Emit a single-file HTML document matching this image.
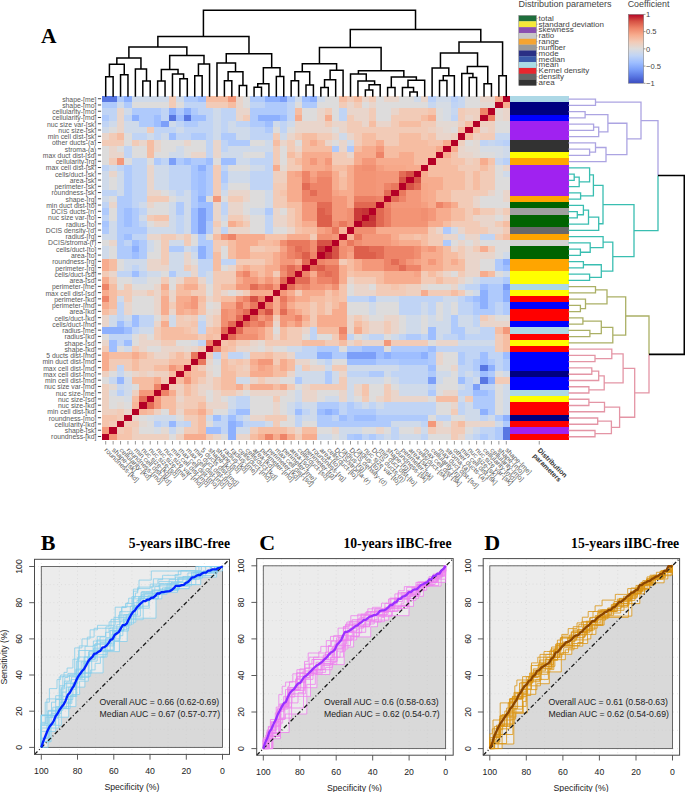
<!DOCTYPE html>
<html><head><meta charset="utf-8"><style>
html,body{margin:0;padding:0;background:#fff;}
svg{display:block;}
</style></head><body>
<svg width="685" height="792" viewBox="0 0 685 792">
<rect width="685" height="792" fill="#fff"/>
<defs><filter id="soft" x="-2%" y="-2%" width="104%" height="104%"><feGaussianBlur stdDeviation="0.45"/></filter></defs>
<g shape-rendering="crispEdges" filter="url(#soft)">
<rect x="102.00" y="95.90" width="15.14" height="6.55" fill="#5977e3"/>
<rect x="116.84" y="95.90" width="7.72" height="6.55" fill="#afcafc"/>
<rect x="124.25" y="95.90" width="7.72" height="6.55" fill="#8db0fe"/>
<rect x="131.67" y="95.90" width="37.39" height="6.55" fill="#cfdaea"/>
<rect x="168.76" y="95.90" width="7.72" height="6.55" fill="#f2cbb7"/>
<rect x="176.18" y="95.90" width="7.72" height="6.55" fill="#cfdaea"/>
<rect x="183.60" y="95.90" width="15.14" height="6.55" fill="#afcafc"/>
<rect x="198.44" y="95.90" width="7.72" height="6.55" fill="#9ebeff"/>
<rect x="205.85" y="95.90" width="22.55" height="6.55" fill="#f6bda2"/>
<rect x="228.11" y="95.90" width="7.72" height="6.55" fill="#f4987a"/>
<rect x="235.53" y="95.90" width="7.72" height="6.55" fill="#e9d5cb"/>
<rect x="242.95" y="95.90" width="7.72" height="6.55" fill="#dddcdc"/>
<rect x="250.36" y="95.90" width="15.14" height="6.55" fill="#afcafc"/>
<rect x="265.20" y="95.90" width="15.14" height="6.55" fill="#8db0fe"/>
<rect x="280.04" y="95.90" width="7.72" height="6.55" fill="#7b9ff9"/>
<rect x="287.45" y="95.90" width="7.72" height="6.55" fill="#afcafc"/>
<rect x="294.87" y="95.90" width="7.72" height="6.55" fill="#cfdaea"/>
<rect x="302.29" y="95.90" width="7.72" height="6.55" fill="#9ebeff"/>
<rect x="309.71" y="95.90" width="7.72" height="6.55" fill="#8db0fe"/>
<rect x="317.13" y="95.90" width="7.72" height="6.55" fill="#cfdaea"/>
<rect x="324.55" y="95.90" width="15.14" height="6.55" fill="#dddcdc"/>
<rect x="339.38" y="95.90" width="7.72" height="6.55" fill="#f6bda2"/>
<rect x="346.80" y="95.90" width="7.72" height="6.55" fill="#f2cbb7"/>
<rect x="354.22" y="95.90" width="7.72" height="6.55" fill="#f6bda2"/>
<rect x="361.64" y="95.90" width="7.72" height="6.55" fill="#e9d5cb"/>
<rect x="369.05" y="95.90" width="7.72" height="6.55" fill="#f2cbb7"/>
<rect x="376.47" y="95.90" width="7.72" height="6.55" fill="#dddcdc"/>
<rect x="383.89" y="95.90" width="15.14" height="6.55" fill="#e9d5cb"/>
<rect x="398.73" y="95.90" width="15.14" height="6.55" fill="#dddcdc"/>
<rect x="413.56" y="95.90" width="7.72" height="6.55" fill="#cfdaea"/>
<rect x="420.98" y="95.90" width="7.72" height="6.55" fill="#e9d5cb"/>
<rect x="428.40" y="95.90" width="7.72" height="6.55" fill="#b9d0f9"/>
<rect x="435.82" y="95.90" width="15.14" height="6.55" fill="#cfdaea"/>
<rect x="450.65" y="95.90" width="7.72" height="6.55" fill="#b9d0f9"/>
<rect x="458.07" y="95.90" width="7.72" height="6.55" fill="#c7d7f0"/>
<rect x="465.49" y="95.90" width="15.14" height="6.55" fill="#dddcdc"/>
<rect x="480.33" y="95.90" width="15.14" height="6.55" fill="#e9d5cb"/>
<rect x="495.16" y="95.90" width="7.72" height="6.55" fill="#f7ac8e"/>
<rect x="502.58" y="95.90" width="7.72" height="6.55" fill="#b40426"/>
<rect x="102.00" y="102.15" width="15.14" height="6.55" fill="#afcafc"/>
<rect x="116.84" y="102.15" width="7.72" height="6.55" fill="#cfdaea"/>
<rect x="124.25" y="102.15" width="7.72" height="6.55" fill="#afcafc"/>
<rect x="131.67" y="102.15" width="37.39" height="6.55" fill="#dddcdc"/>
<rect x="168.76" y="102.15" width="7.72" height="6.55" fill="#f2cbb7"/>
<rect x="176.18" y="102.15" width="7.72" height="6.55" fill="#dddcdc"/>
<rect x="183.60" y="102.15" width="22.55" height="6.55" fill="#c0d4f5"/>
<rect x="205.85" y="102.15" width="22.55" height="6.55" fill="#f2cbb7"/>
<rect x="228.11" y="102.15" width="7.72" height="6.55" fill="#f6bda2"/>
<rect x="235.53" y="102.15" width="7.72" height="6.55" fill="#e9d5cb"/>
<rect x="242.95" y="102.15" width="7.72" height="6.55" fill="#dddcdc"/>
<rect x="250.36" y="102.15" width="15.14" height="6.55" fill="#c0d4f5"/>
<rect x="265.20" y="102.15" width="22.55" height="6.55" fill="#afcafc"/>
<rect x="287.45" y="102.15" width="7.72" height="6.55" fill="#c0d4f5"/>
<rect x="294.87" y="102.15" width="7.72" height="6.55" fill="#dddcdc"/>
<rect x="302.29" y="102.15" width="15.14" height="6.55" fill="#afcafc"/>
<rect x="317.13" y="102.15" width="22.55" height="6.55" fill="#dddcdc"/>
<rect x="339.38" y="102.15" width="7.72" height="6.55" fill="#f2cbb7"/>
<rect x="346.80" y="102.15" width="7.72" height="6.55" fill="#e9d5cb"/>
<rect x="354.22" y="102.15" width="7.72" height="6.55" fill="#f2cbb7"/>
<rect x="361.64" y="102.15" width="7.72" height="6.55" fill="#dddcdc"/>
<rect x="369.05" y="102.15" width="7.72" height="6.55" fill="#e9d5cb"/>
<rect x="376.47" y="102.15" width="52.23" height="6.55" fill="#dddcdc"/>
<rect x="428.40" y="102.15" width="7.72" height="6.55" fill="#c7d7f0"/>
<rect x="435.82" y="102.15" width="15.14" height="6.55" fill="#d6dce4"/>
<rect x="450.65" y="102.15" width="7.72" height="6.55" fill="#c0d4f5"/>
<rect x="458.07" y="102.15" width="7.72" height="6.55" fill="#c7d7f0"/>
<rect x="465.49" y="102.15" width="15.14" height="6.55" fill="#dddcdc"/>
<rect x="480.33" y="102.15" width="15.14" height="6.55" fill="#e3d9d3"/>
<rect x="495.16" y="102.15" width="7.72" height="6.55" fill="#b40426"/>
<rect x="502.58" y="102.15" width="7.72" height="6.55" fill="#f7ac8e"/>
<rect x="102.00" y="108.41" width="15.14" height="6.55" fill="#c0d4f5"/>
<rect x="116.84" y="108.41" width="7.72" height="6.55" fill="#e9d5cb"/>
<rect x="124.25" y="108.41" width="7.72" height="6.55" fill="#cfdaea"/>
<rect x="131.67" y="108.41" width="29.97" height="6.55" fill="#afcafc"/>
<rect x="161.35" y="108.41" width="7.72" height="6.55" fill="#c0d4f5"/>
<rect x="168.76" y="108.41" width="7.72" height="6.55" fill="#8db0fe"/>
<rect x="176.18" y="108.41" width="7.72" height="6.55" fill="#afcafc"/>
<rect x="183.60" y="108.41" width="7.72" height="6.55" fill="#8db0fe"/>
<rect x="191.02" y="108.41" width="7.72" height="6.55" fill="#afcafc"/>
<rect x="198.44" y="108.41" width="15.14" height="6.55" fill="#c0d4f5"/>
<rect x="213.27" y="108.41" width="7.72" height="6.55" fill="#cfdaea"/>
<rect x="220.69" y="108.41" width="15.14" height="6.55" fill="#c0d4f5"/>
<rect x="235.53" y="108.41" width="15.14" height="6.55" fill="#e9d5cb"/>
<rect x="250.36" y="108.41" width="37.39" height="6.55" fill="#afcafc"/>
<rect x="287.45" y="108.41" width="7.72" height="6.55" fill="#c0d4f5"/>
<rect x="294.87" y="108.41" width="7.72" height="6.55" fill="#f6bda2"/>
<rect x="302.29" y="108.41" width="15.14" height="6.55" fill="#dddcdc"/>
<rect x="317.13" y="108.41" width="7.72" height="6.55" fill="#e9d5cb"/>
<rect x="324.55" y="108.41" width="7.72" height="6.55" fill="#f2cbb7"/>
<rect x="331.96" y="108.41" width="7.72" height="6.55" fill="#dddcdc"/>
<rect x="339.38" y="108.41" width="7.72" height="6.55" fill="#c0d4f5"/>
<rect x="346.80" y="108.41" width="22.55" height="6.55" fill="#e9d5cb"/>
<rect x="369.05" y="108.41" width="7.72" height="6.55" fill="#f2cbb7"/>
<rect x="376.47" y="108.41" width="15.14" height="6.55" fill="#dddcdc"/>
<rect x="391.31" y="108.41" width="7.72" height="6.55" fill="#e9d5cb"/>
<rect x="398.73" y="108.41" width="29.97" height="6.55" fill="#f2cbb7"/>
<rect x="428.40" y="108.41" width="7.72" height="6.55" fill="#f5c4ac"/>
<rect x="435.82" y="108.41" width="7.72" height="6.55" fill="#dddcdc"/>
<rect x="443.24" y="108.41" width="7.72" height="6.55" fill="#d6dce4"/>
<rect x="450.65" y="108.41" width="7.72" height="6.55" fill="#c7d7f0"/>
<rect x="458.07" y="108.41" width="7.72" height="6.55" fill="#f2cbb7"/>
<rect x="465.49" y="108.41" width="15.14" height="6.55" fill="#eed0c0"/>
<rect x="480.33" y="108.41" width="7.72" height="6.55" fill="#ee8468"/>
<rect x="487.75" y="108.41" width="7.72" height="6.55" fill="#b40426"/>
<rect x="495.16" y="108.41" width="7.72" height="6.55" fill="#e3d9d3"/>
<rect x="502.58" y="108.41" width="7.72" height="6.55" fill="#e9d5cb"/>
<rect x="102.00" y="114.66" width="7.72" height="6.55" fill="#afcafc"/>
<rect x="109.42" y="114.66" width="7.72" height="6.55" fill="#c0d4f5"/>
<rect x="116.84" y="114.66" width="7.72" height="6.55" fill="#e9d5cb"/>
<rect x="124.25" y="114.66" width="7.72" height="6.55" fill="#c0d4f5"/>
<rect x="131.67" y="114.66" width="7.72" height="6.55" fill="#8db0fe"/>
<rect x="139.09" y="114.66" width="15.14" height="6.55" fill="#afcafc"/>
<rect x="153.93" y="114.66" width="7.72" height="6.55" fill="#9ebeff"/>
<rect x="161.35" y="114.66" width="7.72" height="6.55" fill="#c0d4f5"/>
<rect x="168.76" y="114.66" width="7.72" height="6.55" fill="#5977e3"/>
<rect x="176.18" y="114.66" width="7.72" height="6.55" fill="#9ebeff"/>
<rect x="183.60" y="114.66" width="7.72" height="6.55" fill="#5977e3"/>
<rect x="191.02" y="114.66" width="15.14" height="6.55" fill="#9ebeff"/>
<rect x="205.85" y="114.66" width="7.72" height="6.55" fill="#c0d4f5"/>
<rect x="213.27" y="114.66" width="7.72" height="6.55" fill="#cfdaea"/>
<rect x="220.69" y="114.66" width="15.14" height="6.55" fill="#c0d4f5"/>
<rect x="235.53" y="114.66" width="7.72" height="6.55" fill="#e9d5cb"/>
<rect x="242.95" y="114.66" width="7.72" height="6.55" fill="#f2cbb7"/>
<rect x="250.36" y="114.66" width="7.72" height="6.55" fill="#afcafc"/>
<rect x="257.78" y="114.66" width="22.55" height="6.55" fill="#8db0fe"/>
<rect x="280.04" y="114.66" width="7.72" height="6.55" fill="#9ebeff"/>
<rect x="287.45" y="114.66" width="7.72" height="6.55" fill="#c0d4f5"/>
<rect x="294.87" y="114.66" width="7.72" height="6.55" fill="#f7ac8e"/>
<rect x="302.29" y="114.66" width="15.14" height="6.55" fill="#dddcdc"/>
<rect x="317.13" y="114.66" width="7.72" height="6.55" fill="#e9d5cb"/>
<rect x="324.55" y="114.66" width="7.72" height="6.55" fill="#f7ac8e"/>
<rect x="331.96" y="114.66" width="7.72" height="6.55" fill="#dddcdc"/>
<rect x="339.38" y="114.66" width="7.72" height="6.55" fill="#c0d4f5"/>
<rect x="346.80" y="114.66" width="7.72" height="6.55" fill="#f2cbb7"/>
<rect x="354.22" y="114.66" width="15.14" height="6.55" fill="#e9d5cb"/>
<rect x="369.05" y="114.66" width="7.72" height="6.55" fill="#f2cbb7"/>
<rect x="376.47" y="114.66" width="15.14" height="6.55" fill="#dddcdc"/>
<rect x="391.31" y="114.66" width="29.97" height="6.55" fill="#f2cbb7"/>
<rect x="420.98" y="114.66" width="7.72" height="6.55" fill="#f6bda2"/>
<rect x="428.40" y="114.66" width="7.72" height="6.55" fill="#f7ac8e"/>
<rect x="435.82" y="114.66" width="7.72" height="6.55" fill="#dddcdc"/>
<rect x="443.24" y="114.66" width="7.72" height="6.55" fill="#d6dce4"/>
<rect x="450.65" y="114.66" width="7.72" height="6.55" fill="#c0d4f5"/>
<rect x="458.07" y="114.66" width="7.72" height="6.55" fill="#f2cbb7"/>
<rect x="465.49" y="114.66" width="7.72" height="6.55" fill="#e9d5cb"/>
<rect x="472.91" y="114.66" width="7.72" height="6.55" fill="#eed0c0"/>
<rect x="480.33" y="114.66" width="7.72" height="6.55" fill="#b40426"/>
<rect x="487.75" y="114.66" width="7.72" height="6.55" fill="#ee8468"/>
<rect x="495.16" y="114.66" width="7.72" height="6.55" fill="#e3d9d3"/>
<rect x="502.58" y="114.66" width="7.72" height="6.55" fill="#e9d5cb"/>
<rect x="102.00" y="120.92" width="7.72" height="6.55" fill="#c0d4f5"/>
<rect x="109.42" y="120.92" width="7.72" height="6.55" fill="#cfdaea"/>
<rect x="116.84" y="120.92" width="7.72" height="6.55" fill="#e9d5cb"/>
<rect x="124.25" y="120.92" width="15.14" height="6.55" fill="#cfdaea"/>
<rect x="139.09" y="120.92" width="15.14" height="6.55" fill="#afcafc"/>
<rect x="153.93" y="120.92" width="7.72" height="6.55" fill="#9ebeff"/>
<rect x="161.35" y="120.92" width="7.72" height="6.55" fill="#7b9ff9"/>
<rect x="168.76" y="120.92" width="7.72" height="6.55" fill="#cfdaea"/>
<rect x="176.18" y="120.92" width="7.72" height="6.55" fill="#c0d4f5"/>
<rect x="183.60" y="120.92" width="15.14" height="6.55" fill="#afcafc"/>
<rect x="198.44" y="120.92" width="15.14" height="6.55" fill="#c0d4f5"/>
<rect x="213.27" y="120.92" width="7.72" height="6.55" fill="#cfdaea"/>
<rect x="220.69" y="120.92" width="7.72" height="6.55" fill="#c0d4f5"/>
<rect x="228.11" y="120.92" width="7.72" height="6.55" fill="#cfdaea"/>
<rect x="235.53" y="120.92" width="15.14" height="6.55" fill="#c0d4f5"/>
<rect x="250.36" y="120.92" width="15.14" height="6.55" fill="#afcafc"/>
<rect x="265.20" y="120.92" width="7.72" height="6.55" fill="#9ebeff"/>
<rect x="272.62" y="120.92" width="7.72" height="6.55" fill="#cfdaea"/>
<rect x="280.04" y="120.92" width="7.72" height="6.55" fill="#c0d4f5"/>
<rect x="287.45" y="120.92" width="7.72" height="6.55" fill="#cfdaea"/>
<rect x="294.87" y="120.92" width="29.97" height="6.55" fill="#e9d5cb"/>
<rect x="324.55" y="120.92" width="7.72" height="6.55" fill="#f2cbb7"/>
<rect x="331.96" y="120.92" width="15.14" height="6.55" fill="#e9d5cb"/>
<rect x="346.80" y="120.92" width="15.14" height="6.55" fill="#f2cbb7"/>
<rect x="361.64" y="120.92" width="7.72" height="6.55" fill="#e9d5cb"/>
<rect x="369.05" y="120.92" width="7.72" height="6.55" fill="#f6bda2"/>
<rect x="376.47" y="120.92" width="15.14" height="6.55" fill="#e9d5cb"/>
<rect x="391.31" y="120.92" width="7.72" height="6.55" fill="#f2cbb7"/>
<rect x="398.73" y="120.92" width="22.55" height="6.55" fill="#f6bda2"/>
<rect x="420.98" y="120.92" width="15.14" height="6.55" fill="#f2cbb7"/>
<rect x="435.82" y="120.92" width="22.55" height="6.55" fill="#e3d9d3"/>
<rect x="458.07" y="120.92" width="7.72" height="6.55" fill="#eed0c0"/>
<rect x="465.49" y="120.92" width="7.72" height="6.55" fill="#f6bda2"/>
<rect x="472.91" y="120.92" width="7.72" height="6.55" fill="#b40426"/>
<rect x="480.33" y="120.92" width="15.14" height="6.55" fill="#eed0c0"/>
<rect x="495.16" y="120.92" width="15.14" height="6.55" fill="#dddcdc"/>
<rect x="102.00" y="127.17" width="7.72" height="6.55" fill="#cfdaea"/>
<rect x="109.42" y="127.17" width="7.72" height="6.55" fill="#dddcdc"/>
<rect x="116.84" y="127.17" width="7.72" height="6.55" fill="#e9d5cb"/>
<rect x="124.25" y="127.17" width="22.55" height="6.55" fill="#cfdaea"/>
<rect x="146.51" y="127.17" width="7.72" height="6.55" fill="#f2cbb7"/>
<rect x="153.93" y="127.17" width="22.55" height="6.55" fill="#c0d4f5"/>
<rect x="176.18" y="127.17" width="7.72" height="6.55" fill="#cfdaea"/>
<rect x="183.60" y="127.17" width="29.97" height="6.55" fill="#c0d4f5"/>
<rect x="213.27" y="127.17" width="7.72" height="6.55" fill="#cfdaea"/>
<rect x="220.69" y="127.17" width="7.72" height="6.55" fill="#c0d4f5"/>
<rect x="228.11" y="127.17" width="22.55" height="6.55" fill="#cfdaea"/>
<rect x="250.36" y="127.17" width="15.14" height="6.55" fill="#c0d4f5"/>
<rect x="265.20" y="127.17" width="7.72" height="6.55" fill="#afcafc"/>
<rect x="272.62" y="127.17" width="7.72" height="6.55" fill="#dddcdc"/>
<rect x="280.04" y="127.17" width="7.72" height="6.55" fill="#c0d4f5"/>
<rect x="287.45" y="127.17" width="7.72" height="6.55" fill="#dddcdc"/>
<rect x="294.87" y="127.17" width="37.39" height="6.55" fill="#e9d5cb"/>
<rect x="331.96" y="127.17" width="7.72" height="6.55" fill="#dddcdc"/>
<rect x="339.38" y="127.17" width="7.72" height="6.55" fill="#e9d5cb"/>
<rect x="346.80" y="127.17" width="81.90" height="6.55" fill="#f2cbb7"/>
<rect x="428.40" y="127.17" width="7.72" height="6.55" fill="#eed0c0"/>
<rect x="435.82" y="127.17" width="7.72" height="6.55" fill="#e9d5cb"/>
<rect x="443.24" y="127.17" width="7.72" height="6.55" fill="#e3d9d3"/>
<rect x="450.65" y="127.17" width="7.72" height="6.55" fill="#dddcdc"/>
<rect x="458.07" y="127.17" width="7.72" height="6.55" fill="#f6bda2"/>
<rect x="465.49" y="127.17" width="7.72" height="6.55" fill="#b40426"/>
<rect x="472.91" y="127.17" width="7.72" height="6.55" fill="#f6bda2"/>
<rect x="480.33" y="127.17" width="7.72" height="6.55" fill="#e9d5cb"/>
<rect x="487.75" y="127.17" width="7.72" height="6.55" fill="#eed0c0"/>
<rect x="495.16" y="127.17" width="15.14" height="6.55" fill="#dddcdc"/>
<rect x="102.00" y="133.43" width="7.72" height="6.55" fill="#e9d5cb"/>
<rect x="109.42" y="133.43" width="7.72" height="6.55" fill="#f2cbb7"/>
<rect x="116.84" y="133.43" width="7.72" height="6.55" fill="#f6bda2"/>
<rect x="124.25" y="133.43" width="7.72" height="6.55" fill="#dddcdc"/>
<rect x="131.67" y="133.43" width="15.14" height="6.55" fill="#c0d4f5"/>
<rect x="146.51" y="133.43" width="7.72" height="6.55" fill="#cfdaea"/>
<rect x="153.93" y="133.43" width="7.72" height="6.55" fill="#c0d4f5"/>
<rect x="161.35" y="133.43" width="7.72" height="6.55" fill="#cfdaea"/>
<rect x="168.76" y="133.43" width="7.72" height="6.55" fill="#9ebeff"/>
<rect x="176.18" y="133.43" width="15.14" height="6.55" fill="#c0d4f5"/>
<rect x="191.02" y="133.43" width="15.14" height="6.55" fill="#afcafc"/>
<rect x="205.85" y="133.43" width="7.72" height="6.55" fill="#c0d4f5"/>
<rect x="213.27" y="133.43" width="7.72" height="6.55" fill="#cfdaea"/>
<rect x="220.69" y="133.43" width="15.14" height="6.55" fill="#afcafc"/>
<rect x="235.53" y="133.43" width="15.14" height="6.55" fill="#cfdaea"/>
<rect x="250.36" y="133.43" width="22.55" height="6.55" fill="#c0d4f5"/>
<rect x="272.62" y="133.43" width="7.72" height="6.55" fill="#f2cbb7"/>
<rect x="280.04" y="133.43" width="7.72" height="6.55" fill="#cfdaea"/>
<rect x="287.45" y="133.43" width="7.72" height="6.55" fill="#e9d5cb"/>
<rect x="294.87" y="133.43" width="7.72" height="6.55" fill="#f2cbb7"/>
<rect x="302.29" y="133.43" width="15.14" height="6.55" fill="#f6bda2"/>
<rect x="317.13" y="133.43" width="15.14" height="6.55" fill="#f2cbb7"/>
<rect x="331.96" y="133.43" width="7.72" height="6.55" fill="#e9d5cb"/>
<rect x="339.38" y="133.43" width="7.72" height="6.55" fill="#cfdaea"/>
<rect x="346.80" y="133.43" width="7.72" height="6.55" fill="#e9d5cb"/>
<rect x="354.22" y="133.43" width="7.72" height="6.55" fill="#f2cbb7"/>
<rect x="361.64" y="133.43" width="15.14" height="6.55" fill="#f6bda2"/>
<rect x="376.47" y="133.43" width="22.55" height="6.55" fill="#f2cbb7"/>
<rect x="398.73" y="133.43" width="22.55" height="6.55" fill="#f6bda2"/>
<rect x="420.98" y="133.43" width="7.72" height="6.55" fill="#f2cbb7"/>
<rect x="428.40" y="133.43" width="7.72" height="6.55" fill="#f5c4ac"/>
<rect x="435.82" y="133.43" width="15.14" height="6.55" fill="#e9d5cb"/>
<rect x="450.65" y="133.43" width="7.72" height="6.55" fill="#eed0c0"/>
<rect x="458.07" y="133.43" width="7.72" height="6.55" fill="#b40426"/>
<rect x="465.49" y="133.43" width="7.72" height="6.55" fill="#f6bda2"/>
<rect x="472.91" y="133.43" width="7.72" height="6.55" fill="#eed0c0"/>
<rect x="480.33" y="133.43" width="15.14" height="6.55" fill="#f2cbb7"/>
<rect x="495.16" y="133.43" width="15.14" height="6.55" fill="#c7d7f0"/>
<rect x="102.00" y="139.68" width="22.55" height="6.55" fill="#f2cbb7"/>
<rect x="124.25" y="139.68" width="7.72" height="6.55" fill="#dddcdc"/>
<rect x="131.67" y="139.68" width="7.72" height="6.55" fill="#f2cbb7"/>
<rect x="139.09" y="139.68" width="7.72" height="6.55" fill="#e9d5cb"/>
<rect x="146.51" y="139.68" width="7.72" height="6.55" fill="#f6bda2"/>
<rect x="153.93" y="139.68" width="7.72" height="6.55" fill="#e9d5cb"/>
<rect x="161.35" y="139.68" width="22.55" height="6.55" fill="#dddcdc"/>
<rect x="183.60" y="139.68" width="7.72" height="6.55" fill="#e9d5cb"/>
<rect x="191.02" y="139.68" width="15.14" height="6.55" fill="#dddcdc"/>
<rect x="205.85" y="139.68" width="7.72" height="6.55" fill="#c0d4f5"/>
<rect x="213.27" y="139.68" width="7.72" height="6.55" fill="#e9d5cb"/>
<rect x="220.69" y="139.68" width="7.72" height="6.55" fill="#c0d4f5"/>
<rect x="228.11" y="139.68" width="22.55" height="6.55" fill="#afcafc"/>
<rect x="250.36" y="139.68" width="15.14" height="6.55" fill="#dddcdc"/>
<rect x="265.20" y="139.68" width="7.72" height="6.55" fill="#cfdaea"/>
<rect x="272.62" y="139.68" width="7.72" height="6.55" fill="#f6bda2"/>
<rect x="280.04" y="139.68" width="7.72" height="6.55" fill="#e9d5cb"/>
<rect x="287.45" y="139.68" width="7.72" height="6.55" fill="#f2cbb7"/>
<rect x="294.87" y="139.68" width="7.72" height="6.55" fill="#dddcdc"/>
<rect x="302.29" y="139.68" width="7.72" height="6.55" fill="#f6bda2"/>
<rect x="309.71" y="139.68" width="7.72" height="6.55" fill="#f7ac8e"/>
<rect x="317.13" y="139.68" width="7.72" height="6.55" fill="#f6bda2"/>
<rect x="324.55" y="139.68" width="7.72" height="6.55" fill="#e9d5cb"/>
<rect x="331.96" y="139.68" width="7.72" height="6.55" fill="#dddcdc"/>
<rect x="339.38" y="139.68" width="7.72" height="6.55" fill="#e9d5cb"/>
<rect x="346.80" y="139.68" width="7.72" height="6.55" fill="#cfdaea"/>
<rect x="354.22" y="139.68" width="7.72" height="6.55" fill="#f2cbb7"/>
<rect x="361.64" y="139.68" width="15.14" height="6.55" fill="#f6bda2"/>
<rect x="376.47" y="139.68" width="7.72" height="6.55" fill="#f7ac8e"/>
<rect x="383.89" y="139.68" width="15.14" height="6.55" fill="#f2cbb7"/>
<rect x="398.73" y="139.68" width="29.97" height="6.55" fill="#f6bda2"/>
<rect x="428.40" y="139.68" width="15.14" height="6.55" fill="#f5c4ac"/>
<rect x="443.24" y="139.68" width="7.72" height="6.55" fill="#f7ac8e"/>
<rect x="450.65" y="139.68" width="7.72" height="6.55" fill="#b40426"/>
<rect x="458.07" y="139.68" width="7.72" height="6.55" fill="#eed0c0"/>
<rect x="465.49" y="139.68" width="7.72" height="6.55" fill="#dddcdc"/>
<rect x="472.91" y="139.68" width="7.72" height="6.55" fill="#e3d9d3"/>
<rect x="480.33" y="139.68" width="7.72" height="6.55" fill="#c0d4f5"/>
<rect x="487.75" y="139.68" width="7.72" height="6.55" fill="#c7d7f0"/>
<rect x="495.16" y="139.68" width="7.72" height="6.55" fill="#c0d4f5"/>
<rect x="502.58" y="139.68" width="7.72" height="6.55" fill="#b9d0f9"/>
<rect x="102.00" y="145.94" width="7.72" height="6.55" fill="#dddcdc"/>
<rect x="109.42" y="145.94" width="7.72" height="6.55" fill="#e9d5cb"/>
<rect x="116.84" y="145.94" width="7.72" height="6.55" fill="#dddcdc"/>
<rect x="124.25" y="145.94" width="7.72" height="6.55" fill="#c0d4f5"/>
<rect x="131.67" y="145.94" width="15.14" height="6.55" fill="#dddcdc"/>
<rect x="146.51" y="145.94" width="7.72" height="6.55" fill="#f6bda2"/>
<rect x="153.93" y="145.94" width="7.72" height="6.55" fill="#e9d5cb"/>
<rect x="161.35" y="145.94" width="15.14" height="6.55" fill="#dddcdc"/>
<rect x="176.18" y="145.94" width="7.72" height="6.55" fill="#cfdaea"/>
<rect x="183.60" y="145.94" width="22.55" height="6.55" fill="#dddcdc"/>
<rect x="205.85" y="145.94" width="7.72" height="6.55" fill="#c0d4f5"/>
<rect x="213.27" y="145.94" width="7.72" height="6.55" fill="#e9d5cb"/>
<rect x="220.69" y="145.94" width="7.72" height="6.55" fill="#c0d4f5"/>
<rect x="228.11" y="145.94" width="44.81" height="6.55" fill="#cfdaea"/>
<rect x="272.62" y="145.94" width="7.72" height="6.55" fill="#f2cbb7"/>
<rect x="280.04" y="145.94" width="7.72" height="6.55" fill="#dddcdc"/>
<rect x="287.45" y="145.94" width="7.72" height="6.55" fill="#f2cbb7"/>
<rect x="294.87" y="145.94" width="7.72" height="6.55" fill="#e9d5cb"/>
<rect x="302.29" y="145.94" width="29.97" height="6.55" fill="#f6bda2"/>
<rect x="331.96" y="145.94" width="7.72" height="6.55" fill="#afcafc"/>
<rect x="339.38" y="145.94" width="7.72" height="6.55" fill="#e9d5cb"/>
<rect x="346.80" y="145.94" width="7.72" height="6.55" fill="#afcafc"/>
<rect x="354.22" y="145.94" width="7.72" height="6.55" fill="#f6bda2"/>
<rect x="361.64" y="145.94" width="15.14" height="6.55" fill="#f7ac8e"/>
<rect x="376.47" y="145.94" width="7.72" height="6.55" fill="#f4987a"/>
<rect x="383.89" y="145.94" width="52.23" height="6.55" fill="#f6bda2"/>
<rect x="435.82" y="145.94" width="7.72" height="6.55" fill="#f7ac8e"/>
<rect x="443.24" y="145.94" width="7.72" height="6.55" fill="#b40426"/>
<rect x="450.65" y="145.94" width="7.72" height="6.55" fill="#f7ac8e"/>
<rect x="458.07" y="145.94" width="7.72" height="6.55" fill="#e9d5cb"/>
<rect x="465.49" y="145.94" width="15.14" height="6.55" fill="#e3d9d3"/>
<rect x="480.33" y="145.94" width="22.55" height="6.55" fill="#d6dce4"/>
<rect x="502.58" y="145.94" width="7.72" height="6.55" fill="#cfdaea"/>
<rect x="102.00" y="152.19" width="7.72" height="6.55" fill="#dddcdc"/>
<rect x="109.42" y="152.19" width="15.14" height="6.55" fill="#e9d5cb"/>
<rect x="124.25" y="152.19" width="7.72" height="6.55" fill="#c0d4f5"/>
<rect x="131.67" y="152.19" width="15.14" height="6.55" fill="#dddcdc"/>
<rect x="146.51" y="152.19" width="7.72" height="6.55" fill="#f6bda2"/>
<rect x="153.93" y="152.19" width="15.14" height="6.55" fill="#dddcdc"/>
<rect x="168.76" y="152.19" width="15.14" height="6.55" fill="#cfdaea"/>
<rect x="183.60" y="152.19" width="7.72" height="6.55" fill="#dddcdc"/>
<rect x="191.02" y="152.19" width="15.14" height="6.55" fill="#e9d5cb"/>
<rect x="205.85" y="152.19" width="7.72" height="6.55" fill="#c0d4f5"/>
<rect x="213.27" y="152.19" width="7.72" height="6.55" fill="#e9d5cb"/>
<rect x="220.69" y="152.19" width="22.55" height="6.55" fill="#cfdaea"/>
<rect x="242.95" y="152.19" width="22.55" height="6.55" fill="#dddcdc"/>
<rect x="265.20" y="152.19" width="7.72" height="6.55" fill="#c0d4f5"/>
<rect x="272.62" y="152.19" width="7.72" height="6.55" fill="#f2cbb7"/>
<rect x="280.04" y="152.19" width="7.72" height="6.55" fill="#dddcdc"/>
<rect x="287.45" y="152.19" width="7.72" height="6.55" fill="#f6bda2"/>
<rect x="294.87" y="152.19" width="7.72" height="6.55" fill="#f2cbb7"/>
<rect x="302.29" y="152.19" width="29.97" height="6.55" fill="#f7ac8e"/>
<rect x="331.96" y="152.19" width="15.14" height="6.55" fill="#f2cbb7"/>
<rect x="346.80" y="152.19" width="7.72" height="6.55" fill="#e9d5cb"/>
<rect x="354.22" y="152.19" width="22.55" height="6.55" fill="#f7ac8e"/>
<rect x="376.47" y="152.19" width="7.72" height="6.55" fill="#ee8468"/>
<rect x="383.89" y="152.19" width="15.14" height="6.55" fill="#f6bda2"/>
<rect x="398.73" y="152.19" width="15.14" height="6.55" fill="#f7ac8e"/>
<rect x="413.56" y="152.19" width="22.55" height="6.55" fill="#f6bda2"/>
<rect x="435.82" y="152.19" width="7.72" height="6.55" fill="#b40426"/>
<rect x="443.24" y="152.19" width="7.72" height="6.55" fill="#f7ac8e"/>
<rect x="450.65" y="152.19" width="7.72" height="6.55" fill="#f5c4ac"/>
<rect x="458.07" y="152.19" width="15.14" height="6.55" fill="#e9d5cb"/>
<rect x="472.91" y="152.19" width="7.72" height="6.55" fill="#e3d9d3"/>
<rect x="480.33" y="152.19" width="15.14" height="6.55" fill="#dddcdc"/>
<rect x="495.16" y="152.19" width="7.72" height="6.55" fill="#d6dce4"/>
<rect x="502.58" y="152.19" width="7.72" height="6.55" fill="#cfdaea"/>
<rect x="102.00" y="158.45" width="7.72" height="6.55" fill="#dddcdc"/>
<rect x="109.42" y="158.45" width="7.72" height="6.55" fill="#f2cbb7"/>
<rect x="116.84" y="158.45" width="7.72" height="6.55" fill="#f4987a"/>
<rect x="124.25" y="158.45" width="7.72" height="6.55" fill="#dddcdc"/>
<rect x="131.67" y="158.45" width="15.14" height="6.55" fill="#c0d4f5"/>
<rect x="146.51" y="158.45" width="7.72" height="6.55" fill="#dddcdc"/>
<rect x="153.93" y="158.45" width="7.72" height="6.55" fill="#afcafc"/>
<rect x="161.35" y="158.45" width="7.72" height="6.55" fill="#c0d4f5"/>
<rect x="168.76" y="158.45" width="7.72" height="6.55" fill="#7b9ff9"/>
<rect x="176.18" y="158.45" width="7.72" height="6.55" fill="#afcafc"/>
<rect x="183.60" y="158.45" width="7.72" height="6.55" fill="#9ebeff"/>
<rect x="191.02" y="158.45" width="15.14" height="6.55" fill="#afcafc"/>
<rect x="205.85" y="158.45" width="7.72" height="6.55" fill="#9ebeff"/>
<rect x="213.27" y="158.45" width="7.72" height="6.55" fill="#dddcdc"/>
<rect x="220.69" y="158.45" width="15.14" height="6.55" fill="#9ebeff"/>
<rect x="235.53" y="158.45" width="15.14" height="6.55" fill="#cfdaea"/>
<rect x="250.36" y="158.45" width="22.55" height="6.55" fill="#c0d4f5"/>
<rect x="272.62" y="158.45" width="7.72" height="6.55" fill="#f2cbb7"/>
<rect x="280.04" y="158.45" width="7.72" height="6.55" fill="#dddcdc"/>
<rect x="287.45" y="158.45" width="7.72" height="6.55" fill="#f2cbb7"/>
<rect x="294.87" y="158.45" width="7.72" height="6.55" fill="#f6bda2"/>
<rect x="302.29" y="158.45" width="7.72" height="6.55" fill="#f7ac8e"/>
<rect x="309.71" y="158.45" width="7.72" height="6.55" fill="#f4987a"/>
<rect x="317.13" y="158.45" width="7.72" height="6.55" fill="#f7ac8e"/>
<rect x="324.55" y="158.45" width="7.72" height="6.55" fill="#f4987a"/>
<rect x="331.96" y="158.45" width="22.55" height="6.55" fill="#f2cbb7"/>
<rect x="354.22" y="158.45" width="7.72" height="6.55" fill="#f7ac8e"/>
<rect x="361.64" y="158.45" width="15.14" height="6.55" fill="#f4987a"/>
<rect x="376.47" y="158.45" width="37.39" height="6.55" fill="#f7ac8e"/>
<rect x="413.56" y="158.45" width="15.14" height="6.55" fill="#f6bda2"/>
<rect x="428.40" y="158.45" width="7.72" height="6.55" fill="#b40426"/>
<rect x="435.82" y="158.45" width="15.14" height="6.55" fill="#f6bda2"/>
<rect x="450.65" y="158.45" width="15.14" height="6.55" fill="#f5c4ac"/>
<rect x="465.49" y="158.45" width="7.72" height="6.55" fill="#eed0c0"/>
<rect x="472.91" y="158.45" width="7.72" height="6.55" fill="#f2cbb7"/>
<rect x="480.33" y="158.45" width="7.72" height="6.55" fill="#f7ac8e"/>
<rect x="487.75" y="158.45" width="7.72" height="6.55" fill="#f5c4ac"/>
<rect x="495.16" y="158.45" width="7.72" height="6.55" fill="#c7d7f0"/>
<rect x="502.58" y="158.45" width="7.72" height="6.55" fill="#b9d0f9"/>
<rect x="102.00" y="164.70" width="7.72" height="6.55" fill="#c0d4f5"/>
<rect x="109.42" y="164.70" width="7.72" height="6.55" fill="#cfdaea"/>
<rect x="116.84" y="164.70" width="7.72" height="6.55" fill="#c0d4f5"/>
<rect x="124.25" y="164.70" width="7.72" height="6.55" fill="#afcafc"/>
<rect x="131.67" y="164.70" width="15.14" height="6.55" fill="#c0d4f5"/>
<rect x="146.51" y="164.70" width="7.72" height="6.55" fill="#e9d5cb"/>
<rect x="153.93" y="164.70" width="15.14" height="6.55" fill="#cfdaea"/>
<rect x="168.76" y="164.70" width="22.55" height="6.55" fill="#c0d4f5"/>
<rect x="191.02" y="164.70" width="7.72" height="6.55" fill="#a7c5fe"/>
<rect x="198.44" y="164.70" width="7.72" height="6.55" fill="#8db0fe"/>
<rect x="205.85" y="164.70" width="7.72" height="6.55" fill="#afcafc"/>
<rect x="213.27" y="164.70" width="7.72" height="6.55" fill="#f2cbb7"/>
<rect x="220.69" y="164.70" width="7.72" height="6.55" fill="#c0d4f5"/>
<rect x="228.11" y="164.70" width="22.55" height="6.55" fill="#dddcdc"/>
<rect x="250.36" y="164.70" width="15.14" height="6.55" fill="#cfdaea"/>
<rect x="265.20" y="164.70" width="7.72" height="6.55" fill="#c0d4f5"/>
<rect x="272.62" y="164.70" width="7.72" height="6.55" fill="#f7ac8e"/>
<rect x="280.04" y="164.70" width="7.72" height="6.55" fill="#e3d9d3"/>
<rect x="287.45" y="164.70" width="15.14" height="6.55" fill="#f2cbb7"/>
<rect x="302.29" y="164.70" width="22.55" height="6.55" fill="#f7ac8e"/>
<rect x="324.55" y="164.70" width="7.72" height="6.55" fill="#f6a385"/>
<rect x="331.96" y="164.70" width="15.14" height="6.55" fill="#f6bda2"/>
<rect x="346.80" y="164.70" width="7.72" height="6.55" fill="#f7ac8e"/>
<rect x="354.22" y="164.70" width="7.72" height="6.55" fill="#f39475"/>
<rect x="361.64" y="164.70" width="15.14" height="6.55" fill="#f18f71"/>
<rect x="376.47" y="164.70" width="7.72" height="6.55" fill="#f59f80"/>
<rect x="383.89" y="164.70" width="22.55" height="6.55" fill="#f7a889"/>
<rect x="406.15" y="164.70" width="15.14" height="6.55" fill="#f7ac8e"/>
<rect x="420.98" y="164.70" width="7.72" height="6.55" fill="#b40426"/>
<rect x="428.40" y="164.70" width="29.97" height="6.55" fill="#f6bda2"/>
<rect x="458.07" y="164.70" width="22.55" height="6.55" fill="#f2cbb7"/>
<rect x="480.33" y="164.70" width="7.72" height="6.55" fill="#f6bda2"/>
<rect x="487.75" y="164.70" width="7.72" height="6.55" fill="#f2cbb7"/>
<rect x="495.16" y="164.70" width="7.72" height="6.55" fill="#dddcdc"/>
<rect x="502.58" y="164.70" width="7.72" height="6.55" fill="#e9d5cb"/>
<rect x="102.00" y="170.95" width="7.72" height="6.55" fill="#cfdaea"/>
<rect x="109.42" y="170.95" width="7.72" height="6.55" fill="#e9d5cb"/>
<rect x="116.84" y="170.95" width="7.72" height="6.55" fill="#cfdaea"/>
<rect x="124.25" y="170.95" width="7.72" height="6.55" fill="#afcafc"/>
<rect x="131.67" y="170.95" width="15.14" height="6.55" fill="#c0d4f5"/>
<rect x="146.51" y="170.95" width="7.72" height="6.55" fill="#e9d5cb"/>
<rect x="153.93" y="170.95" width="15.14" height="6.55" fill="#cfdaea"/>
<rect x="168.76" y="170.95" width="22.55" height="6.55" fill="#c0d4f5"/>
<rect x="191.02" y="170.95" width="7.72" height="6.55" fill="#a7c5fe"/>
<rect x="198.44" y="170.95" width="7.72" height="6.55" fill="#9ebeff"/>
<rect x="205.85" y="170.95" width="7.72" height="6.55" fill="#afcafc"/>
<rect x="213.27" y="170.95" width="7.72" height="6.55" fill="#f2cbb7"/>
<rect x="220.69" y="170.95" width="7.72" height="6.55" fill="#afcafc"/>
<rect x="228.11" y="170.95" width="22.55" height="6.55" fill="#cfdaea"/>
<rect x="250.36" y="170.95" width="22.55" height="6.55" fill="#c0d4f5"/>
<rect x="272.62" y="170.95" width="15.14" height="6.55" fill="#eed0c0"/>
<rect x="287.45" y="170.95" width="7.72" height="6.55" fill="#f7ac8e"/>
<rect x="294.87" y="170.95" width="7.72" height="6.55" fill="#f6a385"/>
<rect x="302.29" y="170.95" width="7.72" height="6.55" fill="#ee8468"/>
<rect x="309.71" y="170.95" width="7.72" height="6.55" fill="#f6a385"/>
<rect x="317.13" y="170.95" width="15.14" height="6.55" fill="#f18f71"/>
<rect x="331.96" y="170.95" width="7.72" height="6.55" fill="#f7ac8e"/>
<rect x="339.38" y="170.95" width="7.72" height="6.55" fill="#f5c4ac"/>
<rect x="346.80" y="170.95" width="7.72" height="6.55" fill="#f7ac8e"/>
<rect x="354.22" y="170.95" width="22.55" height="6.55" fill="#f39475"/>
<rect x="376.47" y="170.95" width="22.55" height="6.55" fill="#f4987a"/>
<rect x="398.73" y="170.95" width="7.72" height="6.55" fill="#e36c55"/>
<rect x="406.15" y="170.95" width="7.72" height="6.55" fill="#d65244"/>
<rect x="413.56" y="170.95" width="7.72" height="6.55" fill="#b40426"/>
<rect x="420.98" y="170.95" width="7.72" height="6.55" fill="#f7ac8e"/>
<rect x="428.40" y="170.95" width="37.39" height="6.55" fill="#f6bda2"/>
<rect x="465.49" y="170.95" width="7.72" height="6.55" fill="#f2cbb7"/>
<rect x="472.91" y="170.95" width="7.72" height="6.55" fill="#f6bda2"/>
<rect x="480.33" y="170.95" width="15.14" height="6.55" fill="#f2cbb7"/>
<rect x="495.16" y="170.95" width="7.72" height="6.55" fill="#dddcdc"/>
<rect x="502.58" y="170.95" width="7.72" height="6.55" fill="#cfdaea"/>
<rect x="102.00" y="177.21" width="7.72" height="6.55" fill="#cfdaea"/>
<rect x="109.42" y="177.21" width="7.72" height="6.55" fill="#dddcdc"/>
<rect x="116.84" y="177.21" width="7.72" height="6.55" fill="#cfdaea"/>
<rect x="124.25" y="177.21" width="7.72" height="6.55" fill="#afcafc"/>
<rect x="131.67" y="177.21" width="15.14" height="6.55" fill="#c0d4f5"/>
<rect x="146.51" y="177.21" width="7.72" height="6.55" fill="#e9d5cb"/>
<rect x="153.93" y="177.21" width="15.14" height="6.55" fill="#cfdaea"/>
<rect x="168.76" y="177.21" width="22.55" height="6.55" fill="#c0d4f5"/>
<rect x="191.02" y="177.21" width="7.72" height="6.55" fill="#a7c5fe"/>
<rect x="198.44" y="177.21" width="7.72" height="6.55" fill="#9ebeff"/>
<rect x="205.85" y="177.21" width="7.72" height="6.55" fill="#afcafc"/>
<rect x="213.27" y="177.21" width="7.72" height="6.55" fill="#f2cbb7"/>
<rect x="220.69" y="177.21" width="7.72" height="6.55" fill="#afcafc"/>
<rect x="228.11" y="177.21" width="22.55" height="6.55" fill="#cfdaea"/>
<rect x="250.36" y="177.21" width="22.55" height="6.55" fill="#c0d4f5"/>
<rect x="272.62" y="177.21" width="15.14" height="6.55" fill="#eed0c0"/>
<rect x="287.45" y="177.21" width="15.14" height="6.55" fill="#f7ac8e"/>
<rect x="302.29" y="177.21" width="7.72" height="6.55" fill="#ee8468"/>
<rect x="309.71" y="177.21" width="7.72" height="6.55" fill="#f4987a"/>
<rect x="317.13" y="177.21" width="15.14" height="6.55" fill="#ee8468"/>
<rect x="331.96" y="177.21" width="7.72" height="6.55" fill="#f7ac8e"/>
<rect x="339.38" y="177.21" width="7.72" height="6.55" fill="#f6bda2"/>
<rect x="346.80" y="177.21" width="7.72" height="6.55" fill="#f7ac8e"/>
<rect x="354.22" y="177.21" width="22.55" height="6.55" fill="#f39475"/>
<rect x="376.47" y="177.21" width="22.55" height="6.55" fill="#f4987a"/>
<rect x="398.73" y="177.21" width="7.72" height="6.55" fill="#d65244"/>
<rect x="406.15" y="177.21" width="7.72" height="6.55" fill="#b40426"/>
<rect x="413.56" y="177.21" width="7.72" height="6.55" fill="#d65244"/>
<rect x="420.98" y="177.21" width="22.55" height="6.55" fill="#f7ac8e"/>
<rect x="443.24" y="177.21" width="22.55" height="6.55" fill="#f6bda2"/>
<rect x="465.49" y="177.21" width="7.72" height="6.55" fill="#f2cbb7"/>
<rect x="472.91" y="177.21" width="7.72" height="6.55" fill="#f6bda2"/>
<rect x="480.33" y="177.21" width="15.14" height="6.55" fill="#f2cbb7"/>
<rect x="495.16" y="177.21" width="15.14" height="6.55" fill="#dddcdc"/>
<rect x="102.00" y="183.46" width="7.72" height="6.55" fill="#cfdaea"/>
<rect x="109.42" y="183.46" width="7.72" height="6.55" fill="#dddcdc"/>
<rect x="116.84" y="183.46" width="7.72" height="6.55" fill="#cfdaea"/>
<rect x="124.25" y="183.46" width="7.72" height="6.55" fill="#afcafc"/>
<rect x="131.67" y="183.46" width="15.14" height="6.55" fill="#c0d4f5"/>
<rect x="146.51" y="183.46" width="7.72" height="6.55" fill="#e9d5cb"/>
<rect x="153.93" y="183.46" width="15.14" height="6.55" fill="#cfdaea"/>
<rect x="168.76" y="183.46" width="22.55" height="6.55" fill="#c0d4f5"/>
<rect x="191.02" y="183.46" width="7.72" height="6.55" fill="#a7c5fe"/>
<rect x="198.44" y="183.46" width="7.72" height="6.55" fill="#9ebeff"/>
<rect x="205.85" y="183.46" width="7.72" height="6.55" fill="#afcafc"/>
<rect x="213.27" y="183.46" width="7.72" height="6.55" fill="#f2cbb7"/>
<rect x="220.69" y="183.46" width="7.72" height="6.55" fill="#c0d4f5"/>
<rect x="228.11" y="183.46" width="22.55" height="6.55" fill="#dddcdc"/>
<rect x="250.36" y="183.46" width="22.55" height="6.55" fill="#c0d4f5"/>
<rect x="272.62" y="183.46" width="15.14" height="6.55" fill="#f2cbb7"/>
<rect x="287.45" y="183.46" width="15.14" height="6.55" fill="#f7ac8e"/>
<rect x="302.29" y="183.46" width="7.72" height="6.55" fill="#e36c55"/>
<rect x="309.71" y="183.46" width="22.55" height="6.55" fill="#ee8468"/>
<rect x="331.96" y="183.46" width="7.72" height="6.55" fill="#f7ac8e"/>
<rect x="339.38" y="183.46" width="7.72" height="6.55" fill="#f6bda2"/>
<rect x="346.80" y="183.46" width="7.72" height="6.55" fill="#f7ac8e"/>
<rect x="354.22" y="183.46" width="22.55" height="6.55" fill="#f39475"/>
<rect x="376.47" y="183.46" width="7.72" height="6.55" fill="#f4987a"/>
<rect x="383.89" y="183.46" width="7.72" height="6.55" fill="#ee8468"/>
<rect x="391.31" y="183.46" width="7.72" height="6.55" fill="#e9785d"/>
<rect x="398.73" y="183.46" width="7.72" height="6.55" fill="#b40426"/>
<rect x="406.15" y="183.46" width="7.72" height="6.55" fill="#d65244"/>
<rect x="413.56" y="183.46" width="7.72" height="6.55" fill="#e36c55"/>
<rect x="420.98" y="183.46" width="7.72" height="6.55" fill="#f7a889"/>
<rect x="428.40" y="183.46" width="15.14" height="6.55" fill="#f7ac8e"/>
<rect x="443.24" y="183.46" width="22.55" height="6.55" fill="#f6bda2"/>
<rect x="465.49" y="183.46" width="7.72" height="6.55" fill="#f2cbb7"/>
<rect x="472.91" y="183.46" width="7.72" height="6.55" fill="#f6bda2"/>
<rect x="480.33" y="183.46" width="15.14" height="6.55" fill="#f2cbb7"/>
<rect x="495.16" y="183.46" width="15.14" height="6.55" fill="#dddcdc"/>
<rect x="102.00" y="189.72" width="15.14" height="6.55" fill="#c0d4f5"/>
<rect x="116.84" y="189.72" width="7.72" height="6.55" fill="#cfdaea"/>
<rect x="124.25" y="189.72" width="7.72" height="6.55" fill="#afcafc"/>
<rect x="131.67" y="189.72" width="15.14" height="6.55" fill="#c0d4f5"/>
<rect x="146.51" y="189.72" width="15.14" height="6.55" fill="#e9d5cb"/>
<rect x="161.35" y="189.72" width="7.72" height="6.55" fill="#dddcdc"/>
<rect x="168.76" y="189.72" width="7.72" height="6.55" fill="#cfdaea"/>
<rect x="176.18" y="189.72" width="7.72" height="6.55" fill="#c0d4f5"/>
<rect x="183.60" y="189.72" width="7.72" height="6.55" fill="#cfdaea"/>
<rect x="191.02" y="189.72" width="7.72" height="6.55" fill="#afcafc"/>
<rect x="198.44" y="189.72" width="7.72" height="6.55" fill="#9ebeff"/>
<rect x="205.85" y="189.72" width="7.72" height="6.55" fill="#afcafc"/>
<rect x="213.27" y="189.72" width="7.72" height="6.55" fill="#f2cbb7"/>
<rect x="220.69" y="189.72" width="7.72" height="6.55" fill="#cfdaea"/>
<rect x="228.11" y="189.72" width="22.55" height="6.55" fill="#e9d5cb"/>
<rect x="250.36" y="189.72" width="15.14" height="6.55" fill="#dddcdc"/>
<rect x="265.20" y="189.72" width="7.72" height="6.55" fill="#cfdaea"/>
<rect x="272.62" y="189.72" width="7.72" height="6.55" fill="#f2cbb7"/>
<rect x="280.04" y="189.72" width="7.72" height="6.55" fill="#f5c4ac"/>
<rect x="287.45" y="189.72" width="15.14" height="6.55" fill="#f7ac8e"/>
<rect x="302.29" y="189.72" width="7.72" height="6.55" fill="#ee8468"/>
<rect x="309.71" y="189.72" width="7.72" height="6.55" fill="#e36c55"/>
<rect x="317.13" y="189.72" width="15.14" height="6.55" fill="#ee8468"/>
<rect x="331.96" y="189.72" width="7.72" height="6.55" fill="#f6a385"/>
<rect x="339.38" y="189.72" width="15.14" height="6.55" fill="#f7ac8e"/>
<rect x="354.22" y="189.72" width="22.55" height="6.55" fill="#f39475"/>
<rect x="376.47" y="189.72" width="7.72" height="6.55" fill="#f4987a"/>
<rect x="383.89" y="189.72" width="7.72" height="6.55" fill="#e36c55"/>
<rect x="391.31" y="189.72" width="7.72" height="6.55" fill="#b40426"/>
<rect x="398.73" y="189.72" width="7.72" height="6.55" fill="#e9785d"/>
<rect x="406.15" y="189.72" width="15.14" height="6.55" fill="#f4987a"/>
<rect x="420.98" y="189.72" width="7.72" height="6.55" fill="#f7a889"/>
<rect x="428.40" y="189.72" width="7.72" height="6.55" fill="#f7ac8e"/>
<rect x="435.82" y="189.72" width="15.14" height="6.55" fill="#f6bda2"/>
<rect x="450.65" y="189.72" width="37.39" height="6.55" fill="#f2cbb7"/>
<rect x="487.75" y="189.72" width="7.72" height="6.55" fill="#e9d5cb"/>
<rect x="495.16" y="189.72" width="7.72" height="6.55" fill="#dddcdc"/>
<rect x="502.58" y="189.72" width="7.72" height="6.55" fill="#e9d5cb"/>
<rect x="102.00" y="195.97" width="7.72" height="6.55" fill="#cfdaea"/>
<rect x="109.42" y="195.97" width="7.72" height="6.55" fill="#dddcdc"/>
<rect x="116.84" y="195.97" width="15.14" height="6.55" fill="#afcafc"/>
<rect x="131.67" y="195.97" width="15.14" height="6.55" fill="#c0d4f5"/>
<rect x="146.51" y="195.97" width="22.55" height="6.55" fill="#f2cbb7"/>
<rect x="168.76" y="195.97" width="7.72" height="6.55" fill="#dddcdc"/>
<rect x="176.18" y="195.97" width="15.14" height="6.55" fill="#cfdaea"/>
<rect x="191.02" y="195.97" width="7.72" height="6.55" fill="#afcafc"/>
<rect x="198.44" y="195.97" width="7.72" height="6.55" fill="#8db0fe"/>
<rect x="205.85" y="195.97" width="7.72" height="6.55" fill="#dddcdc"/>
<rect x="213.27" y="195.97" width="7.72" height="6.55" fill="#f4987a"/>
<rect x="220.69" y="195.97" width="7.72" height="6.55" fill="#dddcdc"/>
<rect x="228.11" y="195.97" width="15.14" height="6.55" fill="#f2cbb7"/>
<rect x="242.95" y="195.97" width="7.72" height="6.55" fill="#e9d5cb"/>
<rect x="250.36" y="195.97" width="15.14" height="6.55" fill="#dddcdc"/>
<rect x="265.20" y="195.97" width="7.72" height="6.55" fill="#cfdaea"/>
<rect x="272.62" y="195.97" width="15.14" height="6.55" fill="#f2cbb7"/>
<rect x="287.45" y="195.97" width="15.14" height="6.55" fill="#f7ac8e"/>
<rect x="302.29" y="195.97" width="29.97" height="6.55" fill="#ee8468"/>
<rect x="331.96" y="195.97" width="15.14" height="6.55" fill="#f4987a"/>
<rect x="346.80" y="195.97" width="7.72" height="6.55" fill="#f7ac8e"/>
<rect x="354.22" y="195.97" width="22.55" height="6.55" fill="#eb7d62"/>
<rect x="376.47" y="195.97" width="7.72" height="6.55" fill="#ee8468"/>
<rect x="383.89" y="195.97" width="7.72" height="6.55" fill="#b40426"/>
<rect x="391.31" y="195.97" width="7.72" height="6.55" fill="#e36c55"/>
<rect x="398.73" y="195.97" width="7.72" height="6.55" fill="#ee8468"/>
<rect x="406.15" y="195.97" width="15.14" height="6.55" fill="#f4987a"/>
<rect x="420.98" y="195.97" width="7.72" height="6.55" fill="#f7a889"/>
<rect x="428.40" y="195.97" width="7.72" height="6.55" fill="#f7ac8e"/>
<rect x="435.82" y="195.97" width="15.14" height="6.55" fill="#f6bda2"/>
<rect x="450.65" y="195.97" width="22.55" height="6.55" fill="#f2cbb7"/>
<rect x="472.91" y="195.97" width="7.72" height="6.55" fill="#e9d5cb"/>
<rect x="480.33" y="195.97" width="22.55" height="6.55" fill="#dddcdc"/>
<rect x="502.58" y="195.97" width="7.72" height="6.55" fill="#e9d5cb"/>
<rect x="102.00" y="202.23" width="7.72" height="6.55" fill="#c0d4f5"/>
<rect x="109.42" y="202.23" width="7.72" height="6.55" fill="#e9d5cb"/>
<rect x="116.84" y="202.23" width="15.14" height="6.55" fill="#afcafc"/>
<rect x="131.67" y="202.23" width="7.72" height="6.55" fill="#c0d4f5"/>
<rect x="139.09" y="202.23" width="7.72" height="6.55" fill="#cfdaea"/>
<rect x="146.51" y="202.23" width="7.72" height="6.55" fill="#e9d5cb"/>
<rect x="153.93" y="202.23" width="15.14" height="6.55" fill="#dddcdc"/>
<rect x="168.76" y="202.23" width="7.72" height="6.55" fill="#cfdaea"/>
<rect x="176.18" y="202.23" width="7.72" height="6.55" fill="#afcafc"/>
<rect x="183.60" y="202.23" width="7.72" height="6.55" fill="#cfdaea"/>
<rect x="191.02" y="202.23" width="7.72" height="6.55" fill="#afcafc"/>
<rect x="198.44" y="202.23" width="15.14" height="6.55" fill="#9ebeff"/>
<rect x="213.27" y="202.23" width="7.72" height="6.55" fill="#e9d5cb"/>
<rect x="220.69" y="202.23" width="7.72" height="6.55" fill="#c0d4f5"/>
<rect x="228.11" y="202.23" width="15.14" height="6.55" fill="#e9d5cb"/>
<rect x="242.95" y="202.23" width="22.55" height="6.55" fill="#dddcdc"/>
<rect x="265.20" y="202.23" width="7.72" height="6.55" fill="#cfdaea"/>
<rect x="272.62" y="202.23" width="15.14" height="6.55" fill="#f2cbb7"/>
<rect x="287.45" y="202.23" width="15.14" height="6.55" fill="#f6bda2"/>
<rect x="302.29" y="202.23" width="15.14" height="6.55" fill="#f4987a"/>
<rect x="317.13" y="202.23" width="15.14" height="6.55" fill="#e36c55"/>
<rect x="331.96" y="202.23" width="15.14" height="6.55" fill="#f4987a"/>
<rect x="346.80" y="202.23" width="7.72" height="6.55" fill="#f7ac8e"/>
<rect x="354.22" y="202.23" width="22.55" height="6.55" fill="#e16751"/>
<rect x="376.47" y="202.23" width="7.72" height="6.55" fill="#b40426"/>
<rect x="383.89" y="202.23" width="7.72" height="6.55" fill="#ee8468"/>
<rect x="391.31" y="202.23" width="29.97" height="6.55" fill="#f4987a"/>
<rect x="420.98" y="202.23" width="7.72" height="6.55" fill="#f59f80"/>
<rect x="428.40" y="202.23" width="7.72" height="6.55" fill="#f7ac8e"/>
<rect x="435.82" y="202.23" width="7.72" height="6.55" fill="#ee8468"/>
<rect x="443.24" y="202.23" width="7.72" height="6.55" fill="#f4987a"/>
<rect x="450.65" y="202.23" width="7.72" height="6.55" fill="#f7ac8e"/>
<rect x="458.07" y="202.23" width="15.14" height="6.55" fill="#f2cbb7"/>
<rect x="472.91" y="202.23" width="7.72" height="6.55" fill="#e9d5cb"/>
<rect x="480.33" y="202.23" width="29.97" height="6.55" fill="#dddcdc"/>
<rect x="102.00" y="208.48" width="7.72" height="6.55" fill="#afcafc"/>
<rect x="109.42" y="208.48" width="7.72" height="6.55" fill="#dddcdc"/>
<rect x="116.84" y="208.48" width="7.72" height="6.55" fill="#afcafc"/>
<rect x="124.25" y="208.48" width="7.72" height="6.55" fill="#9ebeff"/>
<rect x="131.67" y="208.48" width="7.72" height="6.55" fill="#afcafc"/>
<rect x="139.09" y="208.48" width="7.72" height="6.55" fill="#c0d4f5"/>
<rect x="146.51" y="208.48" width="22.55" height="6.55" fill="#dddcdc"/>
<rect x="168.76" y="208.48" width="7.72" height="6.55" fill="#cfdaea"/>
<rect x="176.18" y="208.48" width="7.72" height="6.55" fill="#afcafc"/>
<rect x="183.60" y="208.48" width="7.72" height="6.55" fill="#cfdaea"/>
<rect x="191.02" y="208.48" width="7.72" height="6.55" fill="#9ebeff"/>
<rect x="198.44" y="208.48" width="7.72" height="6.55" fill="#7b9ff9"/>
<rect x="205.85" y="208.48" width="7.72" height="6.55" fill="#9ebeff"/>
<rect x="213.27" y="208.48" width="7.72" height="6.55" fill="#e9d5cb"/>
<rect x="220.69" y="208.48" width="7.72" height="6.55" fill="#c0d4f5"/>
<rect x="228.11" y="208.48" width="15.14" height="6.55" fill="#e9d5cb"/>
<rect x="242.95" y="208.48" width="7.72" height="6.55" fill="#dddcdc"/>
<rect x="250.36" y="208.48" width="15.14" height="6.55" fill="#cfdaea"/>
<rect x="265.20" y="208.48" width="7.72" height="6.55" fill="#afcafc"/>
<rect x="272.62" y="208.48" width="7.72" height="6.55" fill="#e9d5cb"/>
<rect x="280.04" y="208.48" width="7.72" height="6.55" fill="#dddcdc"/>
<rect x="287.45" y="208.48" width="7.72" height="6.55" fill="#f2cbb7"/>
<rect x="294.87" y="208.48" width="7.72" height="6.55" fill="#f6bda2"/>
<rect x="302.29" y="208.48" width="15.14" height="6.55" fill="#f4987a"/>
<rect x="317.13" y="208.48" width="7.72" height="6.55" fill="#dd5f4b"/>
<rect x="324.55" y="208.48" width="7.72" height="6.55" fill="#e36c55"/>
<rect x="331.96" y="208.48" width="15.14" height="6.55" fill="#f4987a"/>
<rect x="346.80" y="208.48" width="7.72" height="6.55" fill="#f18f71"/>
<rect x="354.22" y="208.48" width="7.72" height="6.55" fill="#ca3b37"/>
<rect x="361.64" y="208.48" width="7.72" height="6.55" fill="#c53334"/>
<rect x="369.05" y="208.48" width="7.72" height="6.55" fill="#b40426"/>
<rect x="376.47" y="208.48" width="7.72" height="6.55" fill="#e16751"/>
<rect x="383.89" y="208.48" width="7.72" height="6.55" fill="#eb7d62"/>
<rect x="391.31" y="208.48" width="29.97" height="6.55" fill="#f39475"/>
<rect x="420.98" y="208.48" width="7.72" height="6.55" fill="#f18f71"/>
<rect x="428.40" y="208.48" width="7.72" height="6.55" fill="#f4987a"/>
<rect x="435.82" y="208.48" width="15.14" height="6.55" fill="#f7ac8e"/>
<rect x="450.65" y="208.48" width="15.14" height="6.55" fill="#f6bda2"/>
<rect x="465.49" y="208.48" width="7.72" height="6.55" fill="#f2cbb7"/>
<rect x="472.91" y="208.48" width="7.72" height="6.55" fill="#f6bda2"/>
<rect x="480.33" y="208.48" width="15.14" height="6.55" fill="#f2cbb7"/>
<rect x="495.16" y="208.48" width="7.72" height="6.55" fill="#e9d5cb"/>
<rect x="502.58" y="208.48" width="7.72" height="6.55" fill="#f2cbb7"/>
<rect x="102.00" y="214.74" width="7.72" height="6.55" fill="#c0d4f5"/>
<rect x="109.42" y="214.74" width="7.72" height="6.55" fill="#dddcdc"/>
<rect x="116.84" y="214.74" width="7.72" height="6.55" fill="#afcafc"/>
<rect x="124.25" y="214.74" width="7.72" height="6.55" fill="#9ebeff"/>
<rect x="131.67" y="214.74" width="7.72" height="6.55" fill="#afcafc"/>
<rect x="139.09" y="214.74" width="7.72" height="6.55" fill="#cfdaea"/>
<rect x="146.51" y="214.74" width="7.72" height="6.55" fill="#f2cbb7"/>
<rect x="153.93" y="214.74" width="15.14" height="6.55" fill="#f5c4ac"/>
<rect x="168.76" y="214.74" width="7.72" height="6.55" fill="#cfdaea"/>
<rect x="176.18" y="214.74" width="7.72" height="6.55" fill="#c0d4f5"/>
<rect x="183.60" y="214.74" width="7.72" height="6.55" fill="#cfdaea"/>
<rect x="191.02" y="214.74" width="7.72" height="6.55" fill="#9ebeff"/>
<rect x="198.44" y="214.74" width="7.72" height="6.55" fill="#7b9ff9"/>
<rect x="205.85" y="214.74" width="7.72" height="6.55" fill="#9ebeff"/>
<rect x="213.27" y="214.74" width="7.72" height="6.55" fill="#e9d5cb"/>
<rect x="220.69" y="214.74" width="7.72" height="6.55" fill="#cfdaea"/>
<rect x="228.11" y="214.74" width="15.14" height="6.55" fill="#f2cbb7"/>
<rect x="242.95" y="214.74" width="7.72" height="6.55" fill="#e9d5cb"/>
<rect x="250.36" y="214.74" width="15.14" height="6.55" fill="#dddcdc"/>
<rect x="265.20" y="214.74" width="7.72" height="6.55" fill="#c0d4f5"/>
<rect x="272.62" y="214.74" width="15.14" height="6.55" fill="#e9d5cb"/>
<rect x="287.45" y="214.74" width="7.72" height="6.55" fill="#f2cbb7"/>
<rect x="294.87" y="214.74" width="7.72" height="6.55" fill="#f6bda2"/>
<rect x="302.29" y="214.74" width="15.14" height="6.55" fill="#f4987a"/>
<rect x="317.13" y="214.74" width="15.14" height="6.55" fill="#dd5f4b"/>
<rect x="331.96" y="214.74" width="15.14" height="6.55" fill="#f4987a"/>
<rect x="346.80" y="214.74" width="7.72" height="6.55" fill="#f18f71"/>
<rect x="354.22" y="214.74" width="7.72" height="6.55" fill="#ca3b37"/>
<rect x="361.64" y="214.74" width="7.72" height="6.55" fill="#b40426"/>
<rect x="369.05" y="214.74" width="7.72" height="6.55" fill="#c53334"/>
<rect x="376.47" y="214.74" width="7.72" height="6.55" fill="#e16751"/>
<rect x="383.89" y="214.74" width="7.72" height="6.55" fill="#eb7d62"/>
<rect x="391.31" y="214.74" width="29.97" height="6.55" fill="#f39475"/>
<rect x="420.98" y="214.74" width="7.72" height="6.55" fill="#f18f71"/>
<rect x="428.40" y="214.74" width="7.72" height="6.55" fill="#f4987a"/>
<rect x="435.82" y="214.74" width="15.14" height="6.55" fill="#f7ac8e"/>
<rect x="450.65" y="214.74" width="15.14" height="6.55" fill="#f6bda2"/>
<rect x="465.49" y="214.74" width="7.72" height="6.55" fill="#f2cbb7"/>
<rect x="472.91" y="214.74" width="22.55" height="6.55" fill="#e9d5cb"/>
<rect x="495.16" y="214.74" width="7.72" height="6.55" fill="#dddcdc"/>
<rect x="502.58" y="214.74" width="7.72" height="6.55" fill="#e9d5cb"/>
<rect x="102.00" y="220.99" width="7.72" height="6.55" fill="#a7c5fe"/>
<rect x="109.42" y="220.99" width="7.72" height="6.55" fill="#cfdaea"/>
<rect x="116.84" y="220.99" width="7.72" height="6.55" fill="#afcafc"/>
<rect x="124.25" y="220.99" width="7.72" height="6.55" fill="#9ebeff"/>
<rect x="131.67" y="220.99" width="7.72" height="6.55" fill="#afcafc"/>
<rect x="139.09" y="220.99" width="7.72" height="6.55" fill="#c0d4f5"/>
<rect x="146.51" y="220.99" width="7.72" height="6.55" fill="#dddcdc"/>
<rect x="153.93" y="220.99" width="15.14" height="6.55" fill="#e9d5cb"/>
<rect x="168.76" y="220.99" width="7.72" height="6.55" fill="#cfdaea"/>
<rect x="176.18" y="220.99" width="7.72" height="6.55" fill="#c0d4f5"/>
<rect x="183.60" y="220.99" width="7.72" height="6.55" fill="#cfdaea"/>
<rect x="191.02" y="220.99" width="7.72" height="6.55" fill="#9ebeff"/>
<rect x="198.44" y="220.99" width="7.72" height="6.55" fill="#7b9ff9"/>
<rect x="205.85" y="220.99" width="7.72" height="6.55" fill="#afcafc"/>
<rect x="213.27" y="220.99" width="7.72" height="6.55" fill="#f2cbb7"/>
<rect x="220.69" y="220.99" width="7.72" height="6.55" fill="#dddcdc"/>
<rect x="228.11" y="220.99" width="7.72" height="6.55" fill="#f7ac8e"/>
<rect x="235.53" y="220.99" width="7.72" height="6.55" fill="#f6bda2"/>
<rect x="242.95" y="220.99" width="7.72" height="6.55" fill="#f2cbb7"/>
<rect x="250.36" y="220.99" width="15.14" height="6.55" fill="#dddcdc"/>
<rect x="265.20" y="220.99" width="7.72" height="6.55" fill="#c0d4f5"/>
<rect x="272.62" y="220.99" width="15.14" height="6.55" fill="#e9d5cb"/>
<rect x="287.45" y="220.99" width="7.72" height="6.55" fill="#f2cbb7"/>
<rect x="294.87" y="220.99" width="7.72" height="6.55" fill="#f6bda2"/>
<rect x="302.29" y="220.99" width="15.14" height="6.55" fill="#f7ac8e"/>
<rect x="317.13" y="220.99" width="15.14" height="6.55" fill="#dd5f4b"/>
<rect x="331.96" y="220.99" width="7.72" height="6.55" fill="#f18f71"/>
<rect x="339.38" y="220.99" width="7.72" height="6.55" fill="#e9785d"/>
<rect x="346.80" y="220.99" width="7.72" height="6.55" fill="#f18f71"/>
<rect x="354.22" y="220.99" width="7.72" height="6.55" fill="#b40426"/>
<rect x="361.64" y="220.99" width="15.14" height="6.55" fill="#ca3b37"/>
<rect x="376.47" y="220.99" width="7.72" height="6.55" fill="#e16751"/>
<rect x="383.89" y="220.99" width="7.72" height="6.55" fill="#eb7d62"/>
<rect x="391.31" y="220.99" width="37.39" height="6.55" fill="#f39475"/>
<rect x="428.40" y="220.99" width="15.14" height="6.55" fill="#f7ac8e"/>
<rect x="443.24" y="220.99" width="7.72" height="6.55" fill="#f6bda2"/>
<rect x="450.65" y="220.99" width="29.97" height="6.55" fill="#f2cbb7"/>
<rect x="480.33" y="220.99" width="15.14" height="6.55" fill="#e9d5cb"/>
<rect x="495.16" y="220.99" width="7.72" height="6.55" fill="#f2cbb7"/>
<rect x="502.58" y="220.99" width="7.72" height="6.55" fill="#f6bda2"/>
<rect x="102.00" y="227.25" width="7.72" height="6.55" fill="#afcafc"/>
<rect x="109.42" y="227.25" width="7.72" height="6.55" fill="#cfdaea"/>
<rect x="116.84" y="227.25" width="29.97" height="6.55" fill="#afcafc"/>
<rect x="146.51" y="227.25" width="29.97" height="6.55" fill="#cfdaea"/>
<rect x="176.18" y="227.25" width="7.72" height="6.55" fill="#c0d4f5"/>
<rect x="183.60" y="227.25" width="7.72" height="6.55" fill="#cfdaea"/>
<rect x="191.02" y="227.25" width="7.72" height="6.55" fill="#9ebeff"/>
<rect x="198.44" y="227.25" width="7.72" height="6.55" fill="#7b9ff9"/>
<rect x="205.85" y="227.25" width="7.72" height="6.55" fill="#afcafc"/>
<rect x="213.27" y="227.25" width="7.72" height="6.55" fill="#e9d5cb"/>
<rect x="220.69" y="227.25" width="7.72" height="6.55" fill="#c0d4f5"/>
<rect x="228.11" y="227.25" width="22.55" height="6.55" fill="#e9d5cb"/>
<rect x="250.36" y="227.25" width="15.14" height="6.55" fill="#dddcdc"/>
<rect x="265.20" y="227.25" width="7.72" height="6.55" fill="#c0d4f5"/>
<rect x="272.62" y="227.25" width="15.14" height="6.55" fill="#dddcdc"/>
<rect x="287.45" y="227.25" width="7.72" height="6.55" fill="#e9d5cb"/>
<rect x="294.87" y="227.25" width="7.72" height="6.55" fill="#f5c4ac"/>
<rect x="302.29" y="227.25" width="15.14" height="6.55" fill="#f6bda2"/>
<rect x="317.13" y="227.25" width="7.72" height="6.55" fill="#f6a385"/>
<rect x="324.55" y="227.25" width="7.72" height="6.55" fill="#f4987a"/>
<rect x="331.96" y="227.25" width="7.72" height="6.55" fill="#e9785d"/>
<rect x="339.38" y="227.25" width="7.72" height="6.55" fill="#f7b599"/>
<rect x="346.80" y="227.25" width="7.72" height="6.55" fill="#b40426"/>
<rect x="354.22" y="227.25" width="22.55" height="6.55" fill="#f18f71"/>
<rect x="376.47" y="227.25" width="52.23" height="6.55" fill="#f7ac8e"/>
<rect x="428.40" y="227.25" width="7.72" height="6.55" fill="#f2cbb7"/>
<rect x="435.82" y="227.25" width="7.72" height="6.55" fill="#e9d5cb"/>
<rect x="443.24" y="227.25" width="7.72" height="6.55" fill="#afcafc"/>
<rect x="450.65" y="227.25" width="7.72" height="6.55" fill="#cfdaea"/>
<rect x="458.07" y="227.25" width="7.72" height="6.55" fill="#e9d5cb"/>
<rect x="465.49" y="227.25" width="22.55" height="6.55" fill="#f2cbb7"/>
<rect x="487.75" y="227.25" width="15.14" height="6.55" fill="#e9d5cb"/>
<rect x="502.58" y="227.25" width="7.72" height="6.55" fill="#f2cbb7"/>
<rect x="102.00" y="233.50" width="15.14" height="6.55" fill="#cfdaea"/>
<rect x="116.84" y="233.50" width="7.72" height="6.55" fill="#afcafc"/>
<rect x="124.25" y="233.50" width="7.72" height="6.55" fill="#9ebeff"/>
<rect x="131.67" y="233.50" width="15.14" height="6.55" fill="#c0d4f5"/>
<rect x="146.51" y="233.50" width="15.14" height="6.55" fill="#e9d5cb"/>
<rect x="161.35" y="233.50" width="15.14" height="6.55" fill="#f2cbb7"/>
<rect x="176.18" y="233.50" width="7.72" height="6.55" fill="#e9d5cb"/>
<rect x="183.60" y="233.50" width="7.72" height="6.55" fill="#f2cbb7"/>
<rect x="191.02" y="233.50" width="7.72" height="6.55" fill="#dddcdc"/>
<rect x="198.44" y="233.50" width="7.72" height="6.55" fill="#afcafc"/>
<rect x="205.85" y="233.50" width="7.72" height="6.55" fill="#dddcdc"/>
<rect x="213.27" y="233.50" width="7.72" height="6.55" fill="#f6bda2"/>
<rect x="220.69" y="233.50" width="7.72" height="6.55" fill="#f4987a"/>
<rect x="228.11" y="233.50" width="7.72" height="6.55" fill="#ee8468"/>
<rect x="235.53" y="233.50" width="29.97" height="6.55" fill="#f7ac8e"/>
<rect x="265.20" y="233.50" width="22.55" height="6.55" fill="#f5c4ac"/>
<rect x="287.45" y="233.50" width="22.55" height="6.55" fill="#f7ac8e"/>
<rect x="309.71" y="233.50" width="7.72" height="6.55" fill="#f2cbb7"/>
<rect x="317.13" y="233.50" width="15.14" height="6.55" fill="#f18f71"/>
<rect x="331.96" y="233.50" width="7.72" height="6.55" fill="#f4987a"/>
<rect x="339.38" y="233.50" width="7.72" height="6.55" fill="#b40426"/>
<rect x="346.80" y="233.50" width="7.72" height="6.55" fill="#f7b599"/>
<rect x="354.22" y="233.50" width="7.72" height="6.55" fill="#e9785d"/>
<rect x="361.64" y="233.50" width="29.97" height="6.55" fill="#f4987a"/>
<rect x="391.31" y="233.50" width="7.72" height="6.55" fill="#f7ac8e"/>
<rect x="398.73" y="233.50" width="15.14" height="6.55" fill="#f6bda2"/>
<rect x="413.56" y="233.50" width="7.72" height="6.55" fill="#f5c4ac"/>
<rect x="420.98" y="233.50" width="7.72" height="6.55" fill="#f6bda2"/>
<rect x="428.40" y="233.50" width="15.14" height="6.55" fill="#f2cbb7"/>
<rect x="443.24" y="233.50" width="15.14" height="6.55" fill="#e9d5cb"/>
<rect x="458.07" y="233.50" width="7.72" height="6.55" fill="#cfdaea"/>
<rect x="465.49" y="233.50" width="15.14" height="6.55" fill="#e9d5cb"/>
<rect x="480.33" y="233.50" width="15.14" height="6.55" fill="#c0d4f5"/>
<rect x="495.16" y="233.50" width="7.72" height="6.55" fill="#f2cbb7"/>
<rect x="502.58" y="233.50" width="7.72" height="6.55" fill="#f6bda2"/>
<rect x="102.00" y="239.75" width="7.72" height="6.55" fill="#dddcdc"/>
<rect x="109.42" y="239.75" width="7.72" height="6.55" fill="#e9d5cb"/>
<rect x="116.84" y="239.75" width="7.72" height="6.55" fill="#afcafc"/>
<rect x="124.25" y="239.75" width="7.72" height="6.55" fill="#c0d4f5"/>
<rect x="131.67" y="239.75" width="7.72" height="6.55" fill="#9ebeff"/>
<rect x="139.09" y="239.75" width="7.72" height="6.55" fill="#afcafc"/>
<rect x="146.51" y="239.75" width="7.72" height="6.55" fill="#cfdaea"/>
<rect x="153.93" y="239.75" width="7.72" height="6.55" fill="#dddcdc"/>
<rect x="161.35" y="239.75" width="7.72" height="6.55" fill="#f2cbb7"/>
<rect x="168.76" y="239.75" width="15.14" height="6.55" fill="#cfdaea"/>
<rect x="183.60" y="239.75" width="7.72" height="6.55" fill="#f2cbb7"/>
<rect x="191.02" y="239.75" width="7.72" height="6.55" fill="#dddcdc"/>
<rect x="198.44" y="239.75" width="15.14" height="6.55" fill="#afcafc"/>
<rect x="213.27" y="239.75" width="15.14" height="6.55" fill="#f2cbb7"/>
<rect x="228.11" y="239.75" width="7.72" height="6.55" fill="#f6bda2"/>
<rect x="235.53" y="239.75" width="22.55" height="6.55" fill="#f7ac8e"/>
<rect x="257.78" y="239.75" width="15.14" height="6.55" fill="#f6bda2"/>
<rect x="272.62" y="239.75" width="7.72" height="6.55" fill="#f7b599"/>
<rect x="280.04" y="239.75" width="7.72" height="6.55" fill="#f18f71"/>
<rect x="287.45" y="239.75" width="22.55" height="6.55" fill="#e9785d"/>
<rect x="309.71" y="239.75" width="7.72" height="6.55" fill="#f18f71"/>
<rect x="317.13" y="239.75" width="15.14" height="6.55" fill="#d65244"/>
<rect x="331.96" y="239.75" width="7.72" height="6.55" fill="#b40426"/>
<rect x="339.38" y="239.75" width="7.72" height="6.55" fill="#f4987a"/>
<rect x="346.80" y="239.75" width="7.72" height="6.55" fill="#e9785d"/>
<rect x="354.22" y="239.75" width="7.72" height="6.55" fill="#f18f71"/>
<rect x="361.64" y="239.75" width="29.97" height="6.55" fill="#f4987a"/>
<rect x="391.31" y="239.75" width="7.72" height="6.55" fill="#f6a385"/>
<rect x="398.73" y="239.75" width="22.55" height="6.55" fill="#f7ac8e"/>
<rect x="420.98" y="239.75" width="7.72" height="6.55" fill="#f6bda2"/>
<rect x="428.40" y="239.75" width="15.14" height="6.55" fill="#f2cbb7"/>
<rect x="443.24" y="239.75" width="7.72" height="6.55" fill="#afcafc"/>
<rect x="450.65" y="239.75" width="7.72" height="6.55" fill="#dddcdc"/>
<rect x="458.07" y="239.75" width="7.72" height="6.55" fill="#e9d5cb"/>
<rect x="465.49" y="239.75" width="7.72" height="6.55" fill="#dddcdc"/>
<rect x="472.91" y="239.75" width="7.72" height="6.55" fill="#e9d5cb"/>
<rect x="480.33" y="239.75" width="29.97" height="6.55" fill="#dddcdc"/>
<rect x="102.00" y="246.01" width="7.72" height="6.55" fill="#cfdaea"/>
<rect x="109.42" y="246.01" width="7.72" height="6.55" fill="#dddcdc"/>
<rect x="116.84" y="246.01" width="15.14" height="6.55" fill="#afcafc"/>
<rect x="131.67" y="246.01" width="7.72" height="6.55" fill="#8db0fe"/>
<rect x="139.09" y="246.01" width="7.72" height="6.55" fill="#afcafc"/>
<rect x="146.51" y="246.01" width="7.72" height="6.55" fill="#cfdaea"/>
<rect x="153.93" y="246.01" width="7.72" height="6.55" fill="#dddcdc"/>
<rect x="161.35" y="246.01" width="7.72" height="6.55" fill="#f2cbb7"/>
<rect x="168.76" y="246.01" width="15.14" height="6.55" fill="#afcafc"/>
<rect x="183.60" y="246.01" width="7.72" height="6.55" fill="#cfdaea"/>
<rect x="191.02" y="246.01" width="7.72" height="6.55" fill="#c0d4f5"/>
<rect x="198.44" y="246.01" width="7.72" height="6.55" fill="#8db0fe"/>
<rect x="205.85" y="246.01" width="7.72" height="6.55" fill="#afcafc"/>
<rect x="213.27" y="246.01" width="7.72" height="6.55" fill="#f2cbb7"/>
<rect x="220.69" y="246.01" width="7.72" height="6.55" fill="#dddcdc"/>
<rect x="228.11" y="246.01" width="7.72" height="6.55" fill="#f6bda2"/>
<rect x="235.53" y="246.01" width="15.14" height="6.55" fill="#f7ac8e"/>
<rect x="250.36" y="246.01" width="15.14" height="6.55" fill="#f2cbb7"/>
<rect x="265.20" y="246.01" width="15.14" height="6.55" fill="#f5c4ac"/>
<rect x="280.04" y="246.01" width="7.72" height="6.55" fill="#f6a385"/>
<rect x="287.45" y="246.01" width="7.72" height="6.55" fill="#ee8468"/>
<rect x="294.87" y="246.01" width="7.72" height="6.55" fill="#e36c55"/>
<rect x="302.29" y="246.01" width="7.72" height="6.55" fill="#e9785d"/>
<rect x="309.71" y="246.01" width="7.72" height="6.55" fill="#f18f71"/>
<rect x="317.13" y="246.01" width="7.72" height="6.55" fill="#c53334"/>
<rect x="324.55" y="246.01" width="7.72" height="6.55" fill="#b40426"/>
<rect x="331.96" y="246.01" width="7.72" height="6.55" fill="#d65244"/>
<rect x="339.38" y="246.01" width="7.72" height="6.55" fill="#f18f71"/>
<rect x="346.80" y="246.01" width="7.72" height="6.55" fill="#f4987a"/>
<rect x="354.22" y="246.01" width="15.14" height="6.55" fill="#dd5f4b"/>
<rect x="369.05" y="246.01" width="15.14" height="6.55" fill="#e36c55"/>
<rect x="383.89" y="246.01" width="29.97" height="6.55" fill="#ee8468"/>
<rect x="413.56" y="246.01" width="7.72" height="6.55" fill="#f18f71"/>
<rect x="420.98" y="246.01" width="7.72" height="6.55" fill="#f6a385"/>
<rect x="428.40" y="246.01" width="7.72" height="6.55" fill="#f4987a"/>
<rect x="435.82" y="246.01" width="7.72" height="6.55" fill="#f7ac8e"/>
<rect x="443.24" y="246.01" width="7.72" height="6.55" fill="#f6bda2"/>
<rect x="450.65" y="246.01" width="7.72" height="6.55" fill="#e9d5cb"/>
<rect x="458.07" y="246.01" width="7.72" height="6.55" fill="#f2cbb7"/>
<rect x="465.49" y="246.01" width="7.72" height="6.55" fill="#e9d5cb"/>
<rect x="472.91" y="246.01" width="7.72" height="6.55" fill="#f2cbb7"/>
<rect x="480.33" y="246.01" width="7.72" height="6.55" fill="#f7ac8e"/>
<rect x="487.75" y="246.01" width="7.72" height="6.55" fill="#f2cbb7"/>
<rect x="495.16" y="246.01" width="15.14" height="6.55" fill="#dddcdc"/>
<rect x="102.00" y="252.26" width="7.72" height="6.55" fill="#cfdaea"/>
<rect x="109.42" y="252.26" width="7.72" height="6.55" fill="#dddcdc"/>
<rect x="116.84" y="252.26" width="15.14" height="6.55" fill="#afcafc"/>
<rect x="131.67" y="252.26" width="7.72" height="6.55" fill="#9ebeff"/>
<rect x="139.09" y="252.26" width="7.72" height="6.55" fill="#afcafc"/>
<rect x="146.51" y="252.26" width="15.14" height="6.55" fill="#dddcdc"/>
<rect x="161.35" y="252.26" width="7.72" height="6.55" fill="#f2cbb7"/>
<rect x="168.76" y="252.26" width="15.14" height="6.55" fill="#cfdaea"/>
<rect x="183.60" y="252.26" width="7.72" height="6.55" fill="#e9d5cb"/>
<rect x="191.02" y="252.26" width="7.72" height="6.55" fill="#cfdaea"/>
<rect x="198.44" y="252.26" width="7.72" height="6.55" fill="#8db0fe"/>
<rect x="205.85" y="252.26" width="7.72" height="6.55" fill="#afcafc"/>
<rect x="213.27" y="252.26" width="7.72" height="6.55" fill="#f6bda2"/>
<rect x="220.69" y="252.26" width="7.72" height="6.55" fill="#dddcdc"/>
<rect x="228.11" y="252.26" width="7.72" height="6.55" fill="#f6bda2"/>
<rect x="235.53" y="252.26" width="15.14" height="6.55" fill="#f7ac8e"/>
<rect x="250.36" y="252.26" width="22.55" height="6.55" fill="#f6bda2"/>
<rect x="272.62" y="252.26" width="7.72" height="6.55" fill="#f7ac8e"/>
<rect x="280.04" y="252.26" width="7.72" height="6.55" fill="#f4987a"/>
<rect x="287.45" y="252.26" width="7.72" height="6.55" fill="#ee8468"/>
<rect x="294.87" y="252.26" width="7.72" height="6.55" fill="#e9785d"/>
<rect x="302.29" y="252.26" width="7.72" height="6.55" fill="#dd5f4b"/>
<rect x="309.71" y="252.26" width="7.72" height="6.55" fill="#ee8468"/>
<rect x="317.13" y="252.26" width="7.72" height="6.55" fill="#b40426"/>
<rect x="324.55" y="252.26" width="7.72" height="6.55" fill="#c53334"/>
<rect x="331.96" y="252.26" width="7.72" height="6.55" fill="#d65244"/>
<rect x="339.38" y="252.26" width="7.72" height="6.55" fill="#f18f71"/>
<rect x="346.80" y="252.26" width="7.72" height="6.55" fill="#f6a385"/>
<rect x="354.22" y="252.26" width="22.55" height="6.55" fill="#dd5f4b"/>
<rect x="376.47" y="252.26" width="7.72" height="6.55" fill="#e36c55"/>
<rect x="383.89" y="252.26" width="29.97" height="6.55" fill="#ee8468"/>
<rect x="413.56" y="252.26" width="7.72" height="6.55" fill="#f18f71"/>
<rect x="420.98" y="252.26" width="22.55" height="6.55" fill="#f7ac8e"/>
<rect x="443.24" y="252.26" width="15.14" height="6.55" fill="#f6bda2"/>
<rect x="458.07" y="252.26" width="7.72" height="6.55" fill="#f2cbb7"/>
<rect x="465.49" y="252.26" width="29.97" height="6.55" fill="#e9d5cb"/>
<rect x="495.16" y="252.26" width="7.72" height="6.55" fill="#dddcdc"/>
<rect x="502.58" y="252.26" width="7.72" height="6.55" fill="#cfdaea"/>
<rect x="102.00" y="258.52" width="7.72" height="6.55" fill="#f7ac8e"/>
<rect x="109.42" y="258.52" width="7.72" height="6.55" fill="#f6bda2"/>
<rect x="116.84" y="258.52" width="7.72" height="6.55" fill="#dddcdc"/>
<rect x="124.25" y="258.52" width="22.55" height="6.55" fill="#cfdaea"/>
<rect x="146.51" y="258.52" width="15.14" height="6.55" fill="#e9d5cb"/>
<rect x="161.35" y="258.52" width="7.72" height="6.55" fill="#f2cbb7"/>
<rect x="168.76" y="258.52" width="15.14" height="6.55" fill="#cfdaea"/>
<rect x="183.60" y="258.52" width="7.72" height="6.55" fill="#e9d5cb"/>
<rect x="191.02" y="258.52" width="7.72" height="6.55" fill="#dddcdc"/>
<rect x="198.44" y="258.52" width="15.14" height="6.55" fill="#c0d4f5"/>
<rect x="213.27" y="258.52" width="7.72" height="6.55" fill="#f6bda2"/>
<rect x="220.69" y="258.52" width="15.14" height="6.55" fill="#c0d4f5"/>
<rect x="235.53" y="258.52" width="29.97" height="6.55" fill="#f2cbb7"/>
<rect x="265.20" y="258.52" width="7.72" height="6.55" fill="#f6bda2"/>
<rect x="272.62" y="258.52" width="7.72" height="6.55" fill="#f7ac8e"/>
<rect x="280.04" y="258.52" width="15.14" height="6.55" fill="#f4987a"/>
<rect x="294.87" y="258.52" width="7.72" height="6.55" fill="#f7ac8e"/>
<rect x="302.29" y="258.52" width="7.72" height="6.55" fill="#e36c55"/>
<rect x="309.71" y="258.52" width="7.72" height="6.55" fill="#b40426"/>
<rect x="317.13" y="258.52" width="7.72" height="6.55" fill="#ee8468"/>
<rect x="324.55" y="258.52" width="15.14" height="6.55" fill="#f18f71"/>
<rect x="339.38" y="258.52" width="7.72" height="6.55" fill="#f2cbb7"/>
<rect x="346.80" y="258.52" width="7.72" height="6.55" fill="#f6bda2"/>
<rect x="354.22" y="258.52" width="7.72" height="6.55" fill="#f7ac8e"/>
<rect x="361.64" y="258.52" width="22.55" height="6.55" fill="#f4987a"/>
<rect x="383.89" y="258.52" width="7.72" height="6.55" fill="#ee8468"/>
<rect x="391.31" y="258.52" width="7.72" height="6.55" fill="#e36c55"/>
<rect x="398.73" y="258.52" width="7.72" height="6.55" fill="#ee8468"/>
<rect x="406.15" y="258.52" width="7.72" height="6.55" fill="#f4987a"/>
<rect x="413.56" y="258.52" width="7.72" height="6.55" fill="#f6a385"/>
<rect x="420.98" y="258.52" width="7.72" height="6.55" fill="#f7ac8e"/>
<rect x="428.40" y="258.52" width="7.72" height="6.55" fill="#f4987a"/>
<rect x="435.82" y="258.52" width="7.72" height="6.55" fill="#f7ac8e"/>
<rect x="443.24" y="258.52" width="7.72" height="6.55" fill="#f6bda2"/>
<rect x="450.65" y="258.52" width="7.72" height="6.55" fill="#f7ac8e"/>
<rect x="458.07" y="258.52" width="7.72" height="6.55" fill="#f6bda2"/>
<rect x="465.49" y="258.52" width="15.14" height="6.55" fill="#e9d5cb"/>
<rect x="480.33" y="258.52" width="15.14" height="6.55" fill="#dddcdc"/>
<rect x="495.16" y="258.52" width="7.72" height="6.55" fill="#afcafc"/>
<rect x="502.58" y="258.52" width="7.72" height="6.55" fill="#8db0fe"/>
<rect x="102.00" y="264.77" width="7.72" height="6.55" fill="#f7ac8e"/>
<rect x="109.42" y="264.77" width="7.72" height="6.55" fill="#f6bda2"/>
<rect x="116.84" y="264.77" width="7.72" height="6.55" fill="#dddcdc"/>
<rect x="124.25" y="264.77" width="7.72" height="6.55" fill="#cfdaea"/>
<rect x="131.67" y="264.77" width="7.72" height="6.55" fill="#c0d4f5"/>
<rect x="139.09" y="264.77" width="7.72" height="6.55" fill="#cfdaea"/>
<rect x="146.51" y="264.77" width="22.55" height="6.55" fill="#e9d5cb"/>
<rect x="168.76" y="264.77" width="15.14" height="6.55" fill="#cfdaea"/>
<rect x="183.60" y="264.77" width="7.72" height="6.55" fill="#f2cbb7"/>
<rect x="191.02" y="264.77" width="7.72" height="6.55" fill="#e9d5cb"/>
<rect x="198.44" y="264.77" width="15.14" height="6.55" fill="#c0d4f5"/>
<rect x="213.27" y="264.77" width="7.72" height="6.55" fill="#f6bda2"/>
<rect x="220.69" y="264.77" width="7.72" height="6.55" fill="#dddcdc"/>
<rect x="228.11" y="264.77" width="7.72" height="6.55" fill="#e9d5cb"/>
<rect x="235.53" y="264.77" width="7.72" height="6.55" fill="#f6bda2"/>
<rect x="242.95" y="264.77" width="7.72" height="6.55" fill="#f7ac8e"/>
<rect x="250.36" y="264.77" width="15.14" height="6.55" fill="#f6bda2"/>
<rect x="265.20" y="264.77" width="15.14" height="6.55" fill="#f7ac8e"/>
<rect x="280.04" y="264.77" width="7.72" height="6.55" fill="#ee8468"/>
<rect x="287.45" y="264.77" width="7.72" height="6.55" fill="#e36c55"/>
<rect x="294.87" y="264.77" width="7.72" height="6.55" fill="#ee8468"/>
<rect x="302.29" y="264.77" width="7.72" height="6.55" fill="#b40426"/>
<rect x="309.71" y="264.77" width="7.72" height="6.55" fill="#e36c55"/>
<rect x="317.13" y="264.77" width="7.72" height="6.55" fill="#dd5f4b"/>
<rect x="324.55" y="264.77" width="15.14" height="6.55" fill="#e9785d"/>
<rect x="339.38" y="264.77" width="7.72" height="6.55" fill="#f7ac8e"/>
<rect x="346.80" y="264.77" width="7.72" height="6.55" fill="#f6bda2"/>
<rect x="354.22" y="264.77" width="7.72" height="6.55" fill="#f7ac8e"/>
<rect x="361.64" y="264.77" width="22.55" height="6.55" fill="#f4987a"/>
<rect x="383.89" y="264.77" width="15.14" height="6.55" fill="#ee8468"/>
<rect x="398.73" y="264.77" width="7.72" height="6.55" fill="#e36c55"/>
<rect x="406.15" y="264.77" width="15.14" height="6.55" fill="#ee8468"/>
<rect x="420.98" y="264.77" width="22.55" height="6.55" fill="#f7ac8e"/>
<rect x="443.24" y="264.77" width="22.55" height="6.55" fill="#f6bda2"/>
<rect x="465.49" y="264.77" width="15.14" height="6.55" fill="#e9d5cb"/>
<rect x="480.33" y="264.77" width="15.14" height="6.55" fill="#dddcdc"/>
<rect x="495.16" y="264.77" width="7.72" height="6.55" fill="#afcafc"/>
<rect x="502.58" y="264.77" width="7.72" height="6.55" fill="#9ebeff"/>
<rect x="102.00" y="271.03" width="7.72" height="6.55" fill="#f2cbb7"/>
<rect x="109.42" y="271.03" width="7.72" height="6.55" fill="#e9d5cb"/>
<rect x="116.84" y="271.03" width="15.14" height="6.55" fill="#c0d4f5"/>
<rect x="131.67" y="271.03" width="7.72" height="6.55" fill="#9ebeff"/>
<rect x="139.09" y="271.03" width="7.72" height="6.55" fill="#c0d4f5"/>
<rect x="146.51" y="271.03" width="15.14" height="6.55" fill="#cfdaea"/>
<rect x="161.35" y="271.03" width="7.72" height="6.55" fill="#dddcdc"/>
<rect x="168.76" y="271.03" width="7.72" height="6.55" fill="#afcafc"/>
<rect x="176.18" y="271.03" width="15.14" height="6.55" fill="#cfdaea"/>
<rect x="191.02" y="271.03" width="7.72" height="6.55" fill="#e9d5cb"/>
<rect x="198.44" y="271.03" width="7.72" height="6.55" fill="#c0d4f5"/>
<rect x="205.85" y="271.03" width="7.72" height="6.55" fill="#cfdaea"/>
<rect x="213.27" y="271.03" width="22.55" height="6.55" fill="#f2cbb7"/>
<rect x="235.53" y="271.03" width="7.72" height="6.55" fill="#f4987a"/>
<rect x="242.95" y="271.03" width="7.72" height="6.55" fill="#ee8468"/>
<rect x="250.36" y="271.03" width="7.72" height="6.55" fill="#f7ac8e"/>
<rect x="257.78" y="271.03" width="7.72" height="6.55" fill="#f6bda2"/>
<rect x="265.20" y="271.03" width="7.72" height="6.55" fill="#f7ac8e"/>
<rect x="272.62" y="271.03" width="7.72" height="6.55" fill="#f2cbb7"/>
<rect x="280.04" y="271.03" width="7.72" height="6.55" fill="#f18f71"/>
<rect x="287.45" y="271.03" width="7.72" height="6.55" fill="#e36c55"/>
<rect x="294.87" y="271.03" width="7.72" height="6.55" fill="#b40426"/>
<rect x="302.29" y="271.03" width="7.72" height="6.55" fill="#ee8468"/>
<rect x="309.71" y="271.03" width="7.72" height="6.55" fill="#f7ac8e"/>
<rect x="317.13" y="271.03" width="7.72" height="6.55" fill="#e9785d"/>
<rect x="324.55" y="271.03" width="7.72" height="6.55" fill="#e36c55"/>
<rect x="331.96" y="271.03" width="7.72" height="6.55" fill="#e9785d"/>
<rect x="339.38" y="271.03" width="7.72" height="6.55" fill="#f7ac8e"/>
<rect x="346.80" y="271.03" width="7.72" height="6.55" fill="#f5c4ac"/>
<rect x="354.22" y="271.03" width="29.97" height="6.55" fill="#f6bda2"/>
<rect x="383.89" y="271.03" width="29.97" height="6.55" fill="#f7ac8e"/>
<rect x="413.56" y="271.03" width="7.72" height="6.55" fill="#f6a385"/>
<rect x="420.98" y="271.03" width="7.72" height="6.55" fill="#f2cbb7"/>
<rect x="428.40" y="271.03" width="7.72" height="6.55" fill="#f6bda2"/>
<rect x="435.82" y="271.03" width="7.72" height="6.55" fill="#f2cbb7"/>
<rect x="443.24" y="271.03" width="7.72" height="6.55" fill="#e9d5cb"/>
<rect x="450.65" y="271.03" width="7.72" height="6.55" fill="#dddcdc"/>
<rect x="458.07" y="271.03" width="7.72" height="6.55" fill="#f2cbb7"/>
<rect x="465.49" y="271.03" width="15.14" height="6.55" fill="#e9d5cb"/>
<rect x="480.33" y="271.03" width="7.72" height="6.55" fill="#f7ac8e"/>
<rect x="487.75" y="271.03" width="7.72" height="6.55" fill="#f6bda2"/>
<rect x="495.16" y="271.03" width="7.72" height="6.55" fill="#dddcdc"/>
<rect x="502.58" y="271.03" width="7.72" height="6.55" fill="#cfdaea"/>
<rect x="102.00" y="277.28" width="7.72" height="6.55" fill="#f7ac8e"/>
<rect x="109.42" y="277.28" width="7.72" height="6.55" fill="#f2cbb7"/>
<rect x="116.84" y="277.28" width="15.14" height="6.55" fill="#dddcdc"/>
<rect x="131.67" y="277.28" width="15.14" height="6.55" fill="#cfdaea"/>
<rect x="146.51" y="277.28" width="15.14" height="6.55" fill="#dddcdc"/>
<rect x="161.35" y="277.28" width="7.72" height="6.55" fill="#f2cbb7"/>
<rect x="168.76" y="277.28" width="7.72" height="6.55" fill="#dddcdc"/>
<rect x="176.18" y="277.28" width="7.72" height="6.55" fill="#e9d5cb"/>
<rect x="183.60" y="277.28" width="15.14" height="6.55" fill="#f6bda2"/>
<rect x="198.44" y="277.28" width="7.72" height="6.55" fill="#e9d5cb"/>
<rect x="205.85" y="277.28" width="7.72" height="6.55" fill="#cfdaea"/>
<rect x="213.27" y="277.28" width="22.55" height="6.55" fill="#f2cbb7"/>
<rect x="235.53" y="277.28" width="7.72" height="6.55" fill="#f7ac8e"/>
<rect x="242.95" y="277.28" width="15.14" height="6.55" fill="#f4987a"/>
<rect x="257.78" y="277.28" width="7.72" height="6.55" fill="#f7ac8e"/>
<rect x="265.20" y="277.28" width="7.72" height="6.55" fill="#f4987a"/>
<rect x="272.62" y="277.28" width="7.72" height="6.55" fill="#f7ac8e"/>
<rect x="280.04" y="277.28" width="7.72" height="6.55" fill="#e36c55"/>
<rect x="287.45" y="277.28" width="7.72" height="6.55" fill="#b40426"/>
<rect x="294.87" y="277.28" width="15.14" height="6.55" fill="#e36c55"/>
<rect x="309.71" y="277.28" width="7.72" height="6.55" fill="#f4987a"/>
<rect x="317.13" y="277.28" width="15.14" height="6.55" fill="#ee8468"/>
<rect x="331.96" y="277.28" width="7.72" height="6.55" fill="#e9785d"/>
<rect x="339.38" y="277.28" width="7.72" height="6.55" fill="#f7ac8e"/>
<rect x="346.80" y="277.28" width="7.72" height="6.55" fill="#e9d5cb"/>
<rect x="354.22" y="277.28" width="22.55" height="6.55" fill="#f2cbb7"/>
<rect x="376.47" y="277.28" width="7.72" height="6.55" fill="#f6bda2"/>
<rect x="383.89" y="277.28" width="37.39" height="6.55" fill="#f7ac8e"/>
<rect x="420.98" y="277.28" width="15.14" height="6.55" fill="#f2cbb7"/>
<rect x="435.82" y="277.28" width="7.72" height="6.55" fill="#f6bda2"/>
<rect x="443.24" y="277.28" width="15.14" height="6.55" fill="#f2cbb7"/>
<rect x="458.07" y="277.28" width="7.72" height="6.55" fill="#e9d5cb"/>
<rect x="465.49" y="277.28" width="7.72" height="6.55" fill="#dddcdc"/>
<rect x="472.91" y="277.28" width="7.72" height="6.55" fill="#cfdaea"/>
<rect x="480.33" y="277.28" width="22.55" height="6.55" fill="#c0d4f5"/>
<rect x="502.58" y="277.28" width="7.72" height="6.55" fill="#afcafc"/>
<rect x="102.00" y="283.54" width="7.72" height="6.55" fill="#ee8468"/>
<rect x="109.42" y="283.54" width="7.72" height="6.55" fill="#f6bda2"/>
<rect x="116.84" y="283.54" width="7.72" height="6.55" fill="#dddcdc"/>
<rect x="124.25" y="283.54" width="7.72" height="6.55" fill="#f2cbb7"/>
<rect x="131.67" y="283.54" width="22.55" height="6.55" fill="#dddcdc"/>
<rect x="153.93" y="283.54" width="7.72" height="6.55" fill="#e9d5cb"/>
<rect x="161.35" y="283.54" width="7.72" height="6.55" fill="#f7ac8e"/>
<rect x="168.76" y="283.54" width="7.72" height="6.55" fill="#dddcdc"/>
<rect x="176.18" y="283.54" width="7.72" height="6.55" fill="#f6bda2"/>
<rect x="183.60" y="283.54" width="15.14" height="6.55" fill="#f7ac8e"/>
<rect x="198.44" y="283.54" width="7.72" height="6.55" fill="#f2cbb7"/>
<rect x="205.85" y="283.54" width="7.72" height="6.55" fill="#dddcdc"/>
<rect x="213.27" y="283.54" width="7.72" height="6.55" fill="#f2cbb7"/>
<rect x="220.69" y="283.54" width="15.14" height="6.55" fill="#f6bda2"/>
<rect x="235.53" y="283.54" width="15.14" height="6.55" fill="#f4987a"/>
<rect x="250.36" y="283.54" width="7.72" height="6.55" fill="#e36c55"/>
<rect x="257.78" y="283.54" width="7.72" height="6.55" fill="#ee8468"/>
<rect x="265.20" y="283.54" width="7.72" height="6.55" fill="#e9785d"/>
<rect x="272.62" y="283.54" width="7.72" height="6.55" fill="#f4987a"/>
<rect x="280.04" y="283.54" width="7.72" height="6.55" fill="#b40426"/>
<rect x="287.45" y="283.54" width="7.72" height="6.55" fill="#e36c55"/>
<rect x="294.87" y="283.54" width="7.72" height="6.55" fill="#f18f71"/>
<rect x="302.29" y="283.54" width="7.72" height="6.55" fill="#ee8468"/>
<rect x="309.71" y="283.54" width="15.14" height="6.55" fill="#f4987a"/>
<rect x="324.55" y="283.54" width="7.72" height="6.55" fill="#f6a385"/>
<rect x="331.96" y="283.54" width="7.72" height="6.55" fill="#f18f71"/>
<rect x="339.38" y="283.54" width="7.72" height="6.55" fill="#f5c4ac"/>
<rect x="346.80" y="283.54" width="7.72" height="6.55" fill="#dddcdc"/>
<rect x="354.22" y="283.54" width="15.14" height="6.55" fill="#e9d5cb"/>
<rect x="369.05" y="283.54" width="7.72" height="6.55" fill="#dddcdc"/>
<rect x="376.47" y="283.54" width="15.14" height="6.55" fill="#f2cbb7"/>
<rect x="391.31" y="283.54" width="7.72" height="6.55" fill="#f5c4ac"/>
<rect x="398.73" y="283.54" width="7.72" height="6.55" fill="#f2cbb7"/>
<rect x="406.15" y="283.54" width="15.14" height="6.55" fill="#eed0c0"/>
<rect x="420.98" y="283.54" width="7.72" height="6.55" fill="#e3d9d3"/>
<rect x="428.40" y="283.54" width="22.55" height="6.55" fill="#dddcdc"/>
<rect x="450.65" y="283.54" width="7.72" height="6.55" fill="#e9d5cb"/>
<rect x="458.07" y="283.54" width="7.72" height="6.55" fill="#cfdaea"/>
<rect x="465.49" y="283.54" width="15.14" height="6.55" fill="#c0d4f5"/>
<rect x="480.33" y="283.54" width="7.72" height="6.55" fill="#9ebeff"/>
<rect x="487.75" y="283.54" width="15.14" height="6.55" fill="#afcafc"/>
<rect x="502.58" y="283.54" width="7.72" height="6.55" fill="#7b9ff9"/>
<rect x="102.00" y="289.79" width="7.72" height="6.55" fill="#f7ac8e"/>
<rect x="109.42" y="289.79" width="7.72" height="6.55" fill="#f6bda2"/>
<rect x="116.84" y="289.79" width="15.14" height="6.55" fill="#f2cbb7"/>
<rect x="131.67" y="289.79" width="15.14" height="6.55" fill="#e9d5cb"/>
<rect x="146.51" y="289.79" width="7.72" height="6.55" fill="#f2cbb7"/>
<rect x="153.93" y="289.79" width="7.72" height="6.55" fill="#e9d5cb"/>
<rect x="161.35" y="289.79" width="7.72" height="6.55" fill="#f6bda2"/>
<rect x="168.76" y="289.79" width="7.72" height="6.55" fill="#e9d5cb"/>
<rect x="176.18" y="289.79" width="15.14" height="6.55" fill="#f6bda2"/>
<rect x="191.02" y="289.79" width="15.14" height="6.55" fill="#f2cbb7"/>
<rect x="205.85" y="289.79" width="7.72" height="6.55" fill="#dddcdc"/>
<rect x="213.27" y="289.79" width="7.72" height="6.55" fill="#f2cbb7"/>
<rect x="220.69" y="289.79" width="7.72" height="6.55" fill="#e9d5cb"/>
<rect x="228.11" y="289.79" width="7.72" height="6.55" fill="#dddcdc"/>
<rect x="235.53" y="289.79" width="7.72" height="6.55" fill="#e9d5cb"/>
<rect x="242.95" y="289.79" width="7.72" height="6.55" fill="#f2cbb7"/>
<rect x="250.36" y="289.79" width="22.55" height="6.55" fill="#f7ac8e"/>
<rect x="272.62" y="289.79" width="7.72" height="6.55" fill="#b40426"/>
<rect x="280.04" y="289.79" width="7.72" height="6.55" fill="#f4987a"/>
<rect x="287.45" y="289.79" width="7.72" height="6.55" fill="#f7ac8e"/>
<rect x="294.87" y="289.79" width="7.72" height="6.55" fill="#f2cbb7"/>
<rect x="302.29" y="289.79" width="22.55" height="6.55" fill="#f7ac8e"/>
<rect x="324.55" y="289.79" width="7.72" height="6.55" fill="#f5c4ac"/>
<rect x="331.96" y="289.79" width="7.72" height="6.55" fill="#f7b599"/>
<rect x="339.38" y="289.79" width="7.72" height="6.55" fill="#f5c4ac"/>
<rect x="346.80" y="289.79" width="7.72" height="6.55" fill="#dddcdc"/>
<rect x="354.22" y="289.79" width="22.55" height="6.55" fill="#e9d5cb"/>
<rect x="376.47" y="289.79" width="29.97" height="6.55" fill="#f2cbb7"/>
<rect x="406.15" y="289.79" width="15.14" height="6.55" fill="#eed0c0"/>
<rect x="420.98" y="289.79" width="7.72" height="6.55" fill="#f7ac8e"/>
<rect x="428.40" y="289.79" width="22.55" height="6.55" fill="#f2cbb7"/>
<rect x="450.65" y="289.79" width="7.72" height="6.55" fill="#f6bda2"/>
<rect x="458.07" y="289.79" width="7.72" height="6.55" fill="#f2cbb7"/>
<rect x="465.49" y="289.79" width="7.72" height="6.55" fill="#dddcdc"/>
<rect x="472.91" y="289.79" width="7.72" height="6.55" fill="#cfdaea"/>
<rect x="480.33" y="289.79" width="7.72" height="6.55" fill="#8db0fe"/>
<rect x="487.75" y="289.79" width="15.14" height="6.55" fill="#afcafc"/>
<rect x="502.58" y="289.79" width="7.72" height="6.55" fill="#8db0fe"/>
<rect x="102.00" y="296.05" width="7.72" height="6.55" fill="#ee8468"/>
<rect x="109.42" y="296.05" width="7.72" height="6.55" fill="#f6bda2"/>
<rect x="116.84" y="296.05" width="7.72" height="6.55" fill="#cfdaea"/>
<rect x="124.25" y="296.05" width="7.72" height="6.55" fill="#f2cbb7"/>
<rect x="131.67" y="296.05" width="22.55" height="6.55" fill="#dddcdc"/>
<rect x="153.93" y="296.05" width="7.72" height="6.55" fill="#e9d5cb"/>
<rect x="161.35" y="296.05" width="7.72" height="6.55" fill="#f7ac8e"/>
<rect x="168.76" y="296.05" width="7.72" height="6.55" fill="#e9d5cb"/>
<rect x="176.18" y="296.05" width="15.14" height="6.55" fill="#f7ac8e"/>
<rect x="191.02" y="296.05" width="7.72" height="6.55" fill="#f4987a"/>
<rect x="198.44" y="296.05" width="7.72" height="6.55" fill="#f6bda2"/>
<rect x="205.85" y="296.05" width="7.72" height="6.55" fill="#e9d5cb"/>
<rect x="213.27" y="296.05" width="7.72" height="6.55" fill="#f2cbb7"/>
<rect x="220.69" y="296.05" width="15.14" height="6.55" fill="#f6bda2"/>
<rect x="235.53" y="296.05" width="7.72" height="6.55" fill="#f4987a"/>
<rect x="242.95" y="296.05" width="7.72" height="6.55" fill="#ee8468"/>
<rect x="250.36" y="296.05" width="7.72" height="6.55" fill="#d65244"/>
<rect x="257.78" y="296.05" width="7.72" height="6.55" fill="#ee8468"/>
<rect x="265.20" y="296.05" width="7.72" height="6.55" fill="#b40426"/>
<rect x="272.62" y="296.05" width="7.72" height="6.55" fill="#f7ac8e"/>
<rect x="280.04" y="296.05" width="7.72" height="6.55" fill="#e9785d"/>
<rect x="287.45" y="296.05" width="7.72" height="6.55" fill="#f4987a"/>
<rect x="294.87" y="296.05" width="15.14" height="6.55" fill="#f7ac8e"/>
<rect x="309.71" y="296.05" width="15.14" height="6.55" fill="#f6bda2"/>
<rect x="324.55" y="296.05" width="7.72" height="6.55" fill="#f5c4ac"/>
<rect x="331.96" y="296.05" width="7.72" height="6.55" fill="#f6bda2"/>
<rect x="339.38" y="296.05" width="7.72" height="6.55" fill="#f5c4ac"/>
<rect x="346.80" y="296.05" width="22.55" height="6.55" fill="#c0d4f5"/>
<rect x="369.05" y="296.05" width="7.72" height="6.55" fill="#afcafc"/>
<rect x="376.47" y="296.05" width="22.55" height="6.55" fill="#cfdaea"/>
<rect x="398.73" y="296.05" width="44.81" height="6.55" fill="#c0d4f5"/>
<rect x="443.24" y="296.05" width="15.14" height="6.55" fill="#cfdaea"/>
<rect x="458.07" y="296.05" width="7.72" height="6.55" fill="#c0d4f5"/>
<rect x="465.49" y="296.05" width="7.72" height="6.55" fill="#afcafc"/>
<rect x="472.91" y="296.05" width="7.72" height="6.55" fill="#9ebeff"/>
<rect x="480.33" y="296.05" width="7.72" height="6.55" fill="#8db0fe"/>
<rect x="487.75" y="296.05" width="15.14" height="6.55" fill="#afcafc"/>
<rect x="502.58" y="296.05" width="7.72" height="6.55" fill="#8db0fe"/>
<rect x="102.00" y="302.30" width="7.72" height="6.55" fill="#f7ac8e"/>
<rect x="109.42" y="302.30" width="7.72" height="6.55" fill="#f6bda2"/>
<rect x="116.84" y="302.30" width="7.72" height="6.55" fill="#c0d4f5"/>
<rect x="124.25" y="302.30" width="7.72" height="6.55" fill="#e9d5cb"/>
<rect x="131.67" y="302.30" width="22.55" height="6.55" fill="#dddcdc"/>
<rect x="153.93" y="302.30" width="7.72" height="6.55" fill="#e9d5cb"/>
<rect x="161.35" y="302.30" width="7.72" height="6.55" fill="#f7ac8e"/>
<rect x="168.76" y="302.30" width="7.72" height="6.55" fill="#f2cbb7"/>
<rect x="176.18" y="302.30" width="7.72" height="6.55" fill="#f7ac8e"/>
<rect x="183.60" y="302.30" width="7.72" height="6.55" fill="#f6a385"/>
<rect x="191.02" y="302.30" width="7.72" height="6.55" fill="#f4987a"/>
<rect x="198.44" y="302.30" width="7.72" height="6.55" fill="#f5c4ac"/>
<rect x="205.85" y="302.30" width="7.72" height="6.55" fill="#dddcdc"/>
<rect x="213.27" y="302.30" width="7.72" height="6.55" fill="#e3d9d3"/>
<rect x="220.69" y="302.30" width="15.14" height="6.55" fill="#f6a385"/>
<rect x="235.53" y="302.30" width="7.72" height="6.55" fill="#e9785d"/>
<rect x="242.95" y="302.30" width="7.72" height="6.55" fill="#f4987a"/>
<rect x="250.36" y="302.30" width="7.72" height="6.55" fill="#e9785d"/>
<rect x="257.78" y="302.30" width="7.72" height="6.55" fill="#b40426"/>
<rect x="265.20" y="302.30" width="7.72" height="6.55" fill="#ee8468"/>
<rect x="272.62" y="302.30" width="7.72" height="6.55" fill="#f7ac8e"/>
<rect x="280.04" y="302.30" width="7.72" height="6.55" fill="#ee8468"/>
<rect x="287.45" y="302.30" width="7.72" height="6.55" fill="#f7ac8e"/>
<rect x="294.87" y="302.30" width="15.14" height="6.55" fill="#f6bda2"/>
<rect x="309.71" y="302.30" width="7.72" height="6.55" fill="#f2cbb7"/>
<rect x="317.13" y="302.30" width="7.72" height="6.55" fill="#f6bda2"/>
<rect x="324.55" y="302.30" width="7.72" height="6.55" fill="#f2cbb7"/>
<rect x="331.96" y="302.30" width="7.72" height="6.55" fill="#f6bda2"/>
<rect x="339.38" y="302.30" width="7.72" height="6.55" fill="#f7ac8e"/>
<rect x="346.80" y="302.30" width="22.55" height="6.55" fill="#dddcdc"/>
<rect x="369.05" y="302.30" width="7.72" height="6.55" fill="#cfdaea"/>
<rect x="376.47" y="302.30" width="22.55" height="6.55" fill="#dddcdc"/>
<rect x="398.73" y="302.30" width="22.55" height="6.55" fill="#c0d4f5"/>
<rect x="420.98" y="302.30" width="7.72" height="6.55" fill="#cfdaea"/>
<rect x="428.40" y="302.30" width="7.72" height="6.55" fill="#c0d4f5"/>
<rect x="435.82" y="302.30" width="7.72" height="6.55" fill="#dddcdc"/>
<rect x="443.24" y="302.30" width="7.72" height="6.55" fill="#cfdaea"/>
<rect x="450.65" y="302.30" width="7.72" height="6.55" fill="#dddcdc"/>
<rect x="458.07" y="302.30" width="15.14" height="6.55" fill="#c0d4f5"/>
<rect x="472.91" y="302.30" width="7.72" height="6.55" fill="#afcafc"/>
<rect x="480.33" y="302.30" width="7.72" height="6.55" fill="#8db0fe"/>
<rect x="487.75" y="302.30" width="7.72" height="6.55" fill="#afcafc"/>
<rect x="495.16" y="302.30" width="7.72" height="6.55" fill="#c0d4f5"/>
<rect x="502.58" y="302.30" width="7.72" height="6.55" fill="#afcafc"/>
<rect x="102.00" y="308.55" width="7.72" height="6.55" fill="#f6bda2"/>
<rect x="109.42" y="308.55" width="7.72" height="6.55" fill="#f2cbb7"/>
<rect x="116.84" y="308.55" width="7.72" height="6.55" fill="#c0d4f5"/>
<rect x="124.25" y="308.55" width="7.72" height="6.55" fill="#e9d5cb"/>
<rect x="131.67" y="308.55" width="22.55" height="6.55" fill="#dddcdc"/>
<rect x="153.93" y="308.55" width="7.72" height="6.55" fill="#e9d5cb"/>
<rect x="161.35" y="308.55" width="7.72" height="6.55" fill="#f7ac8e"/>
<rect x="168.76" y="308.55" width="7.72" height="6.55" fill="#e9d5cb"/>
<rect x="176.18" y="308.55" width="7.72" height="6.55" fill="#f7ac8e"/>
<rect x="183.60" y="308.55" width="7.72" height="6.55" fill="#f7b599"/>
<rect x="191.02" y="308.55" width="7.72" height="6.55" fill="#f7ac8e"/>
<rect x="198.44" y="308.55" width="7.72" height="6.55" fill="#f5c4ac"/>
<rect x="205.85" y="308.55" width="7.72" height="6.55" fill="#e3d9d3"/>
<rect x="213.27" y="308.55" width="7.72" height="6.55" fill="#e9d5cb"/>
<rect x="220.69" y="308.55" width="7.72" height="6.55" fill="#f18f71"/>
<rect x="228.11" y="308.55" width="7.72" height="6.55" fill="#f4987a"/>
<rect x="235.53" y="308.55" width="7.72" height="6.55" fill="#ee8468"/>
<rect x="242.95" y="308.55" width="7.72" height="6.55" fill="#e36c55"/>
<rect x="250.36" y="308.55" width="7.72" height="6.55" fill="#b40426"/>
<rect x="257.78" y="308.55" width="7.72" height="6.55" fill="#e9785d"/>
<rect x="265.20" y="308.55" width="7.72" height="6.55" fill="#d65244"/>
<rect x="272.62" y="308.55" width="7.72" height="6.55" fill="#f7ac8e"/>
<rect x="280.04" y="308.55" width="7.72" height="6.55" fill="#e36c55"/>
<rect x="287.45" y="308.55" width="7.72" height="6.55" fill="#f4987a"/>
<rect x="294.87" y="308.55" width="7.72" height="6.55" fill="#f7ac8e"/>
<rect x="302.29" y="308.55" width="7.72" height="6.55" fill="#f6bda2"/>
<rect x="309.71" y="308.55" width="7.72" height="6.55" fill="#f2cbb7"/>
<rect x="317.13" y="308.55" width="7.72" height="6.55" fill="#f6bda2"/>
<rect x="324.55" y="308.55" width="7.72" height="6.55" fill="#f2cbb7"/>
<rect x="331.96" y="308.55" width="15.14" height="6.55" fill="#f7ac8e"/>
<rect x="346.80" y="308.55" width="22.55" height="6.55" fill="#dddcdc"/>
<rect x="369.05" y="308.55" width="7.72" height="6.55" fill="#cfdaea"/>
<rect x="376.47" y="308.55" width="22.55" height="6.55" fill="#dddcdc"/>
<rect x="398.73" y="308.55" width="22.55" height="6.55" fill="#c0d4f5"/>
<rect x="420.98" y="308.55" width="7.72" height="6.55" fill="#cfdaea"/>
<rect x="428.40" y="308.55" width="7.72" height="6.55" fill="#c0d4f5"/>
<rect x="435.82" y="308.55" width="7.72" height="6.55" fill="#dddcdc"/>
<rect x="443.24" y="308.55" width="7.72" height="6.55" fill="#cfdaea"/>
<rect x="450.65" y="308.55" width="7.72" height="6.55" fill="#dddcdc"/>
<rect x="458.07" y="308.55" width="15.14" height="6.55" fill="#c0d4f5"/>
<rect x="472.91" y="308.55" width="22.55" height="6.55" fill="#afcafc"/>
<rect x="495.16" y="308.55" width="7.72" height="6.55" fill="#c0d4f5"/>
<rect x="502.58" y="308.55" width="7.72" height="6.55" fill="#afcafc"/>
<rect x="102.00" y="314.81" width="7.72" height="6.55" fill="#e9d5cb"/>
<rect x="109.42" y="314.81" width="7.72" height="6.55" fill="#cfdaea"/>
<rect x="116.84" y="314.81" width="7.72" height="6.55" fill="#c0d4f5"/>
<rect x="124.25" y="314.81" width="7.72" height="6.55" fill="#cfdaea"/>
<rect x="131.67" y="314.81" width="7.72" height="6.55" fill="#9ebeff"/>
<rect x="139.09" y="314.81" width="15.14" height="6.55" fill="#c0d4f5"/>
<rect x="153.93" y="314.81" width="7.72" height="6.55" fill="#dddcdc"/>
<rect x="161.35" y="314.81" width="7.72" height="6.55" fill="#f2cbb7"/>
<rect x="168.76" y="314.81" width="7.72" height="6.55" fill="#cfdaea"/>
<rect x="176.18" y="314.81" width="7.72" height="6.55" fill="#f2cbb7"/>
<rect x="183.60" y="314.81" width="7.72" height="6.55" fill="#eed0c0"/>
<rect x="191.02" y="314.81" width="7.72" height="6.55" fill="#f2cbb7"/>
<rect x="198.44" y="314.81" width="7.72" height="6.55" fill="#cfdaea"/>
<rect x="205.85" y="314.81" width="7.72" height="6.55" fill="#e9d5cb"/>
<rect x="213.27" y="314.81" width="7.72" height="6.55" fill="#f2cbb7"/>
<rect x="220.69" y="314.81" width="7.72" height="6.55" fill="#f18f71"/>
<rect x="228.11" y="314.81" width="7.72" height="6.55" fill="#f4987a"/>
<rect x="235.53" y="314.81" width="7.72" height="6.55" fill="#e36c55"/>
<rect x="242.95" y="314.81" width="7.72" height="6.55" fill="#b40426"/>
<rect x="250.36" y="314.81" width="7.72" height="6.55" fill="#e36c55"/>
<rect x="257.78" y="314.81" width="7.72" height="6.55" fill="#f4987a"/>
<rect x="265.20" y="314.81" width="7.72" height="6.55" fill="#ee8468"/>
<rect x="272.62" y="314.81" width="7.72" height="6.55" fill="#f2cbb7"/>
<rect x="280.04" y="314.81" width="15.14" height="6.55" fill="#f4987a"/>
<rect x="294.87" y="314.81" width="7.72" height="6.55" fill="#ee8468"/>
<rect x="302.29" y="314.81" width="7.72" height="6.55" fill="#f7ac8e"/>
<rect x="309.71" y="314.81" width="7.72" height="6.55" fill="#f2cbb7"/>
<rect x="317.13" y="314.81" width="29.97" height="6.55" fill="#f7ac8e"/>
<rect x="346.80" y="314.81" width="7.72" height="6.55" fill="#e9d5cb"/>
<rect x="354.22" y="314.81" width="7.72" height="6.55" fill="#f2cbb7"/>
<rect x="361.64" y="314.81" width="7.72" height="6.55" fill="#e9d5cb"/>
<rect x="369.05" y="314.81" width="15.14" height="6.55" fill="#dddcdc"/>
<rect x="383.89" y="314.81" width="15.14" height="6.55" fill="#e9d5cb"/>
<rect x="398.73" y="314.81" width="7.72" height="6.55" fill="#dddcdc"/>
<rect x="406.15" y="314.81" width="15.14" height="6.55" fill="#cfdaea"/>
<rect x="420.98" y="314.81" width="7.72" height="6.55" fill="#dddcdc"/>
<rect x="428.40" y="314.81" width="7.72" height="6.55" fill="#cfdaea"/>
<rect x="435.82" y="314.81" width="7.72" height="6.55" fill="#dddcdc"/>
<rect x="443.24" y="314.81" width="7.72" height="6.55" fill="#cfdaea"/>
<rect x="450.65" y="314.81" width="7.72" height="6.55" fill="#afcafc"/>
<rect x="458.07" y="314.81" width="15.14" height="6.55" fill="#cfdaea"/>
<rect x="472.91" y="314.81" width="7.72" height="6.55" fill="#c0d4f5"/>
<rect x="480.33" y="314.81" width="7.72" height="6.55" fill="#f2cbb7"/>
<rect x="487.75" y="314.81" width="7.72" height="6.55" fill="#e9d5cb"/>
<rect x="495.16" y="314.81" width="15.14" height="6.55" fill="#dddcdc"/>
<rect x="102.00" y="321.06" width="7.72" height="6.55" fill="#e9d5cb"/>
<rect x="109.42" y="321.06" width="7.72" height="6.55" fill="#cfdaea"/>
<rect x="116.84" y="321.06" width="7.72" height="6.55" fill="#9ebeff"/>
<rect x="124.25" y="321.06" width="7.72" height="6.55" fill="#c0d4f5"/>
<rect x="131.67" y="321.06" width="7.72" height="6.55" fill="#9ebeff"/>
<rect x="139.09" y="321.06" width="15.14" height="6.55" fill="#c0d4f5"/>
<rect x="153.93" y="321.06" width="7.72" height="6.55" fill="#e9d5cb"/>
<rect x="161.35" y="321.06" width="7.72" height="6.55" fill="#f7ac8e"/>
<rect x="168.76" y="321.06" width="7.72" height="6.55" fill="#cfdaea"/>
<rect x="176.18" y="321.06" width="15.14" height="6.55" fill="#f2cbb7"/>
<rect x="191.02" y="321.06" width="7.72" height="6.55" fill="#f5c4ac"/>
<rect x="198.44" y="321.06" width="7.72" height="6.55" fill="#c0d4f5"/>
<rect x="205.85" y="321.06" width="7.72" height="6.55" fill="#e9d5cb"/>
<rect x="213.27" y="321.06" width="7.72" height="6.55" fill="#f2cbb7"/>
<rect x="220.69" y="321.06" width="7.72" height="6.55" fill="#f18f71"/>
<rect x="228.11" y="321.06" width="7.72" height="6.55" fill="#e36c55"/>
<rect x="235.53" y="321.06" width="7.72" height="6.55" fill="#b40426"/>
<rect x="242.95" y="321.06" width="7.72" height="6.55" fill="#e36c55"/>
<rect x="250.36" y="321.06" width="7.72" height="6.55" fill="#ee8468"/>
<rect x="257.78" y="321.06" width="7.72" height="6.55" fill="#e9785d"/>
<rect x="265.20" y="321.06" width="7.72" height="6.55" fill="#f4987a"/>
<rect x="272.62" y="321.06" width="7.72" height="6.55" fill="#e9d5cb"/>
<rect x="280.04" y="321.06" width="7.72" height="6.55" fill="#f4987a"/>
<rect x="287.45" y="321.06" width="7.72" height="6.55" fill="#f7ac8e"/>
<rect x="294.87" y="321.06" width="7.72" height="6.55" fill="#f4987a"/>
<rect x="302.29" y="321.06" width="7.72" height="6.55" fill="#f6bda2"/>
<rect x="309.71" y="321.06" width="7.72" height="6.55" fill="#f2cbb7"/>
<rect x="317.13" y="321.06" width="29.97" height="6.55" fill="#f7ac8e"/>
<rect x="346.80" y="321.06" width="7.72" height="6.55" fill="#e9d5cb"/>
<rect x="354.22" y="321.06" width="7.72" height="6.55" fill="#f6bda2"/>
<rect x="361.64" y="321.06" width="7.72" height="6.55" fill="#f2cbb7"/>
<rect x="369.05" y="321.06" width="15.14" height="6.55" fill="#e9d5cb"/>
<rect x="383.89" y="321.06" width="7.72" height="6.55" fill="#f2cbb7"/>
<rect x="391.31" y="321.06" width="7.72" height="6.55" fill="#e9d5cb"/>
<rect x="398.73" y="321.06" width="7.72" height="6.55" fill="#dddcdc"/>
<rect x="406.15" y="321.06" width="15.14" height="6.55" fill="#cfdaea"/>
<rect x="420.98" y="321.06" width="7.72" height="6.55" fill="#dddcdc"/>
<rect x="428.40" y="321.06" width="22.55" height="6.55" fill="#cfdaea"/>
<rect x="450.65" y="321.06" width="7.72" height="6.55" fill="#afcafc"/>
<rect x="458.07" y="321.06" width="15.14" height="6.55" fill="#cfdaea"/>
<rect x="472.91" y="321.06" width="7.72" height="6.55" fill="#c0d4f5"/>
<rect x="480.33" y="321.06" width="29.97" height="6.55" fill="#e9d5cb"/>
<rect x="102.00" y="327.32" width="22.55" height="6.55" fill="#8db0fe"/>
<rect x="124.25" y="327.32" width="7.72" height="6.55" fill="#9ebeff"/>
<rect x="131.67" y="327.32" width="7.72" height="6.55" fill="#c0d4f5"/>
<rect x="139.09" y="327.32" width="15.14" height="6.55" fill="#cfdaea"/>
<rect x="153.93" y="327.32" width="7.72" height="6.55" fill="#f2cbb7"/>
<rect x="161.35" y="327.32" width="22.55" height="6.55" fill="#f6bda2"/>
<rect x="183.60" y="327.32" width="7.72" height="6.55" fill="#f5c4ac"/>
<rect x="191.02" y="327.32" width="7.72" height="6.55" fill="#f2cbb7"/>
<rect x="198.44" y="327.32" width="7.72" height="6.55" fill="#c0d4f5"/>
<rect x="205.85" y="327.32" width="7.72" height="6.55" fill="#f5c4ac"/>
<rect x="213.27" y="327.32" width="7.72" height="6.55" fill="#f6bda2"/>
<rect x="220.69" y="327.32" width="7.72" height="6.55" fill="#e36c55"/>
<rect x="228.11" y="327.32" width="7.72" height="6.55" fill="#b40426"/>
<rect x="235.53" y="327.32" width="7.72" height="6.55" fill="#e36c55"/>
<rect x="242.95" y="327.32" width="15.14" height="6.55" fill="#f4987a"/>
<rect x="257.78" y="327.32" width="7.72" height="6.55" fill="#f6a385"/>
<rect x="265.20" y="327.32" width="7.72" height="6.55" fill="#f6bda2"/>
<rect x="272.62" y="327.32" width="7.72" height="6.55" fill="#dddcdc"/>
<rect x="280.04" y="327.32" width="7.72" height="6.55" fill="#f6bda2"/>
<rect x="287.45" y="327.32" width="15.14" height="6.55" fill="#f2cbb7"/>
<rect x="302.29" y="327.32" width="7.72" height="6.55" fill="#e9d5cb"/>
<rect x="309.71" y="327.32" width="7.72" height="6.55" fill="#c0d4f5"/>
<rect x="317.13" y="327.32" width="22.55" height="6.55" fill="#f6bda2"/>
<rect x="339.38" y="327.32" width="7.72" height="6.55" fill="#ee8468"/>
<rect x="346.80" y="327.32" width="7.72" height="6.55" fill="#e9d5cb"/>
<rect x="354.22" y="327.32" width="7.72" height="6.55" fill="#f7ac8e"/>
<rect x="361.64" y="327.32" width="7.72" height="6.55" fill="#f2cbb7"/>
<rect x="369.05" y="327.32" width="15.14" height="6.55" fill="#e9d5cb"/>
<rect x="383.89" y="327.32" width="7.72" height="6.55" fill="#f2cbb7"/>
<rect x="391.31" y="327.32" width="7.72" height="6.55" fill="#e9d5cb"/>
<rect x="398.73" y="327.32" width="7.72" height="6.55" fill="#dddcdc"/>
<rect x="406.15" y="327.32" width="15.14" height="6.55" fill="#cfdaea"/>
<rect x="420.98" y="327.32" width="7.72" height="6.55" fill="#dddcdc"/>
<rect x="428.40" y="327.32" width="7.72" height="6.55" fill="#9ebeff"/>
<rect x="435.82" y="327.32" width="15.14" height="6.55" fill="#cfdaea"/>
<rect x="450.65" y="327.32" width="15.14" height="6.55" fill="#afcafc"/>
<rect x="465.49" y="327.32" width="15.14" height="6.55" fill="#cfdaea"/>
<rect x="480.33" y="327.32" width="15.14" height="6.55" fill="#c0d4f5"/>
<rect x="495.16" y="327.32" width="7.72" height="6.55" fill="#f6bda2"/>
<rect x="502.58" y="327.32" width="7.72" height="6.55" fill="#f4987a"/>
<rect x="102.00" y="333.57" width="7.72" height="6.55" fill="#dddcdc"/>
<rect x="109.42" y="333.57" width="22.55" height="6.55" fill="#c0d4f5"/>
<rect x="131.67" y="333.57" width="7.72" height="6.55" fill="#dddcdc"/>
<rect x="139.09" y="333.57" width="7.72" height="6.55" fill="#e9d5cb"/>
<rect x="146.51" y="333.57" width="7.72" height="6.55" fill="#dddcdc"/>
<rect x="153.93" y="333.57" width="7.72" height="6.55" fill="#f2cbb7"/>
<rect x="161.35" y="333.57" width="37.39" height="6.55" fill="#f6bda2"/>
<rect x="198.44" y="333.57" width="7.72" height="6.55" fill="#f2cbb7"/>
<rect x="205.85" y="333.57" width="7.72" height="6.55" fill="#f6bda2"/>
<rect x="213.27" y="333.57" width="7.72" height="6.55" fill="#f5c4ac"/>
<rect x="220.69" y="333.57" width="7.72" height="6.55" fill="#b40426"/>
<rect x="228.11" y="333.57" width="7.72" height="6.55" fill="#e36c55"/>
<rect x="235.53" y="333.57" width="22.55" height="6.55" fill="#f18f71"/>
<rect x="257.78" y="333.57" width="7.72" height="6.55" fill="#f6a385"/>
<rect x="265.20" y="333.57" width="7.72" height="6.55" fill="#f6bda2"/>
<rect x="272.62" y="333.57" width="7.72" height="6.55" fill="#e9d5cb"/>
<rect x="280.04" y="333.57" width="7.72" height="6.55" fill="#f6bda2"/>
<rect x="287.45" y="333.57" width="15.14" height="6.55" fill="#f2cbb7"/>
<rect x="302.29" y="333.57" width="7.72" height="6.55" fill="#dddcdc"/>
<rect x="309.71" y="333.57" width="7.72" height="6.55" fill="#c0d4f5"/>
<rect x="317.13" y="333.57" width="15.14" height="6.55" fill="#dddcdc"/>
<rect x="331.96" y="333.57" width="7.72" height="6.55" fill="#f2cbb7"/>
<rect x="339.38" y="333.57" width="7.72" height="6.55" fill="#f4987a"/>
<rect x="346.80" y="333.57" width="7.72" height="6.55" fill="#c0d4f5"/>
<rect x="354.22" y="333.57" width="7.72" height="6.55" fill="#dddcdc"/>
<rect x="361.64" y="333.57" width="7.72" height="6.55" fill="#cfdaea"/>
<rect x="369.05" y="333.57" width="15.14" height="6.55" fill="#c0d4f5"/>
<rect x="383.89" y="333.57" width="7.72" height="6.55" fill="#dddcdc"/>
<rect x="391.31" y="333.57" width="7.72" height="6.55" fill="#cfdaea"/>
<rect x="398.73" y="333.57" width="7.72" height="6.55" fill="#c0d4f5"/>
<rect x="406.15" y="333.57" width="15.14" height="6.55" fill="#afcafc"/>
<rect x="420.98" y="333.57" width="7.72" height="6.55" fill="#c0d4f5"/>
<rect x="428.40" y="333.57" width="7.72" height="6.55" fill="#9ebeff"/>
<rect x="435.82" y="333.57" width="7.72" height="6.55" fill="#cfdaea"/>
<rect x="443.24" y="333.57" width="15.14" height="6.55" fill="#c0d4f5"/>
<rect x="458.07" y="333.57" width="7.72" height="6.55" fill="#afcafc"/>
<rect x="465.49" y="333.57" width="29.97" height="6.55" fill="#c0d4f5"/>
<rect x="495.16" y="333.57" width="7.72" height="6.55" fill="#f2cbb7"/>
<rect x="502.58" y="333.57" width="7.72" height="6.55" fill="#f6bda2"/>
<rect x="102.00" y="339.83" width="7.72" height="6.55" fill="#e9d5cb"/>
<rect x="109.42" y="339.83" width="7.72" height="6.55" fill="#9ebeff"/>
<rect x="116.84" y="339.83" width="7.72" height="6.55" fill="#c0d4f5"/>
<rect x="124.25" y="339.83" width="7.72" height="6.55" fill="#9ebeff"/>
<rect x="131.67" y="339.83" width="7.72" height="6.55" fill="#dddcdc"/>
<rect x="139.09" y="339.83" width="22.55" height="6.55" fill="#e9d5cb"/>
<rect x="161.35" y="339.83" width="15.14" height="6.55" fill="#f2cbb7"/>
<rect x="176.18" y="339.83" width="15.14" height="6.55" fill="#dddcdc"/>
<rect x="191.02" y="339.83" width="7.72" height="6.55" fill="#d6dce4"/>
<rect x="198.44" y="339.83" width="7.72" height="6.55" fill="#c0d4f5"/>
<rect x="205.85" y="339.83" width="7.72" height="6.55" fill="#ee8468"/>
<rect x="213.27" y="339.83" width="7.72" height="6.55" fill="#b40426"/>
<rect x="220.69" y="339.83" width="7.72" height="6.55" fill="#f5c4ac"/>
<rect x="228.11" y="339.83" width="7.72" height="6.55" fill="#f6bda2"/>
<rect x="235.53" y="339.83" width="15.14" height="6.55" fill="#f2cbb7"/>
<rect x="250.36" y="339.83" width="7.72" height="6.55" fill="#e9d5cb"/>
<rect x="257.78" y="339.83" width="7.72" height="6.55" fill="#e3d9d3"/>
<rect x="265.20" y="339.83" width="37.39" height="6.55" fill="#f2cbb7"/>
<rect x="302.29" y="339.83" width="22.55" height="6.55" fill="#f6bda2"/>
<rect x="324.55" y="339.83" width="15.14" height="6.55" fill="#f2cbb7"/>
<rect x="339.38" y="339.83" width="7.72" height="6.55" fill="#f6bda2"/>
<rect x="346.80" y="339.83" width="7.72" height="6.55" fill="#e9d5cb"/>
<rect x="354.22" y="339.83" width="7.72" height="6.55" fill="#f2cbb7"/>
<rect x="361.64" y="339.83" width="22.55" height="6.55" fill="#e9d5cb"/>
<rect x="383.89" y="339.83" width="7.72" height="6.55" fill="#f4987a"/>
<rect x="391.31" y="339.83" width="37.39" height="6.55" fill="#f2cbb7"/>
<rect x="428.40" y="339.83" width="7.72" height="6.55" fill="#dddcdc"/>
<rect x="435.82" y="339.83" width="22.55" height="6.55" fill="#e9d5cb"/>
<rect x="458.07" y="339.83" width="37.39" height="6.55" fill="#cfdaea"/>
<rect x="495.16" y="339.83" width="7.72" height="6.55" fill="#f2cbb7"/>
<rect x="502.58" y="339.83" width="7.72" height="6.55" fill="#f6bda2"/>
<rect x="102.00" y="346.08" width="7.72" height="6.55" fill="#f2cbb7"/>
<rect x="109.42" y="346.08" width="7.72" height="6.55" fill="#9ebeff"/>
<rect x="116.84" y="346.08" width="7.72" height="6.55" fill="#dddcdc"/>
<rect x="124.25" y="346.08" width="7.72" height="6.55" fill="#cfdaea"/>
<rect x="131.67" y="346.08" width="7.72" height="6.55" fill="#f2cbb7"/>
<rect x="139.09" y="346.08" width="7.72" height="6.55" fill="#e9d5cb"/>
<rect x="146.51" y="346.08" width="15.14" height="6.55" fill="#dddcdc"/>
<rect x="161.35" y="346.08" width="22.55" height="6.55" fill="#e9d5cb"/>
<rect x="183.60" y="346.08" width="7.72" height="6.55" fill="#e3d9d3"/>
<rect x="191.02" y="346.08" width="7.72" height="6.55" fill="#e9d5cb"/>
<rect x="198.44" y="346.08" width="7.72" height="6.55" fill="#f2cbb7"/>
<rect x="205.85" y="346.08" width="7.72" height="6.55" fill="#b40426"/>
<rect x="213.27" y="346.08" width="7.72" height="6.55" fill="#ee8468"/>
<rect x="220.69" y="346.08" width="7.72" height="6.55" fill="#f6bda2"/>
<rect x="228.11" y="346.08" width="7.72" height="6.55" fill="#f5c4ac"/>
<rect x="235.53" y="346.08" width="15.14" height="6.55" fill="#e9d5cb"/>
<rect x="250.36" y="346.08" width="7.72" height="6.55" fill="#e3d9d3"/>
<rect x="257.78" y="346.08" width="7.72" height="6.55" fill="#dddcdc"/>
<rect x="265.20" y="346.08" width="7.72" height="6.55" fill="#e9d5cb"/>
<rect x="272.62" y="346.08" width="15.14" height="6.55" fill="#dddcdc"/>
<rect x="287.45" y="346.08" width="15.14" height="6.55" fill="#cfdaea"/>
<rect x="302.29" y="346.08" width="15.14" height="6.55" fill="#c0d4f5"/>
<rect x="317.13" y="346.08" width="22.55" height="6.55" fill="#afcafc"/>
<rect x="339.38" y="346.08" width="7.72" height="6.55" fill="#dddcdc"/>
<rect x="346.80" y="346.08" width="15.14" height="6.55" fill="#afcafc"/>
<rect x="361.64" y="346.08" width="22.55" height="6.55" fill="#9ebeff"/>
<rect x="383.89" y="346.08" width="7.72" height="6.55" fill="#dddcdc"/>
<rect x="391.31" y="346.08" width="37.39" height="6.55" fill="#afcafc"/>
<rect x="428.40" y="346.08" width="7.72" height="6.55" fill="#9ebeff"/>
<rect x="435.82" y="346.08" width="59.65" height="6.55" fill="#c0d4f5"/>
<rect x="495.16" y="346.08" width="7.72" height="6.55" fill="#f2cbb7"/>
<rect x="502.58" y="346.08" width="7.72" height="6.55" fill="#f6bda2"/>
<rect x="102.00" y="352.34" width="7.72" height="6.55" fill="#f7ac8e"/>
<rect x="109.42" y="352.34" width="22.55" height="6.55" fill="#f6bda2"/>
<rect x="131.67" y="352.34" width="7.72" height="6.55" fill="#f7ac8e"/>
<rect x="139.09" y="352.34" width="7.72" height="6.55" fill="#f6bda2"/>
<rect x="146.51" y="352.34" width="7.72" height="6.55" fill="#f2cbb7"/>
<rect x="153.93" y="352.34" width="15.14" height="6.55" fill="#e9d5cb"/>
<rect x="168.76" y="352.34" width="7.72" height="6.55" fill="#f2cbb7"/>
<rect x="176.18" y="352.34" width="7.72" height="6.55" fill="#f6bda2"/>
<rect x="183.60" y="352.34" width="7.72" height="6.55" fill="#f2cbb7"/>
<rect x="191.02" y="352.34" width="7.72" height="6.55" fill="#e9785d"/>
<rect x="198.44" y="352.34" width="7.72" height="6.55" fill="#b40426"/>
<rect x="205.85" y="352.34" width="7.72" height="6.55" fill="#f2cbb7"/>
<rect x="213.27" y="352.34" width="7.72" height="6.55" fill="#c0d4f5"/>
<rect x="220.69" y="352.34" width="7.72" height="6.55" fill="#f2cbb7"/>
<rect x="228.11" y="352.34" width="15.14" height="6.55" fill="#c0d4f5"/>
<rect x="242.95" y="352.34" width="7.72" height="6.55" fill="#cfdaea"/>
<rect x="250.36" y="352.34" width="15.14" height="6.55" fill="#f5c4ac"/>
<rect x="265.20" y="352.34" width="7.72" height="6.55" fill="#f6bda2"/>
<rect x="272.62" y="352.34" width="15.14" height="6.55" fill="#f2cbb7"/>
<rect x="287.45" y="352.34" width="7.72" height="6.55" fill="#e9d5cb"/>
<rect x="294.87" y="352.34" width="22.55" height="6.55" fill="#c0d4f5"/>
<rect x="317.13" y="352.34" width="15.14" height="6.55" fill="#8db0fe"/>
<rect x="331.96" y="352.34" width="15.14" height="6.55" fill="#afcafc"/>
<rect x="346.80" y="352.34" width="29.97" height="6.55" fill="#7b9ff9"/>
<rect x="376.47" y="352.34" width="7.72" height="6.55" fill="#9ebeff"/>
<rect x="383.89" y="352.34" width="7.72" height="6.55" fill="#8db0fe"/>
<rect x="391.31" y="352.34" width="29.97" height="6.55" fill="#9ebeff"/>
<rect x="420.98" y="352.34" width="7.72" height="6.55" fill="#8db0fe"/>
<rect x="428.40" y="352.34" width="7.72" height="6.55" fill="#afcafc"/>
<rect x="435.82" y="352.34" width="7.72" height="6.55" fill="#e9d5cb"/>
<rect x="443.24" y="352.34" width="15.14" height="6.55" fill="#dddcdc"/>
<rect x="458.07" y="352.34" width="7.72" height="6.55" fill="#afcafc"/>
<rect x="465.49" y="352.34" width="15.14" height="6.55" fill="#c0d4f5"/>
<rect x="480.33" y="352.34" width="7.72" height="6.55" fill="#9ebeff"/>
<rect x="487.75" y="352.34" width="15.14" height="6.55" fill="#c0d4f5"/>
<rect x="502.58" y="352.34" width="7.72" height="6.55" fill="#9ebeff"/>
<rect x="102.00" y="358.59" width="7.72" height="6.55" fill="#f7ac8e"/>
<rect x="109.42" y="358.59" width="22.55" height="6.55" fill="#f2cbb7"/>
<rect x="131.67" y="358.59" width="7.72" height="6.55" fill="#f6bda2"/>
<rect x="139.09" y="358.59" width="29.97" height="6.55" fill="#f2cbb7"/>
<rect x="168.76" y="358.59" width="22.55" height="6.55" fill="#f6bda2"/>
<rect x="191.02" y="358.59" width="7.72" height="6.55" fill="#b40426"/>
<rect x="198.44" y="358.59" width="7.72" height="6.55" fill="#e9785d"/>
<rect x="205.85" y="358.59" width="7.72" height="6.55" fill="#e9d5cb"/>
<rect x="213.27" y="358.59" width="7.72" height="6.55" fill="#d6dce4"/>
<rect x="220.69" y="358.59" width="7.72" height="6.55" fill="#f6bda2"/>
<rect x="228.11" y="358.59" width="7.72" height="6.55" fill="#f2cbb7"/>
<rect x="235.53" y="358.59" width="7.72" height="6.55" fill="#f5c4ac"/>
<rect x="242.95" y="358.59" width="7.72" height="6.55" fill="#f2cbb7"/>
<rect x="250.36" y="358.59" width="7.72" height="6.55" fill="#f7ac8e"/>
<rect x="257.78" y="358.59" width="15.14" height="6.55" fill="#f4987a"/>
<rect x="272.62" y="358.59" width="7.72" height="6.55" fill="#f2cbb7"/>
<rect x="280.04" y="358.59" width="7.72" height="6.55" fill="#f7ac8e"/>
<rect x="287.45" y="358.59" width="7.72" height="6.55" fill="#f6bda2"/>
<rect x="294.87" y="358.59" width="15.14" height="6.55" fill="#e9d5cb"/>
<rect x="309.71" y="358.59" width="7.72" height="6.55" fill="#dddcdc"/>
<rect x="317.13" y="358.59" width="7.72" height="6.55" fill="#cfdaea"/>
<rect x="324.55" y="358.59" width="7.72" height="6.55" fill="#c0d4f5"/>
<rect x="331.96" y="358.59" width="15.14" height="6.55" fill="#dddcdc"/>
<rect x="346.80" y="358.59" width="29.97" height="6.55" fill="#9ebeff"/>
<rect x="376.47" y="358.59" width="22.55" height="6.55" fill="#afcafc"/>
<rect x="398.73" y="358.59" width="29.97" height="6.55" fill="#a7c5fe"/>
<rect x="428.40" y="358.59" width="7.72" height="6.55" fill="#afcafc"/>
<rect x="435.82" y="358.59" width="7.72" height="6.55" fill="#e9d5cb"/>
<rect x="443.24" y="358.59" width="15.14" height="6.55" fill="#dddcdc"/>
<rect x="458.07" y="358.59" width="7.72" height="6.55" fill="#afcafc"/>
<rect x="465.49" y="358.59" width="7.72" height="6.55" fill="#c0d4f5"/>
<rect x="472.91" y="358.59" width="7.72" height="6.55" fill="#afcafc"/>
<rect x="480.33" y="358.59" width="7.72" height="6.55" fill="#9ebeff"/>
<rect x="487.75" y="358.59" width="7.72" height="6.55" fill="#afcafc"/>
<rect x="495.16" y="358.59" width="7.72" height="6.55" fill="#c0d4f5"/>
<rect x="502.58" y="358.59" width="7.72" height="6.55" fill="#afcafc"/>
<rect x="102.00" y="364.85" width="7.72" height="6.55" fill="#f7ac8e"/>
<rect x="109.42" y="364.85" width="7.72" height="6.55" fill="#f2cbb7"/>
<rect x="116.84" y="364.85" width="7.72" height="6.55" fill="#c0d4f5"/>
<rect x="124.25" y="364.85" width="7.72" height="6.55" fill="#f2cbb7"/>
<rect x="131.67" y="364.85" width="7.72" height="6.55" fill="#f6bda2"/>
<rect x="139.09" y="364.85" width="15.14" height="6.55" fill="#f2cbb7"/>
<rect x="153.93" y="364.85" width="15.14" height="6.55" fill="#f6bda2"/>
<rect x="168.76" y="364.85" width="7.72" height="6.55" fill="#f4987a"/>
<rect x="176.18" y="364.85" width="7.72" height="6.55" fill="#f7ac8e"/>
<rect x="183.60" y="364.85" width="7.72" height="6.55" fill="#b40426"/>
<rect x="191.02" y="364.85" width="7.72" height="6.55" fill="#f6bda2"/>
<rect x="198.44" y="364.85" width="7.72" height="6.55" fill="#f2cbb7"/>
<rect x="205.85" y="364.85" width="7.72" height="6.55" fill="#e3d9d3"/>
<rect x="213.27" y="364.85" width="7.72" height="6.55" fill="#dddcdc"/>
<rect x="220.69" y="364.85" width="7.72" height="6.55" fill="#f6bda2"/>
<rect x="228.11" y="364.85" width="7.72" height="6.55" fill="#f5c4ac"/>
<rect x="235.53" y="364.85" width="7.72" height="6.55" fill="#f2cbb7"/>
<rect x="242.95" y="364.85" width="7.72" height="6.55" fill="#eed0c0"/>
<rect x="250.36" y="364.85" width="7.72" height="6.55" fill="#f7b599"/>
<rect x="257.78" y="364.85" width="7.72" height="6.55" fill="#f6a385"/>
<rect x="265.20" y="364.85" width="7.72" height="6.55" fill="#f7ac8e"/>
<rect x="272.62" y="364.85" width="7.72" height="6.55" fill="#f6bda2"/>
<rect x="280.04" y="364.85" width="7.72" height="6.55" fill="#f7ac8e"/>
<rect x="287.45" y="364.85" width="7.72" height="6.55" fill="#f6bda2"/>
<rect x="294.87" y="364.85" width="7.72" height="6.55" fill="#cfdaea"/>
<rect x="302.29" y="364.85" width="7.72" height="6.55" fill="#f2cbb7"/>
<rect x="309.71" y="364.85" width="15.14" height="6.55" fill="#e9d5cb"/>
<rect x="324.55" y="364.85" width="7.72" height="6.55" fill="#cfdaea"/>
<rect x="331.96" y="364.85" width="15.14" height="6.55" fill="#f2cbb7"/>
<rect x="346.80" y="364.85" width="52.23" height="6.55" fill="#cfdaea"/>
<rect x="398.73" y="364.85" width="29.97" height="6.55" fill="#c0d4f5"/>
<rect x="428.40" y="364.85" width="7.72" height="6.55" fill="#9ebeff"/>
<rect x="435.82" y="364.85" width="15.14" height="6.55" fill="#dddcdc"/>
<rect x="450.65" y="364.85" width="7.72" height="6.55" fill="#e9d5cb"/>
<rect x="458.07" y="364.85" width="15.14" height="6.55" fill="#c0d4f5"/>
<rect x="472.91" y="364.85" width="7.72" height="6.55" fill="#afcafc"/>
<rect x="480.33" y="364.85" width="7.72" height="6.55" fill="#5977e3"/>
<rect x="487.75" y="364.85" width="7.72" height="6.55" fill="#8db0fe"/>
<rect x="495.16" y="364.85" width="7.72" height="6.55" fill="#c0d4f5"/>
<rect x="502.58" y="364.85" width="7.72" height="6.55" fill="#afcafc"/>
<rect x="102.00" y="371.10" width="7.72" height="6.55" fill="#eed0c0"/>
<rect x="109.42" y="371.10" width="7.72" height="6.55" fill="#dddcdc"/>
<rect x="116.84" y="371.10" width="7.72" height="6.55" fill="#c7d7f0"/>
<rect x="124.25" y="371.10" width="7.72" height="6.55" fill="#dddcdc"/>
<rect x="131.67" y="371.10" width="7.72" height="6.55" fill="#e9d5cb"/>
<rect x="139.09" y="371.10" width="7.72" height="6.55" fill="#eed0c0"/>
<rect x="146.51" y="371.10" width="7.72" height="6.55" fill="#e9d5cb"/>
<rect x="153.93" y="371.10" width="15.14" height="6.55" fill="#eed0c0"/>
<rect x="168.76" y="371.10" width="7.72" height="6.55" fill="#f6bda2"/>
<rect x="176.18" y="371.10" width="7.72" height="6.55" fill="#b40426"/>
<rect x="183.60" y="371.10" width="7.72" height="6.55" fill="#f7ac8e"/>
<rect x="191.02" y="371.10" width="15.14" height="6.55" fill="#f6bda2"/>
<rect x="205.85" y="371.10" width="7.72" height="6.55" fill="#e9d5cb"/>
<rect x="213.27" y="371.10" width="7.72" height="6.55" fill="#dddcdc"/>
<rect x="220.69" y="371.10" width="15.14" height="6.55" fill="#f6bda2"/>
<rect x="235.53" y="371.10" width="15.14" height="6.55" fill="#f2cbb7"/>
<rect x="250.36" y="371.10" width="22.55" height="6.55" fill="#f7ac8e"/>
<rect x="272.62" y="371.10" width="15.14" height="6.55" fill="#f6bda2"/>
<rect x="287.45" y="371.10" width="7.72" height="6.55" fill="#e9d5cb"/>
<rect x="294.87" y="371.10" width="29.97" height="6.55" fill="#cfdaea"/>
<rect x="324.55" y="371.10" width="7.72" height="6.55" fill="#afcafc"/>
<rect x="331.96" y="371.10" width="7.72" height="6.55" fill="#cfdaea"/>
<rect x="339.38" y="371.10" width="7.72" height="6.55" fill="#e9d5cb"/>
<rect x="346.80" y="371.10" width="22.55" height="6.55" fill="#c0d4f5"/>
<rect x="369.05" y="371.10" width="15.14" height="6.55" fill="#afcafc"/>
<rect x="383.89" y="371.10" width="7.72" height="6.55" fill="#cfdaea"/>
<rect x="391.31" y="371.10" width="37.39" height="6.55" fill="#c0d4f5"/>
<rect x="428.40" y="371.10" width="7.72" height="6.55" fill="#afcafc"/>
<rect x="435.82" y="371.10" width="15.14" height="6.55" fill="#cfdaea"/>
<rect x="450.65" y="371.10" width="7.72" height="6.55" fill="#dddcdc"/>
<rect x="458.07" y="371.10" width="7.72" height="6.55" fill="#c0d4f5"/>
<rect x="465.49" y="371.10" width="7.72" height="6.55" fill="#cfdaea"/>
<rect x="472.91" y="371.10" width="7.72" height="6.55" fill="#c0d4f5"/>
<rect x="480.33" y="371.10" width="7.72" height="6.55" fill="#9ebeff"/>
<rect x="487.75" y="371.10" width="7.72" height="6.55" fill="#afcafc"/>
<rect x="495.16" y="371.10" width="7.72" height="6.55" fill="#dddcdc"/>
<rect x="502.58" y="371.10" width="7.72" height="6.55" fill="#cfdaea"/>
<rect x="102.00" y="377.35" width="7.72" height="6.55" fill="#dddcdc"/>
<rect x="109.42" y="377.35" width="7.72" height="6.55" fill="#c7d7f0"/>
<rect x="116.84" y="377.35" width="7.72" height="6.55" fill="#96b7ff"/>
<rect x="124.25" y="377.35" width="7.72" height="6.55" fill="#cfdaea"/>
<rect x="131.67" y="377.35" width="22.55" height="6.55" fill="#f6bda2"/>
<rect x="153.93" y="377.35" width="7.72" height="6.55" fill="#f7ac8e"/>
<rect x="161.35" y="377.35" width="7.72" height="6.55" fill="#f2cbb7"/>
<rect x="168.76" y="377.35" width="7.72" height="6.55" fill="#b40426"/>
<rect x="176.18" y="377.35" width="7.72" height="6.55" fill="#f6bda2"/>
<rect x="183.60" y="377.35" width="7.72" height="6.55" fill="#f4987a"/>
<rect x="191.02" y="377.35" width="7.72" height="6.55" fill="#f6bda2"/>
<rect x="198.44" y="377.35" width="7.72" height="6.55" fill="#f2cbb7"/>
<rect x="205.85" y="377.35" width="7.72" height="6.55" fill="#e9d5cb"/>
<rect x="213.27" y="377.35" width="7.72" height="6.55" fill="#f2cbb7"/>
<rect x="220.69" y="377.35" width="15.14" height="6.55" fill="#f6bda2"/>
<rect x="235.53" y="377.35" width="15.14" height="6.55" fill="#cfdaea"/>
<rect x="250.36" y="377.35" width="7.72" height="6.55" fill="#e9d5cb"/>
<rect x="257.78" y="377.35" width="7.72" height="6.55" fill="#f2cbb7"/>
<rect x="265.20" y="377.35" width="15.14" height="6.55" fill="#e9d5cb"/>
<rect x="280.04" y="377.35" width="15.14" height="6.55" fill="#dddcdc"/>
<rect x="294.87" y="377.35" width="7.72" height="6.55" fill="#afcafc"/>
<rect x="302.29" y="377.35" width="22.55" height="6.55" fill="#cfdaea"/>
<rect x="324.55" y="377.35" width="7.72" height="6.55" fill="#afcafc"/>
<rect x="331.96" y="377.35" width="7.72" height="6.55" fill="#cfdaea"/>
<rect x="339.38" y="377.35" width="7.72" height="6.55" fill="#f2cbb7"/>
<rect x="346.80" y="377.35" width="37.39" height="6.55" fill="#cfdaea"/>
<rect x="383.89" y="377.35" width="7.72" height="6.55" fill="#dddcdc"/>
<rect x="391.31" y="377.35" width="7.72" height="6.55" fill="#cfdaea"/>
<rect x="398.73" y="377.35" width="29.97" height="6.55" fill="#c0d4f5"/>
<rect x="428.40" y="377.35" width="7.72" height="6.55" fill="#7b9ff9"/>
<rect x="435.82" y="377.35" width="7.72" height="6.55" fill="#cfdaea"/>
<rect x="443.24" y="377.35" width="15.14" height="6.55" fill="#dddcdc"/>
<rect x="458.07" y="377.35" width="7.72" height="6.55" fill="#9ebeff"/>
<rect x="465.49" y="377.35" width="7.72" height="6.55" fill="#c0d4f5"/>
<rect x="472.91" y="377.35" width="7.72" height="6.55" fill="#cfdaea"/>
<rect x="480.33" y="377.35" width="7.72" height="6.55" fill="#5977e3"/>
<rect x="487.75" y="377.35" width="7.72" height="6.55" fill="#8db0fe"/>
<rect x="495.16" y="377.35" width="15.14" height="6.55" fill="#f2cbb7"/>
<rect x="102.00" y="383.61" width="7.72" height="6.55" fill="#eed0c0"/>
<rect x="109.42" y="383.61" width="7.72" height="6.55" fill="#e3d9d3"/>
<rect x="116.84" y="383.61" width="7.72" height="6.55" fill="#c7d7f0"/>
<rect x="124.25" y="383.61" width="7.72" height="6.55" fill="#cfdaea"/>
<rect x="131.67" y="383.61" width="7.72" height="6.55" fill="#dddcdc"/>
<rect x="139.09" y="383.61" width="15.14" height="6.55" fill="#f6bda2"/>
<rect x="153.93" y="383.61" width="7.72" height="6.55" fill="#ee8468"/>
<rect x="161.35" y="383.61" width="7.72" height="6.55" fill="#b40426"/>
<rect x="168.76" y="383.61" width="7.72" height="6.55" fill="#f2cbb7"/>
<rect x="176.18" y="383.61" width="7.72" height="6.55" fill="#eed0c0"/>
<rect x="183.60" y="383.61" width="7.72" height="6.55" fill="#f6bda2"/>
<rect x="191.02" y="383.61" width="7.72" height="6.55" fill="#f2cbb7"/>
<rect x="198.44" y="383.61" width="15.14" height="6.55" fill="#e9d5cb"/>
<rect x="213.27" y="383.61" width="7.72" height="6.55" fill="#f2cbb7"/>
<rect x="220.69" y="383.61" width="15.14" height="6.55" fill="#f6bda2"/>
<rect x="235.53" y="383.61" width="7.72" height="6.55" fill="#f7ac8e"/>
<rect x="242.95" y="383.61" width="7.72" height="6.55" fill="#f2cbb7"/>
<rect x="250.36" y="383.61" width="22.55" height="6.55" fill="#f7ac8e"/>
<rect x="272.62" y="383.61" width="7.72" height="6.55" fill="#f6bda2"/>
<rect x="280.04" y="383.61" width="7.72" height="6.55" fill="#f7ac8e"/>
<rect x="287.45" y="383.61" width="7.72" height="6.55" fill="#f2cbb7"/>
<rect x="294.87" y="383.61" width="7.72" height="6.55" fill="#dddcdc"/>
<rect x="302.29" y="383.61" width="7.72" height="6.55" fill="#e9d5cb"/>
<rect x="309.71" y="383.61" width="37.39" height="6.55" fill="#f2cbb7"/>
<rect x="346.80" y="383.61" width="7.72" height="6.55" fill="#cfdaea"/>
<rect x="354.22" y="383.61" width="7.72" height="6.55" fill="#e9d5cb"/>
<rect x="361.64" y="383.61" width="7.72" height="6.55" fill="#f5c4ac"/>
<rect x="369.05" y="383.61" width="15.14" height="6.55" fill="#dddcdc"/>
<rect x="383.89" y="383.61" width="7.72" height="6.55" fill="#f2cbb7"/>
<rect x="391.31" y="383.61" width="7.72" height="6.55" fill="#dddcdc"/>
<rect x="398.73" y="383.61" width="29.97" height="6.55" fill="#cfdaea"/>
<rect x="428.40" y="383.61" width="7.72" height="6.55" fill="#c0d4f5"/>
<rect x="435.82" y="383.61" width="22.55" height="6.55" fill="#dddcdc"/>
<rect x="458.07" y="383.61" width="7.72" height="6.55" fill="#cfdaea"/>
<rect x="465.49" y="383.61" width="7.72" height="6.55" fill="#c0d4f5"/>
<rect x="472.91" y="383.61" width="7.72" height="6.55" fill="#7b9ff9"/>
<rect x="480.33" y="383.61" width="15.14" height="6.55" fill="#c0d4f5"/>
<rect x="495.16" y="383.61" width="7.72" height="6.55" fill="#dddcdc"/>
<rect x="502.58" y="383.61" width="7.72" height="6.55" fill="#cfdaea"/>
<rect x="102.00" y="389.86" width="7.72" height="6.55" fill="#eed0c0"/>
<rect x="109.42" y="389.86" width="7.72" height="6.55" fill="#d6dce4"/>
<rect x="116.84" y="389.86" width="7.72" height="6.55" fill="#b9d0f9"/>
<rect x="124.25" y="389.86" width="7.72" height="6.55" fill="#cfdaea"/>
<rect x="131.67" y="389.86" width="7.72" height="6.55" fill="#eed0c0"/>
<rect x="139.09" y="389.86" width="15.14" height="6.55" fill="#f4987a"/>
<rect x="153.93" y="389.86" width="7.72" height="6.55" fill="#b40426"/>
<rect x="161.35" y="389.86" width="7.72" height="6.55" fill="#ee8468"/>
<rect x="168.76" y="389.86" width="7.72" height="6.55" fill="#f7ac8e"/>
<rect x="176.18" y="389.86" width="7.72" height="6.55" fill="#eed0c0"/>
<rect x="183.60" y="389.86" width="7.72" height="6.55" fill="#f6bda2"/>
<rect x="191.02" y="389.86" width="7.72" height="6.55" fill="#f2cbb7"/>
<rect x="198.44" y="389.86" width="7.72" height="6.55" fill="#e9d5cb"/>
<rect x="205.85" y="389.86" width="7.72" height="6.55" fill="#dddcdc"/>
<rect x="213.27" y="389.86" width="7.72" height="6.55" fill="#e9d5cb"/>
<rect x="220.69" y="389.86" width="15.14" height="6.55" fill="#f2cbb7"/>
<rect x="235.53" y="389.86" width="7.72" height="6.55" fill="#e9d5cb"/>
<rect x="242.95" y="389.86" width="7.72" height="6.55" fill="#dddcdc"/>
<rect x="250.36" y="389.86" width="37.39" height="6.55" fill="#e9d5cb"/>
<rect x="287.45" y="389.86" width="7.72" height="6.55" fill="#dddcdc"/>
<rect x="294.87" y="389.86" width="7.72" height="6.55" fill="#cfdaea"/>
<rect x="302.29" y="389.86" width="15.14" height="6.55" fill="#e9d5cb"/>
<rect x="317.13" y="389.86" width="22.55" height="6.55" fill="#dddcdc"/>
<rect x="339.38" y="389.86" width="7.72" height="6.55" fill="#e9d5cb"/>
<rect x="346.80" y="389.86" width="7.72" height="6.55" fill="#cfdaea"/>
<rect x="354.22" y="389.86" width="7.72" height="6.55" fill="#e9d5cb"/>
<rect x="361.64" y="389.86" width="7.72" height="6.55" fill="#f5c4ac"/>
<rect x="369.05" y="389.86" width="15.14" height="6.55" fill="#dddcdc"/>
<rect x="383.89" y="389.86" width="7.72" height="6.55" fill="#f2cbb7"/>
<rect x="391.31" y="389.86" width="7.72" height="6.55" fill="#e9d5cb"/>
<rect x="398.73" y="389.86" width="29.97" height="6.55" fill="#cfdaea"/>
<rect x="428.40" y="389.86" width="7.72" height="6.55" fill="#afcafc"/>
<rect x="435.82" y="389.86" width="7.72" height="6.55" fill="#dddcdc"/>
<rect x="443.24" y="389.86" width="15.14" height="6.55" fill="#e9d5cb"/>
<rect x="458.07" y="389.86" width="15.14" height="6.55" fill="#c0d4f5"/>
<rect x="472.91" y="389.86" width="15.14" height="6.55" fill="#9ebeff"/>
<rect x="487.75" y="389.86" width="7.72" height="6.55" fill="#afcafc"/>
<rect x="495.16" y="389.86" width="7.72" height="6.55" fill="#dddcdc"/>
<rect x="502.58" y="389.86" width="7.72" height="6.55" fill="#cfdaea"/>
<rect x="102.00" y="396.12" width="7.72" height="6.55" fill="#eed0c0"/>
<rect x="109.42" y="396.12" width="15.14" height="6.55" fill="#dddcdc"/>
<rect x="124.25" y="396.12" width="7.72" height="6.55" fill="#d6dce4"/>
<rect x="131.67" y="396.12" width="7.72" height="6.55" fill="#f6bda2"/>
<rect x="139.09" y="396.12" width="7.72" height="6.55" fill="#e36c55"/>
<rect x="146.51" y="396.12" width="7.72" height="6.55" fill="#b40426"/>
<rect x="153.93" y="396.12" width="7.72" height="6.55" fill="#f4987a"/>
<rect x="161.35" y="396.12" width="15.14" height="6.55" fill="#f6bda2"/>
<rect x="176.18" y="396.12" width="7.72" height="6.55" fill="#e9d5cb"/>
<rect x="183.60" y="396.12" width="22.55" height="6.55" fill="#f2cbb7"/>
<rect x="205.85" y="396.12" width="7.72" height="6.55" fill="#dddcdc"/>
<rect x="213.27" y="396.12" width="7.72" height="6.55" fill="#e9d5cb"/>
<rect x="220.69" y="396.12" width="7.72" height="6.55" fill="#dddcdc"/>
<rect x="228.11" y="396.12" width="7.72" height="6.55" fill="#cfdaea"/>
<rect x="235.53" y="396.12" width="15.14" height="6.55" fill="#c0d4f5"/>
<rect x="250.36" y="396.12" width="22.55" height="6.55" fill="#dddcdc"/>
<rect x="272.62" y="396.12" width="7.72" height="6.55" fill="#f2cbb7"/>
<rect x="280.04" y="396.12" width="15.14" height="6.55" fill="#dddcdc"/>
<rect x="294.87" y="396.12" width="7.72" height="6.55" fill="#cfdaea"/>
<rect x="302.29" y="396.12" width="15.14" height="6.55" fill="#e9d5cb"/>
<rect x="317.13" y="396.12" width="7.72" height="6.55" fill="#dddcdc"/>
<rect x="324.55" y="396.12" width="15.14" height="6.55" fill="#cfdaea"/>
<rect x="339.38" y="396.12" width="7.72" height="6.55" fill="#e9d5cb"/>
<rect x="346.80" y="396.12" width="7.72" height="6.55" fill="#cfdaea"/>
<rect x="354.22" y="396.12" width="7.72" height="6.55" fill="#dddcdc"/>
<rect x="361.64" y="396.12" width="7.72" height="6.55" fill="#f2cbb7"/>
<rect x="369.05" y="396.12" width="7.72" height="6.55" fill="#dddcdc"/>
<rect x="376.47" y="396.12" width="7.72" height="6.55" fill="#e9d5cb"/>
<rect x="383.89" y="396.12" width="7.72" height="6.55" fill="#f2cbb7"/>
<rect x="391.31" y="396.12" width="37.39" height="6.55" fill="#e9d5cb"/>
<rect x="428.40" y="396.12" width="7.72" height="6.55" fill="#dddcdc"/>
<rect x="435.82" y="396.12" width="22.55" height="6.55" fill="#f6bda2"/>
<rect x="458.07" y="396.12" width="7.72" height="6.55" fill="#cfdaea"/>
<rect x="465.49" y="396.12" width="7.72" height="6.55" fill="#f2cbb7"/>
<rect x="472.91" y="396.12" width="22.55" height="6.55" fill="#afcafc"/>
<rect x="495.16" y="396.12" width="7.72" height="6.55" fill="#dddcdc"/>
<rect x="502.58" y="396.12" width="7.72" height="6.55" fill="#cfdaea"/>
<rect x="102.00" y="402.37" width="7.72" height="6.55" fill="#eed0c0"/>
<rect x="109.42" y="402.37" width="7.72" height="6.55" fill="#dddcdc"/>
<rect x="116.84" y="402.37" width="7.72" height="6.55" fill="#e3d9d3"/>
<rect x="124.25" y="402.37" width="7.72" height="6.55" fill="#dddcdc"/>
<rect x="131.67" y="402.37" width="7.72" height="6.55" fill="#f7b599"/>
<rect x="139.09" y="402.37" width="7.72" height="6.55" fill="#b40426"/>
<rect x="146.51" y="402.37" width="7.72" height="6.55" fill="#e36c55"/>
<rect x="153.93" y="402.37" width="7.72" height="6.55" fill="#f4987a"/>
<rect x="161.35" y="402.37" width="15.14" height="6.55" fill="#f6bda2"/>
<rect x="176.18" y="402.37" width="7.72" height="6.55" fill="#eed0c0"/>
<rect x="183.60" y="402.37" width="15.14" height="6.55" fill="#f2cbb7"/>
<rect x="198.44" y="402.37" width="7.72" height="6.55" fill="#f6bda2"/>
<rect x="205.85" y="402.37" width="22.55" height="6.55" fill="#e9d5cb"/>
<rect x="228.11" y="402.37" width="7.72" height="6.55" fill="#cfdaea"/>
<rect x="235.53" y="402.37" width="15.14" height="6.55" fill="#c0d4f5"/>
<rect x="250.36" y="402.37" width="22.55" height="6.55" fill="#dddcdc"/>
<rect x="272.62" y="402.37" width="7.72" height="6.55" fill="#e9d5cb"/>
<rect x="280.04" y="402.37" width="7.72" height="6.55" fill="#dddcdc"/>
<rect x="287.45" y="402.37" width="7.72" height="6.55" fill="#cfdaea"/>
<rect x="294.87" y="402.37" width="7.72" height="6.55" fill="#c0d4f5"/>
<rect x="302.29" y="402.37" width="15.14" height="6.55" fill="#cfdaea"/>
<rect x="317.13" y="402.37" width="22.55" height="6.55" fill="#afcafc"/>
<rect x="339.38" y="402.37" width="7.72" height="6.55" fill="#c0d4f5"/>
<rect x="346.80" y="402.37" width="7.72" height="6.55" fill="#afcafc"/>
<rect x="354.22" y="402.37" width="7.72" height="6.55" fill="#c0d4f5"/>
<rect x="361.64" y="402.37" width="7.72" height="6.55" fill="#cfdaea"/>
<rect x="369.05" y="402.37" width="7.72" height="6.55" fill="#c0d4f5"/>
<rect x="376.47" y="402.37" width="7.72" height="6.55" fill="#cfdaea"/>
<rect x="383.89" y="402.37" width="52.23" height="6.55" fill="#c0d4f5"/>
<rect x="435.82" y="402.37" width="15.14" height="6.55" fill="#dddcdc"/>
<rect x="450.65" y="402.37" width="7.72" height="6.55" fill="#e9d5cb"/>
<rect x="458.07" y="402.37" width="7.72" height="6.55" fill="#c0d4f5"/>
<rect x="465.49" y="402.37" width="7.72" height="6.55" fill="#cfdaea"/>
<rect x="472.91" y="402.37" width="22.55" height="6.55" fill="#afcafc"/>
<rect x="495.16" y="402.37" width="7.72" height="6.55" fill="#dddcdc"/>
<rect x="502.58" y="402.37" width="7.72" height="6.55" fill="#cfdaea"/>
<rect x="102.00" y="408.63" width="15.14" height="6.55" fill="#eed0c0"/>
<rect x="116.84" y="408.63" width="7.72" height="6.55" fill="#f2cbb7"/>
<rect x="124.25" y="408.63" width="7.72" height="6.55" fill="#e9d5cb"/>
<rect x="131.67" y="408.63" width="7.72" height="6.55" fill="#b40426"/>
<rect x="139.09" y="408.63" width="7.72" height="6.55" fill="#f7b599"/>
<rect x="146.51" y="408.63" width="7.72" height="6.55" fill="#f6bda2"/>
<rect x="153.93" y="408.63" width="7.72" height="6.55" fill="#eed0c0"/>
<rect x="161.35" y="408.63" width="7.72" height="6.55" fill="#dddcdc"/>
<rect x="168.76" y="408.63" width="7.72" height="6.55" fill="#f6bda2"/>
<rect x="176.18" y="408.63" width="7.72" height="6.55" fill="#e9d5cb"/>
<rect x="183.60" y="408.63" width="15.14" height="6.55" fill="#f6bda2"/>
<rect x="198.44" y="408.63" width="7.72" height="6.55" fill="#f7ac8e"/>
<rect x="205.85" y="408.63" width="7.72" height="6.55" fill="#f2cbb7"/>
<rect x="213.27" y="408.63" width="15.14" height="6.55" fill="#dddcdc"/>
<rect x="228.11" y="408.63" width="7.72" height="6.55" fill="#c0d4f5"/>
<rect x="235.53" y="408.63" width="15.14" height="6.55" fill="#9ebeff"/>
<rect x="250.36" y="408.63" width="22.55" height="6.55" fill="#dddcdc"/>
<rect x="272.62" y="408.63" width="7.72" height="6.55" fill="#e9d5cb"/>
<rect x="280.04" y="408.63" width="7.72" height="6.55" fill="#dddcdc"/>
<rect x="287.45" y="408.63" width="7.72" height="6.55" fill="#cfdaea"/>
<rect x="294.87" y="408.63" width="7.72" height="6.55" fill="#9ebeff"/>
<rect x="302.29" y="408.63" width="7.72" height="6.55" fill="#c0d4f5"/>
<rect x="309.71" y="408.63" width="7.72" height="6.55" fill="#cfdaea"/>
<rect x="317.13" y="408.63" width="7.72" height="6.55" fill="#9ebeff"/>
<rect x="324.55" y="408.63" width="7.72" height="6.55" fill="#8db0fe"/>
<rect x="331.96" y="408.63" width="7.72" height="6.55" fill="#9ebeff"/>
<rect x="339.38" y="408.63" width="7.72" height="6.55" fill="#c0d4f5"/>
<rect x="346.80" y="408.63" width="29.97" height="6.55" fill="#afcafc"/>
<rect x="376.47" y="408.63" width="59.65" height="6.55" fill="#c0d4f5"/>
<rect x="435.82" y="408.63" width="15.14" height="6.55" fill="#dddcdc"/>
<rect x="450.65" y="408.63" width="7.72" height="6.55" fill="#f2cbb7"/>
<rect x="458.07" y="408.63" width="7.72" height="6.55" fill="#c0d4f5"/>
<rect x="465.49" y="408.63" width="15.14" height="6.55" fill="#cfdaea"/>
<rect x="480.33" y="408.63" width="7.72" height="6.55" fill="#8db0fe"/>
<rect x="487.75" y="408.63" width="7.72" height="6.55" fill="#afcafc"/>
<rect x="495.16" y="408.63" width="7.72" height="6.55" fill="#dddcdc"/>
<rect x="502.58" y="408.63" width="7.72" height="6.55" fill="#cfdaea"/>
<rect x="102.00" y="414.88" width="15.14" height="6.55" fill="#f5c4ac"/>
<rect x="116.84" y="414.88" width="7.72" height="6.55" fill="#f2cbb7"/>
<rect x="124.25" y="414.88" width="7.72" height="6.55" fill="#b40426"/>
<rect x="131.67" y="414.88" width="7.72" height="6.55" fill="#e9d5cb"/>
<rect x="139.09" y="414.88" width="7.72" height="6.55" fill="#dddcdc"/>
<rect x="146.51" y="414.88" width="7.72" height="6.55" fill="#d6dce4"/>
<rect x="153.93" y="414.88" width="22.55" height="6.55" fill="#cfdaea"/>
<rect x="176.18" y="414.88" width="7.72" height="6.55" fill="#dddcdc"/>
<rect x="183.60" y="414.88" width="15.14" height="6.55" fill="#f2cbb7"/>
<rect x="198.44" y="414.88" width="7.72" height="6.55" fill="#f6bda2"/>
<rect x="205.85" y="414.88" width="7.72" height="6.55" fill="#cfdaea"/>
<rect x="213.27" y="414.88" width="7.72" height="6.55" fill="#9ebeff"/>
<rect x="220.69" y="414.88" width="7.72" height="6.55" fill="#c0d4f5"/>
<rect x="228.11" y="414.88" width="7.72" height="6.55" fill="#9ebeff"/>
<rect x="235.53" y="414.88" width="7.72" height="6.55" fill="#c0d4f5"/>
<rect x="242.95" y="414.88" width="7.72" height="6.55" fill="#cfdaea"/>
<rect x="250.36" y="414.88" width="15.14" height="6.55" fill="#e9d5cb"/>
<rect x="265.20" y="414.88" width="22.55" height="6.55" fill="#f2cbb7"/>
<rect x="287.45" y="414.88" width="7.72" height="6.55" fill="#dddcdc"/>
<rect x="294.87" y="414.88" width="7.72" height="6.55" fill="#c0d4f5"/>
<rect x="302.29" y="414.88" width="15.14" height="6.55" fill="#cfdaea"/>
<rect x="317.13" y="414.88" width="15.14" height="6.55" fill="#afcafc"/>
<rect x="331.96" y="414.88" width="7.72" height="6.55" fill="#c0d4f5"/>
<rect x="339.38" y="414.88" width="7.72" height="6.55" fill="#9ebeff"/>
<rect x="346.80" y="414.88" width="7.72" height="6.55" fill="#afcafc"/>
<rect x="354.22" y="414.88" width="22.55" height="6.55" fill="#9ebeff"/>
<rect x="376.47" y="414.88" width="52.23" height="6.55" fill="#afcafc"/>
<rect x="428.40" y="414.88" width="7.72" height="6.55" fill="#dddcdc"/>
<rect x="435.82" y="414.88" width="15.14" height="6.55" fill="#c0d4f5"/>
<rect x="450.65" y="414.88" width="15.14" height="6.55" fill="#dddcdc"/>
<rect x="465.49" y="414.88" width="15.14" height="6.55" fill="#cfdaea"/>
<rect x="480.33" y="414.88" width="7.72" height="6.55" fill="#c0d4f5"/>
<rect x="487.75" y="414.88" width="7.72" height="6.55" fill="#cfdaea"/>
<rect x="495.16" y="414.88" width="7.72" height="6.55" fill="#afcafc"/>
<rect x="502.58" y="414.88" width="7.72" height="6.55" fill="#8db0fe"/>
<rect x="102.00" y="421.14" width="7.72" height="6.55" fill="#f5c4ac"/>
<rect x="109.42" y="421.14" width="7.72" height="6.55" fill="#f2cbb7"/>
<rect x="116.84" y="421.14" width="7.72" height="6.55" fill="#b40426"/>
<rect x="124.25" y="421.14" width="15.14" height="6.55" fill="#f2cbb7"/>
<rect x="139.09" y="421.14" width="7.72" height="6.55" fill="#e3d9d3"/>
<rect x="146.51" y="421.14" width="7.72" height="6.55" fill="#dddcdc"/>
<rect x="153.93" y="421.14" width="7.72" height="6.55" fill="#b9d0f9"/>
<rect x="161.35" y="421.14" width="7.72" height="6.55" fill="#c7d7f0"/>
<rect x="168.76" y="421.14" width="7.72" height="6.55" fill="#96b7ff"/>
<rect x="176.18" y="421.14" width="7.72" height="6.55" fill="#c7d7f0"/>
<rect x="183.60" y="421.14" width="7.72" height="6.55" fill="#c0d4f5"/>
<rect x="191.02" y="421.14" width="7.72" height="6.55" fill="#f2cbb7"/>
<rect x="198.44" y="421.14" width="7.72" height="6.55" fill="#f6bda2"/>
<rect x="205.85" y="421.14" width="7.72" height="6.55" fill="#dddcdc"/>
<rect x="213.27" y="421.14" width="15.14" height="6.55" fill="#c0d4f5"/>
<rect x="228.11" y="421.14" width="7.72" height="6.55" fill="#8db0fe"/>
<rect x="235.53" y="421.14" width="7.72" height="6.55" fill="#9ebeff"/>
<rect x="242.95" y="421.14" width="22.55" height="6.55" fill="#c0d4f5"/>
<rect x="265.20" y="421.14" width="7.72" height="6.55" fill="#cfdaea"/>
<rect x="272.62" y="421.14" width="7.72" height="6.55" fill="#f2cbb7"/>
<rect x="280.04" y="421.14" width="15.14" height="6.55" fill="#dddcdc"/>
<rect x="294.87" y="421.14" width="7.72" height="6.55" fill="#c0d4f5"/>
<rect x="302.29" y="421.14" width="15.14" height="6.55" fill="#dddcdc"/>
<rect x="317.13" y="421.14" width="74.48" height="6.55" fill="#afcafc"/>
<rect x="391.31" y="421.14" width="29.97" height="6.55" fill="#cfdaea"/>
<rect x="420.98" y="421.14" width="7.72" height="6.55" fill="#c0d4f5"/>
<rect x="428.40" y="421.14" width="7.72" height="6.55" fill="#f4987a"/>
<rect x="435.82" y="421.14" width="7.72" height="6.55" fill="#e9d5cb"/>
<rect x="443.24" y="421.14" width="7.72" height="6.55" fill="#dddcdc"/>
<rect x="450.65" y="421.14" width="7.72" height="6.55" fill="#f2cbb7"/>
<rect x="458.07" y="421.14" width="7.72" height="6.55" fill="#f6bda2"/>
<rect x="465.49" y="421.14" width="29.97" height="6.55" fill="#e9d5cb"/>
<rect x="495.16" y="421.14" width="7.72" height="6.55" fill="#cfdaea"/>
<rect x="502.58" y="421.14" width="7.72" height="6.55" fill="#afcafc"/>
<rect x="102.00" y="427.39" width="7.72" height="6.55" fill="#f4987a"/>
<rect x="109.42" y="427.39" width="7.72" height="6.55" fill="#b40426"/>
<rect x="116.84" y="427.39" width="7.72" height="6.55" fill="#f2cbb7"/>
<rect x="124.25" y="427.39" width="7.72" height="6.55" fill="#f5c4ac"/>
<rect x="131.67" y="427.39" width="7.72" height="6.55" fill="#eed0c0"/>
<rect x="139.09" y="427.39" width="15.14" height="6.55" fill="#dddcdc"/>
<rect x="153.93" y="427.39" width="7.72" height="6.55" fill="#d6dce4"/>
<rect x="161.35" y="427.39" width="7.72" height="6.55" fill="#e3d9d3"/>
<rect x="168.76" y="427.39" width="7.72" height="6.55" fill="#c7d7f0"/>
<rect x="176.18" y="427.39" width="7.72" height="6.55" fill="#dddcdc"/>
<rect x="183.60" y="427.39" width="15.14" height="6.55" fill="#f2cbb7"/>
<rect x="198.44" y="427.39" width="7.72" height="6.55" fill="#f6bda2"/>
<rect x="205.85" y="427.39" width="15.14" height="6.55" fill="#9ebeff"/>
<rect x="220.69" y="427.39" width="7.72" height="6.55" fill="#c0d4f5"/>
<rect x="228.11" y="427.39" width="7.72" height="6.55" fill="#8db0fe"/>
<rect x="235.53" y="427.39" width="15.14" height="6.55" fill="#cfdaea"/>
<rect x="250.36" y="427.39" width="7.72" height="6.55" fill="#f2cbb7"/>
<rect x="257.78" y="427.39" width="29.97" height="6.55" fill="#f6bda2"/>
<rect x="287.45" y="427.39" width="7.72" height="6.55" fill="#f2cbb7"/>
<rect x="294.87" y="427.39" width="7.72" height="6.55" fill="#e9d5cb"/>
<rect x="302.29" y="427.39" width="15.14" height="6.55" fill="#f6bda2"/>
<rect x="317.13" y="427.39" width="15.14" height="6.55" fill="#dddcdc"/>
<rect x="331.96" y="427.39" width="7.72" height="6.55" fill="#e9d5cb"/>
<rect x="339.38" y="427.39" width="22.55" height="6.55" fill="#cfdaea"/>
<rect x="361.64" y="427.39" width="15.14" height="6.55" fill="#dddcdc"/>
<rect x="376.47" y="427.39" width="7.72" height="6.55" fill="#e9d5cb"/>
<rect x="383.89" y="427.39" width="7.72" height="6.55" fill="#dddcdc"/>
<rect x="391.31" y="427.39" width="7.72" height="6.55" fill="#c0d4f5"/>
<rect x="398.73" y="427.39" width="15.14" height="6.55" fill="#dddcdc"/>
<rect x="413.56" y="427.39" width="7.72" height="6.55" fill="#e9d5cb"/>
<rect x="420.98" y="427.39" width="7.72" height="6.55" fill="#cfdaea"/>
<rect x="428.40" y="427.39" width="7.72" height="6.55" fill="#f2cbb7"/>
<rect x="435.82" y="427.39" width="15.14" height="6.55" fill="#e9d5cb"/>
<rect x="450.65" y="427.39" width="15.14" height="6.55" fill="#f2cbb7"/>
<rect x="465.49" y="427.39" width="7.72" height="6.55" fill="#dddcdc"/>
<rect x="472.91" y="427.39" width="7.72" height="6.55" fill="#cfdaea"/>
<rect x="480.33" y="427.39" width="15.14" height="6.55" fill="#c0d4f5"/>
<rect x="495.16" y="427.39" width="7.72" height="6.55" fill="#afcafc"/>
<rect x="502.58" y="427.39" width="7.72" height="6.55" fill="#5977e3"/>
<rect x="102.00" y="433.65" width="7.72" height="6.55" fill="#b40426"/>
<rect x="109.42" y="433.65" width="7.72" height="6.55" fill="#f4987a"/>
<rect x="116.84" y="433.65" width="15.14" height="6.55" fill="#f5c4ac"/>
<rect x="131.67" y="433.65" width="37.39" height="6.55" fill="#eed0c0"/>
<rect x="168.76" y="433.65" width="7.72" height="6.55" fill="#dddcdc"/>
<rect x="176.18" y="433.65" width="7.72" height="6.55" fill="#eed0c0"/>
<rect x="183.60" y="433.65" width="22.55" height="6.55" fill="#f7ac8e"/>
<rect x="205.85" y="433.65" width="7.72" height="6.55" fill="#f2cbb7"/>
<rect x="213.27" y="433.65" width="7.72" height="6.55" fill="#e9d5cb"/>
<rect x="220.69" y="433.65" width="7.72" height="6.55" fill="#dddcdc"/>
<rect x="228.11" y="433.65" width="7.72" height="6.55" fill="#8db0fe"/>
<rect x="235.53" y="433.65" width="15.14" height="6.55" fill="#e9d5cb"/>
<rect x="250.36" y="433.65" width="7.72" height="6.55" fill="#f6bda2"/>
<rect x="257.78" y="433.65" width="7.72" height="6.55" fill="#f7ac8e"/>
<rect x="265.20" y="433.65" width="7.72" height="6.55" fill="#ee8468"/>
<rect x="272.62" y="433.65" width="7.72" height="6.55" fill="#f7ac8e"/>
<rect x="280.04" y="433.65" width="7.72" height="6.55" fill="#ee8468"/>
<rect x="287.45" y="433.65" width="7.72" height="6.55" fill="#f7ac8e"/>
<rect x="294.87" y="433.65" width="7.72" height="6.55" fill="#f2cbb7"/>
<rect x="302.29" y="433.65" width="15.14" height="6.55" fill="#f7ac8e"/>
<rect x="317.13" y="433.65" width="15.14" height="6.55" fill="#cfdaea"/>
<rect x="331.96" y="433.65" width="7.72" height="6.55" fill="#dddcdc"/>
<rect x="339.38" y="433.65" width="7.72" height="6.55" fill="#cfdaea"/>
<rect x="346.80" y="433.65" width="7.72" height="6.55" fill="#afcafc"/>
<rect x="354.22" y="433.65" width="7.72" height="6.55" fill="#a7c5fe"/>
<rect x="361.64" y="433.65" width="7.72" height="6.55" fill="#c0d4f5"/>
<rect x="369.05" y="433.65" width="7.72" height="6.55" fill="#afcafc"/>
<rect x="376.47" y="433.65" width="7.72" height="6.55" fill="#c0d4f5"/>
<rect x="383.89" y="433.65" width="7.72" height="6.55" fill="#cfdaea"/>
<rect x="391.31" y="433.65" width="7.72" height="6.55" fill="#c0d4f5"/>
<rect x="398.73" y="433.65" width="22.55" height="6.55" fill="#cfdaea"/>
<rect x="420.98" y="433.65" width="7.72" height="6.55" fill="#c0d4f5"/>
<rect x="428.40" y="433.65" width="22.55" height="6.55" fill="#dddcdc"/>
<rect x="450.65" y="433.65" width="7.72" height="6.55" fill="#f2cbb7"/>
<rect x="458.07" y="433.65" width="7.72" height="6.55" fill="#e9d5cb"/>
<rect x="465.49" y="433.65" width="7.72" height="6.55" fill="#cfdaea"/>
<rect x="472.91" y="433.65" width="7.72" height="6.55" fill="#c0d4f5"/>
<rect x="480.33" y="433.65" width="7.72" height="6.55" fill="#afcafc"/>
<rect x="487.75" y="433.65" width="7.72" height="6.55" fill="#c0d4f5"/>
<rect x="495.16" y="433.65" width="7.72" height="6.55" fill="#afcafc"/>
<rect x="502.58" y="433.65" width="7.72" height="6.55" fill="#5977e3"/>
<rect x="510.00" y="95.90" width="58.50" height="6.55" fill="#add8e6"/>
<rect x="510.00" y="102.15" width="58.50" height="6.55" fill="#000080"/>
<rect x="510.00" y="108.41" width="58.50" height="6.55" fill="#000080"/>
<rect x="510.00" y="114.66" width="58.50" height="6.55" fill="#0000ff"/>
<rect x="510.00" y="120.92" width="58.50" height="6.55" fill="#a020f0"/>
<rect x="510.00" y="127.17" width="58.50" height="6.55" fill="#a020f0"/>
<rect x="510.00" y="133.43" width="58.50" height="6.55" fill="#a020f0"/>
<rect x="510.00" y="139.68" width="58.50" height="6.55" fill="#333333"/>
<rect x="510.00" y="145.94" width="58.50" height="6.55" fill="#333333"/>
<rect x="510.00" y="152.19" width="58.50" height="6.55" fill="#ffff00"/>
<rect x="510.00" y="158.45" width="58.50" height="6.55" fill="#ffa500"/>
<rect x="510.00" y="164.70" width="58.50" height="6.55" fill="#a020f0"/>
<rect x="510.00" y="170.95" width="58.50" height="6.55" fill="#a020f0"/>
<rect x="510.00" y="177.21" width="58.50" height="6.55" fill="#a020f0"/>
<rect x="510.00" y="183.46" width="58.50" height="6.55" fill="#a020f0"/>
<rect x="510.00" y="189.72" width="58.50" height="6.55" fill="#a020f0"/>
<rect x="510.00" y="195.97" width="58.50" height="6.55" fill="#ffa500"/>
<rect x="510.00" y="202.23" width="58.50" height="6.55" fill="#006400"/>
<rect x="510.00" y="208.48" width="58.50" height="6.55" fill="#a0a0a0"/>
<rect x="510.00" y="214.74" width="58.50" height="6.55" fill="#006400"/>
<rect x="510.00" y="220.99" width="58.50" height="6.55" fill="#006400"/>
<rect x="510.00" y="227.25" width="58.50" height="6.55" fill="#696969"/>
<rect x="510.00" y="233.50" width="58.50" height="6.55" fill="#ffa500"/>
<rect x="510.00" y="239.75" width="58.50" height="6.55" fill="#d3d3d3"/>
<rect x="510.00" y="246.01" width="58.50" height="6.55" fill="#006400"/>
<rect x="510.00" y="252.26" width="58.50" height="6.55" fill="#006400"/>
<rect x="510.00" y="258.52" width="58.50" height="6.55" fill="#ffa500"/>
<rect x="510.00" y="264.77" width="58.50" height="6.55" fill="#ffa500"/>
<rect x="510.00" y="271.03" width="58.50" height="6.55" fill="#ffff00"/>
<rect x="510.00" y="277.28" width="58.50" height="6.55" fill="#ffff00"/>
<rect x="510.00" y="283.54" width="58.50" height="6.55" fill="#add8e6"/>
<rect x="510.00" y="289.79" width="58.50" height="6.55" fill="#ffff00"/>
<rect x="510.00" y="296.05" width="58.50" height="6.55" fill="#ff0000"/>
<rect x="510.00" y="302.30" width="58.50" height="6.55" fill="#0000ff"/>
<rect x="510.00" y="308.55" width="58.50" height="6.55" fill="#ff0000"/>
<rect x="510.00" y="314.81" width="58.50" height="6.55" fill="#ff0000"/>
<rect x="510.00" y="321.06" width="58.50" height="6.55" fill="#0000ff"/>
<rect x="510.00" y="327.32" width="58.50" height="6.55" fill="#add8e6"/>
<rect x="510.00" y="333.57" width="58.50" height="6.55" fill="#ff0000"/>
<rect x="510.00" y="339.83" width="58.50" height="6.55" fill="#ffff00"/>
<rect x="510.00" y="346.08" width="58.50" height="6.55" fill="#ff0000"/>
<rect x="510.00" y="352.34" width="58.50" height="6.55" fill="#0000ff"/>
<rect x="510.00" y="358.59" width="58.50" height="6.55" fill="#0000ff"/>
<rect x="510.00" y="364.85" width="58.50" height="6.55" fill="#0000ff"/>
<rect x="510.00" y="371.10" width="58.50" height="6.55" fill="#000080"/>
<rect x="510.00" y="377.35" width="58.50" height="6.55" fill="#0000ff"/>
<rect x="510.00" y="383.61" width="58.50" height="6.55" fill="#0000ff"/>
<rect x="510.00" y="389.86" width="58.50" height="6.55" fill="#add8e6"/>
<rect x="510.00" y="396.12" width="58.50" height="6.55" fill="#ffff00"/>
<rect x="510.00" y="402.37" width="58.50" height="6.55" fill="#ff0000"/>
<rect x="510.00" y="408.63" width="58.50" height="6.55" fill="#ff0000"/>
<rect x="510.00" y="414.88" width="58.50" height="6.55" fill="#000080"/>
<rect x="510.00" y="421.14" width="58.50" height="6.55" fill="#ff0000"/>
<rect x="510.00" y="427.39" width="58.50" height="6.55" fill="#a020f0"/>
<rect x="510.00" y="433.65" width="58.50" height="6.55" fill="#ff0000"/>
</g>
<path d="M105.71 95.90V76.80H113.13V95.90M120.55 95.90V74.70H127.96V95.90M109.42 76.80V64.20H124.25V74.70M142.80 95.90V81.10H150.22V95.90M135.38 95.90V69.10H146.51V81.10M116.84 64.20V58.10H140.95V69.10M157.64 95.90V81.10H165.05V95.90M179.89 95.90V78.70H187.31V95.90M172.47 95.90V73.90H183.60V78.70M161.35 81.10V69.40H178.04V73.90M194.73 95.90V75.80H202.15V95.90M198.44 75.80V63.90H209.56V95.90M169.69 69.40V55.60H204.00V63.90M128.89 58.10V46.90H186.85V55.60M224.40 95.90V80.80H231.82V95.90M239.24 95.90V85.60H246.65V95.90M228.11 80.80V71.80H242.95V85.60M216.98 95.90V63.10H235.53V71.80M254.07 95.90V87.20H261.49V95.90M257.78 87.20V83.80H268.91V95.90M276.33 95.90V76.60H283.75V95.90M263.35 83.80V67.80H280.04V76.60M226.25 63.10V53.80H271.69V67.80M157.87 46.90V36.60H248.97V53.80M291.16 95.90V80.80H298.58V95.90M306.00 95.90V85.10H313.42V95.90M294.87 80.80V71.80H309.71V85.10M320.84 95.90V87.50H328.25V95.90M324.55 87.50V79.80H335.67V95.90M330.11 79.80V70.30H343.09V95.90M302.29 71.80V63.80H336.60V70.30M365.35 95.90V89.90H372.76V95.90M369.05 89.90V84.80H380.18V95.90M357.93 95.90V81.10H374.62V84.80M350.51 95.90V73.90H366.27V81.10M387.60 95.90V87.50H395.02V95.90M409.85 95.90V92.00H417.27V95.90M402.44 95.90V87.60H413.56V92.00M408.00 87.60V80.20H424.69V95.90M391.31 87.50V77.10H416.35V80.20M358.39 73.90V70.80H403.83V77.10M319.45 63.80V47.50H381.11V70.80M439.53 95.90V80.60H446.95V95.90M443.24 80.60V75.70H454.36V95.90M432.11 95.90V68.00H448.80V75.70M469.20 95.90V77.60H476.62V95.90M461.78 95.90V73.60H472.91V77.60M484.04 95.90V83.70H491.45V95.90M467.35 73.60V66.60H487.75V83.70M440.45 68.00V52.90H477.55V66.60M498.87 95.90V75.70H506.29V95.90M459.00 52.90V42.00H502.58V75.70M350.28 47.50V29.60H480.79V42.00M203.42 36.60V10.30H415.53V29.60" fill="none" stroke="#000" stroke-width="1.5" stroke-linejoin="miter" stroke-linecap="square"/>
<path d="M568.50 99.03H595.50V105.28H568.50M568.50 111.54H585.10V117.79H568.50M568.50 124.05H593.60V130.30H568.50M593.60 127.17H598.70V136.55H568.50M585.10 114.66H607.90V131.86H598.70M568.50 149.06H589.60V155.32H568.50M568.50 142.81H595.50V152.19H589.60M595.50 147.50H606.00V161.57H568.50M607.90 123.26H626.90V154.54H606.00M595.50 102.15H641.00V138.90H626.90" fill="none" stroke="#ACA4E2" stroke-width="1.3"/>
<path d="M568.50 174.08H574.20V180.34H568.50M574.20 177.21H579.20V186.59H568.50M568.50 167.83H589.60V181.90H579.20M568.50 192.85H580.60V199.10H568.50M589.60 174.86H593.40V195.97H580.60M568.50 211.61H577.30V217.86H568.50M568.50 205.35H583.40V214.74H577.30M583.40 210.05H588.50V224.12H568.50M588.50 217.08H598.70V230.37H568.50M593.40 185.42H603.00V223.73H598.70M568.50 249.14H580.40V255.39H568.50M568.50 242.88H590.20V252.26H580.40M568.50 236.63H603.10V247.57H590.20M568.50 261.65H583.40V267.90H568.50M568.50 274.15H589.60V280.41H568.50M583.40 264.77H601.30V277.28H589.60M603.10 242.10H612.80V271.03H601.30M603.00 204.57H634.00V256.56H612.80" fill="none" stroke="#39BEB1" stroke-width="1.3"/>
<path d="M568.50 286.66H595.50V292.92H568.50M568.50 305.43H580.40V311.68H568.50M568.50 299.17H585.50V308.55H580.40M595.50 289.79H607.00V303.86H585.50M568.50 317.94H582.90V324.19H568.50M568.50 330.45H589.90V336.70H568.50M582.90 321.06H601.30V333.57H589.90M601.30 327.32H612.80V342.95H568.50M607.00 296.83H625.70V335.14H612.80" fill="none" stroke="#ABB065" stroke-width="1.3"/>
<path d="M568.50 355.46H595.00V361.72H568.50M568.50 349.21H611.80V358.59H595.00M568.50 367.97H591.80V374.23H568.50M591.80 371.10H598.70V380.48H568.50M568.50 386.74H588.90V392.99H568.50M598.70 375.79H604.20V389.86H588.90M611.80 353.90H623.10V382.83H604.20M568.50 399.25H588.90V405.50H568.50M588.90 402.37H604.50V411.75H568.50M568.50 418.01H597.70V424.26H568.50M568.50 430.52H595.00V436.77H568.50M597.70 421.14H611.40V433.65H595.00M604.50 407.06H619.60V427.39H611.40M623.10 368.36H634.70V417.23H619.60" fill="none" stroke="#E495A5" stroke-width="1.3"/>
<path d="M641.00 120.53H658.00V175.55" fill="none" stroke="#ACA4E2" stroke-width="1.3"/>
<path d="M634.00 230.57H658.00V175.55" fill="none" stroke="#39BEB1" stroke-width="1.3"/>
<path d="M625.70 315.98H649.00V354.39" fill="none" stroke="#ABB065" stroke-width="1.3"/>
<path d="M634.70 392.80H649.00V354.39" fill="none" stroke="#E495A5" stroke-width="1.3"/>
<path d="M658.00 175.55H684.30V354.39H649.00" fill="none" stroke="#000" stroke-width="1.6"/>
<g font-family="Liberation Sans, sans-serif" font-size="6.85" fill="#585858" text-anchor="end">
<text x="96.4" y="101.63">shape-[me]</text>
<text x="96.4" y="107.88">shape-[mo]</text>
<text x="96.4" y="114.14">cellularity-[mo]</text>
<text x="96.4" y="120.39">cellularity-[md]</text>
<text x="96.4" y="126.65">nuc size var-[sk]</text>
<text x="96.4" y="132.90">nuc size-[sk]</text>
<text x="96.4" y="139.15">min cell dist-[sk]</text>
<text x="96.4" y="145.41">other ducts-(a)</text>
<text x="96.4" y="151.66">stroma-(a)</text>
<text x="96.4" y="157.92">max duct dist-[sd]</text>
<text x="96.4" y="164.17">cellularity-[rg]</text>
<text x="96.4" y="170.43">max cell dist-[sk]</text>
<text x="96.4" y="176.68">cells/duct-[sk]</text>
<text x="96.4" y="182.94">area-[sk]</text>
<text x="96.4" y="189.19">perimeter-[sk]</text>
<text x="96.4" y="195.45">roundness-[sk]</text>
<text x="96.4" y="201.70">shape-[rg]</text>
<text x="96.4" y="207.95">min duct dist-[to]</text>
<text x="96.4" y="214.21">DCIS ducts-(n)</text>
<text x="96.4" y="220.46">nuc size var-[to]</text>
<text x="96.4" y="226.72">radius-[to]</text>
<text x="96.4" y="232.97">DCIS density-(d)</text>
<text x="96.4" y="239.23">radius-[rg]</text>
<text x="96.4" y="245.48">DCIS/stroma-(r)</text>
<text x="96.4" y="251.74">cells/duct-[to]</text>
<text x="96.4" y="257.99">area-[to]</text>
<text x="96.4" y="264.25">roundness-[rg]</text>
<text x="96.4" y="270.50">perimeter-[rg]</text>
<text x="96.4" y="276.75">cells/duct-[sd]</text>
<text x="96.4" y="283.01">area-[sd]</text>
<text x="96.4" y="289.26">perimeter-[me]</text>
<text x="96.4" y="295.52">max cell dist-[sd]</text>
<text x="96.4" y="301.77">perimeter-[kd]</text>
<text x="96.4" y="308.03">perimeter-[md]</text>
<text x="96.4" y="314.28">area-[kd]</text>
<text x="96.4" y="320.54">cells/duct-[kd]</text>
<text x="96.4" y="326.79">cells/duct-[md]</text>
<text x="96.4" y="333.05">radius-[me]</text>
<text x="96.4" y="339.30">radius-[kd]</text>
<text x="96.4" y="345.55">shape-[sd]</text>
<text x="96.4" y="351.81">shape-[kd]</text>
<text x="96.4" y="358.06">5 ducts dist-[md]</text>
<text x="96.4" y="364.32">min duct dist-[md]</text>
<text x="96.4" y="370.57">max cell dist-[md]</text>
<text x="96.4" y="376.83">max cell dist-[mo]</text>
<text x="96.4" y="383.08">min cell dist-[md]</text>
<text x="96.4" y="389.34">nuc size var-[md]</text>
<text x="96.4" y="395.59">nuc size-[me]</text>
<text x="96.4" y="401.85">nuc size-[sd]</text>
<text x="96.4" y="408.10">nuc size-[kd]</text>
<text x="96.4" y="414.35">min cell dist-[kd]</text>
<text x="96.4" y="420.61">roundness-[mo]</text>
<text x="96.4" y="426.86">cellularity-[kd]</text>
<text x="96.4" y="433.12">shape-[sk]</text>
<text x="96.4" y="439.37">roundness-[kd]</text>
</g>
<path d="M97.9 98.73H101.1M97.9 104.98H101.1M97.9 111.24H101.1M97.9 117.49H101.1M97.9 123.75H101.1M97.9 130.00H101.1M97.9 136.25H101.1M97.9 142.51H101.1M97.9 148.76H101.1M97.9 155.02H101.1M97.9 161.27H101.1M97.9 167.53H101.1M97.9 173.78H101.1M97.9 180.04H101.1M97.9 186.29H101.1M97.9 192.55H101.1M97.9 198.80H101.1M97.9 205.05H101.1M97.9 211.31H101.1M97.9 217.56H101.1M97.9 223.82H101.1M97.9 230.07H101.1M97.9 236.33H101.1M97.9 242.58H101.1M97.9 248.84H101.1M97.9 255.09H101.1M97.9 261.35H101.1M97.9 267.60H101.1M97.9 273.85H101.1M97.9 280.11H101.1M97.9 286.36H101.1M97.9 292.62H101.1M97.9 298.87H101.1M97.9 305.13H101.1M97.9 311.38H101.1M97.9 317.64H101.1M97.9 323.89H101.1M97.9 330.15H101.1M97.9 336.40H101.1M97.9 342.65H101.1M97.9 348.91H101.1M97.9 355.16H101.1M97.9 361.42H101.1M97.9 367.67H101.1M97.9 373.93H101.1M97.9 380.18H101.1M97.9 386.44H101.1M97.9 392.69H101.1M97.9 398.95H101.1M97.9 405.20H101.1M97.9 411.45H101.1M97.9 417.71H101.1M97.9 423.96H101.1M97.9 430.22H101.1M97.9 436.47H101.1" stroke="#333" stroke-width="0.9"/>
<path d="M105.71 441V444.5M113.13 441V444.5M120.55 441V444.5M127.96 441V444.5M135.38 441V444.5M142.80 441V444.5M150.22 441V444.5M157.64 441V444.5M165.05 441V444.5M172.47 441V444.5M179.89 441V444.5M187.31 441V444.5M194.73 441V444.5M202.15 441V444.5M209.56 441V444.5M216.98 441V444.5M224.40 441V444.5M231.82 441V444.5M239.24 441V444.5M246.65 441V444.5M254.07 441V444.5M261.49 441V444.5M268.91 441V444.5M276.33 441V444.5M283.75 441V444.5M291.16 441V444.5M298.58 441V444.5M306.00 441V444.5M313.42 441V444.5M320.84 441V444.5M328.25 441V444.5M335.67 441V444.5M343.09 441V444.5M350.51 441V444.5M357.93 441V444.5M365.35 441V444.5M372.76 441V444.5M380.18 441V444.5M387.60 441V444.5M395.02 441V444.5M402.44 441V444.5M409.85 441V444.5M417.27 441V444.5M424.69 441V444.5M432.11 441V444.5M439.53 441V444.5M446.95 441V444.5M454.36 441V444.5M461.78 441V444.5M469.20 441V444.5M476.62 441V444.5M484.04 441V444.5M491.45 441V444.5M498.87 441V444.5M506.29 441V444.5M539.25 441V444.5" stroke="#666" stroke-width="0.7"/>
<g font-family="Liberation Sans, sans-serif" font-size="6.85" fill="#585858">
<text transform="translate(104.11 450.60) rotate(45)" x="0" y="0">roundness-[kd]</text>
<text transform="translate(111.53 450.60) rotate(45)" x="0" y="0">shape-[sk]</text>
<text transform="translate(118.95 450.60) rotate(45)" x="0" y="0">cellularity-[kd]</text>
<text transform="translate(126.36 450.60) rotate(45)" x="0" y="0">roundness-[mo]</text>
<text transform="translate(133.78 450.60) rotate(45)" x="0" y="0">min cell dist-[kd]</text>
<text transform="translate(141.20 450.60) rotate(45)" x="0" y="0">nuc size-[kd]</text>
<text transform="translate(148.62 450.60) rotate(45)" x="0" y="0">nuc size-[sd]</text>
<text transform="translate(156.04 450.60) rotate(45)" x="0" y="0">nuc size-[me]</text>
<text transform="translate(163.45 450.60) rotate(45)" x="0" y="0">nuc size var-[md]</text>
<text transform="translate(170.87 450.60) rotate(45)" x="0" y="0">min cell dist-[md]</text>
<text transform="translate(178.29 450.60) rotate(45)" x="0" y="0">max cell dist-[mo]</text>
<text transform="translate(185.71 450.60) rotate(45)" x="0" y="0">max cell dist-[md]</text>
<text transform="translate(193.13 450.60) rotate(45)" x="0" y="0">min duct dist-[md]</text>
<text transform="translate(200.55 450.60) rotate(45)" x="0" y="0">5 ducts dist-[md]</text>
<text transform="translate(207.96 450.60) rotate(45)" x="0" y="0">shape-[kd]</text>
<text transform="translate(215.38 450.60) rotate(45)" x="0" y="0">shape-[sd]</text>
<text transform="translate(222.80 450.60) rotate(45)" x="0" y="0">radius-[kd]</text>
<text transform="translate(230.22 450.60) rotate(45)" x="0" y="0">radius-[me]</text>
<text transform="translate(237.64 450.60) rotate(45)" x="0" y="0">cells/duct-[md]</text>
<text transform="translate(245.05 450.60) rotate(45)" x="0" y="0">cells/duct-[kd]</text>
<text transform="translate(252.47 450.60) rotate(45)" x="0" y="0">area-[kd]</text>
<text transform="translate(259.89 450.60) rotate(45)" x="0" y="0">perimeter-[md]</text>
<text transform="translate(267.31 450.60) rotate(45)" x="0" y="0">perimeter-[kd]</text>
<text transform="translate(274.73 450.60) rotate(45)" x="0" y="0">max cell dist-[sd]</text>
<text transform="translate(282.15 450.60) rotate(45)" x="0" y="0">perimeter-[me]</text>
<text transform="translate(289.56 450.60) rotate(45)" x="0" y="0">area-[sd]</text>
<text transform="translate(296.98 450.60) rotate(45)" x="0" y="0">cells/duct-[sd]</text>
<text transform="translate(304.40 450.60) rotate(45)" x="0" y="0">perimeter-[rg]</text>
<text transform="translate(311.82 450.60) rotate(45)" x="0" y="0">roundness-[rg]</text>
<text transform="translate(319.24 450.60) rotate(45)" x="0" y="0">area-[to]</text>
<text transform="translate(326.65 450.60) rotate(45)" x="0" y="0">cells/duct-[to]</text>
<text transform="translate(334.07 450.60) rotate(45)" x="0" y="0">DCIS/stroma-(r)</text>
<text transform="translate(341.49 450.60) rotate(45)" x="0" y="0">radius-[rg]</text>
<text transform="translate(348.91 450.60) rotate(45)" x="0" y="0">DCIS density-(d)</text>
<text transform="translate(356.33 450.60) rotate(45)" x="0" y="0">radius-[to]</text>
<text transform="translate(363.75 450.60) rotate(45)" x="0" y="0">nuc size var-[to]</text>
<text transform="translate(371.16 450.60) rotate(45)" x="0" y="0">DCIS ducts-(n)</text>
<text transform="translate(378.58 450.60) rotate(45)" x="0" y="0">min duct dist-[to]</text>
<text transform="translate(386.00 450.60) rotate(45)" x="0" y="0">shape-[rg]</text>
<text transform="translate(393.42 450.60) rotate(45)" x="0" y="0">roundness-[sk]</text>
<text transform="translate(400.84 450.60) rotate(45)" x="0" y="0">perimeter-[sk]</text>
<text transform="translate(408.25 450.60) rotate(45)" x="0" y="0">area-[sk]</text>
<text transform="translate(415.67 450.60) rotate(45)" x="0" y="0">cells/duct-[sk]</text>
<text transform="translate(423.09 450.60) rotate(45)" x="0" y="0">max cell dist-[sk]</text>
<text transform="translate(430.51 450.60) rotate(45)" x="0" y="0">cellularity-[rg]</text>
<text transform="translate(437.93 450.60) rotate(45)" x="0" y="0">max duct dist-[sd]</text>
<text transform="translate(445.35 450.60) rotate(45)" x="0" y="0">stroma-(a)</text>
<text transform="translate(452.76 450.60) rotate(45)" x="0" y="0">other ducts-(a)</text>
<text transform="translate(460.18 450.60) rotate(45)" x="0" y="0">min cell dist-[sk]</text>
<text transform="translate(467.60 450.60) rotate(45)" x="0" y="0">nuc size-[sk]</text>
<text transform="translate(475.02 450.60) rotate(45)" x="0" y="0">nuc size var-[sk]</text>
<text transform="translate(482.44 450.60) rotate(45)" x="0" y="0">cellularity-[md]</text>
<text transform="translate(489.85 450.60) rotate(45)" x="0" y="0">cellularity-[mo]</text>
<text transform="translate(497.27 450.60) rotate(45)" x="0" y="0">shape-[mo]</text>
<text transform="translate(504.69 450.60) rotate(45)" x="0" y="0">shape-[me]</text>
</g>
<g font-family="Liberation Sans, sans-serif" font-size="6.85" font-weight="bold" fill="#333"><text transform="translate(537.2 450.8) rotate(45)">Distribution</text><text transform="translate(532.4 456.2) rotate(45)">parameters</text></g>
<text x="41" y="42.7" font-family="Liberation Serif, serif" font-weight="bold" font-size="21.5">A</text>
<text x="518.5" y="6.7" font-family="Liberation Sans, sans-serif" font-size="9" fill="#444">Distribution parameters</text>
<rect x="518.8" y="15.50" width="17.5" height="6.03" fill="#1e6e3c"/>
<path d="M536.3 18.41H537.6" stroke="#666" stroke-width="0.5"/>
<text x="538.6" y="20.72" font-family="Liberation Sans, sans-serif" font-size="8" fill="#444">total</text>
<rect x="518.8" y="21.32" width="17.5" height="6.03" fill="#f5e83a"/>
<path d="M536.3 24.24H537.6" stroke="#666" stroke-width="0.5"/>
<text x="538.6" y="26.55" font-family="Liberation Sans, sans-serif" font-size="8" fill="#444">standard deviation</text>
<rect x="518.8" y="27.15" width="17.5" height="6.03" fill="#8a4fb0"/>
<path d="M536.3 30.06H537.6" stroke="#666" stroke-width="0.5"/>
<text x="538.6" y="32.38" font-family="Liberation Sans, sans-serif" font-size="8" fill="#444">skewness</text>
<rect x="518.8" y="32.98" width="17.5" height="6.03" fill="#c8c8c8"/>
<path d="M536.3 35.89H537.6" stroke="#666" stroke-width="0.5"/>
<text x="538.6" y="38.20" font-family="Liberation Sans, sans-serif" font-size="8" fill="#444">ratio</text>
<rect x="518.8" y="38.80" width="17.5" height="6.03" fill="#f5a431"/>
<path d="M536.3 41.71H537.6" stroke="#666" stroke-width="0.5"/>
<text x="538.6" y="44.02" font-family="Liberation Sans, sans-serif" font-size="8" fill="#444">range</text>
<rect x="518.8" y="44.62" width="17.5" height="6.03" fill="#999999"/>
<path d="M536.3 47.54H537.6" stroke="#666" stroke-width="0.5"/>
<text x="538.6" y="49.85" font-family="Liberation Sans, sans-serif" font-size="8" fill="#444">number</text>
<rect x="518.8" y="50.45" width="17.5" height="6.03" fill="#2a2f85"/>
<path d="M536.3 53.36H537.6" stroke="#666" stroke-width="0.5"/>
<text x="538.6" y="55.68" font-family="Liberation Sans, sans-serif" font-size="8" fill="#444">mode</text>
<rect x="518.8" y="56.27" width="17.5" height="6.03" fill="#3a5aaa"/>
<path d="M536.3 59.19H537.6" stroke="#666" stroke-width="0.5"/>
<text x="538.6" y="61.50" font-family="Liberation Sans, sans-serif" font-size="8" fill="#444">median</text>
<rect x="518.8" y="62.10" width="17.5" height="6.03" fill="#aadde6"/>
<path d="M536.3 65.01H537.6" stroke="#666" stroke-width="0.5"/>
<text x="538.6" y="67.33" font-family="Liberation Sans, sans-serif" font-size="8" fill="#444">mean</text>
<rect x="518.8" y="67.93" width="17.5" height="6.03" fill="#e8262e"/>
<path d="M536.3 70.84H537.6" stroke="#666" stroke-width="0.5"/>
<text x="538.6" y="73.15" font-family="Liberation Sans, sans-serif" font-size="8" fill="#444">Kernel density</text>
<rect x="518.8" y="73.75" width="17.5" height="6.03" fill="#666666"/>
<path d="M536.3 76.66H537.6" stroke="#666" stroke-width="0.5"/>
<text x="538.6" y="78.98" font-family="Liberation Sans, sans-serif" font-size="8" fill="#444">density</text>
<rect x="518.8" y="79.58" width="17.5" height="6.03" fill="#333333"/>
<path d="M536.3 82.49H537.6" stroke="#666" stroke-width="0.5"/>
<text x="538.6" y="84.80" font-family="Liberation Sans, sans-serif" font-size="8" fill="#444">area</text>
<defs><linearGradient id="cbar" x1="0" y1="1" x2="0" y2="0">
<stop offset="0.00" stop-color="#3b4cc0"/>
<stop offset="0.10" stop-color="#5977e3"/>
<stop offset="0.20" stop-color="#7b9ff9"/>
<stop offset="0.30" stop-color="#9ebeff"/>
<stop offset="0.40" stop-color="#c0d4f5"/>
<stop offset="0.50" stop-color="#dddcdc"/>
<stop offset="0.60" stop-color="#f2cbb7"/>
<stop offset="0.70" stop-color="#f7ac8e"/>
<stop offset="0.80" stop-color="#ee8468"/>
<stop offset="0.90" stop-color="#d65244"/>
<stop offset="1.00" stop-color="#b40426"/>
</linearGradient></defs>
<rect x="518.8" y="15.5" width="17.5" height="69.9" fill="none" stroke="#777" stroke-width="0.5"/>
<text x="627.7" y="6.7" font-family="Liberation Sans, sans-serif" font-size="8.9" fill="#444">Coefficient</text>
<rect x="628.4" y="14.4" width="15.3" height="68.8" fill="url(#cbar)" stroke="#777" stroke-width="0.5"/>
<path d="M643.7 14.40H645.5" stroke="#555" stroke-width="0.6"/>
<text x="646" y="17.10" font-family="Liberation Sans, sans-serif" font-size="7.6" fill="#444">1</text>
<path d="M643.7 31.62H645.5" stroke="#555" stroke-width="0.6"/>
<text x="646" y="34.33" font-family="Liberation Sans, sans-serif" font-size="7.6" fill="#444">0.5</text>
<path d="M643.7 48.85H645.5" stroke="#555" stroke-width="0.6"/>
<text x="646" y="51.55" font-family="Liberation Sans, sans-serif" font-size="7.6" fill="#444">0</text>
<path d="M643.7 66.08H645.5" stroke="#555" stroke-width="0.6"/>
<text x="646" y="68.78" font-family="Liberation Sans, sans-serif" font-size="7.6" fill="#444">−0.5</text>
<path d="M643.7 83.30H645.5" stroke="#555" stroke-width="0.6"/>
<text x="646" y="86.00" font-family="Liberation Sans, sans-serif" font-size="7.6" fill="#444">−1</text>
<text x="40.7" y="550" font-family="Liberation Serif, serif" font-weight="bold" font-size="22">B</text>
<text x="128.8" y="548.1" font-family="Liberation Serif, serif" font-weight="bold" font-size="13.7">5-years iIBC-free</text>
<rect x="41.3" y="566.5" width="181.2" height="180.9" fill="#ececec"/>
<polygon points="41.3,747.4 41.3,747.4 41.8,747.4 42.2,747.4 42.7,747.4 43.1,747.4 43.6,747.4 44.0,747.4 44.5,747.4 44.9,747.4 45.4,747.4 45.8,747.4 46.3,747.4 46.7,747.4 47.2,747.4 47.7,747.4 48.1,741.7 48.6,741.7 49.0,741.7 49.5,741.7 49.9,741.7 50.4,741.7 50.8,741.7 51.3,731.4 51.7,731.4 52.2,731.4 52.7,731.4 53.1,731.4 53.6,731.4 54.0,731.4 54.5,731.4 54.9,731.4 55.4,731.4 55.8,728.0 56.3,728.0 56.7,728.0 57.2,728.0 57.6,728.0 58.1,728.0 58.6,728.0 59.0,725.3 59.5,725.3 59.9,725.3 60.4,725.3 60.8,725.3 61.3,725.3 61.7,717.2 62.2,717.2 62.6,717.2 63.1,717.2 63.6,717.2 64.0,717.2 64.5,717.2 64.9,717.2 65.4,717.2 65.8,717.2 66.3,717.2 66.7,717.2 67.2,717.2 67.6,717.2 68.1,717.2 68.5,717.2 69.0,708.6 69.5,708.6 69.9,708.6 70.4,706.6 70.8,706.6 71.3,706.6 71.7,706.6 72.2,706.6 72.6,706.6 73.1,706.6 73.5,706.6 74.0,706.6 74.5,706.6 74.9,706.6 75.4,706.6 75.8,706.6 76.3,696.5 76.7,696.5 77.2,694.5 77.6,694.5 78.1,694.5 78.5,694.5 79.0,694.5 79.4,694.5 79.9,687.1 80.4,687.1 80.8,687.1 81.3,687.1 81.7,687.1 82.2,687.1 82.6,687.1 83.1,687.1 83.5,687.1 84.0,687.1 84.4,687.1 84.9,681.2 85.4,681.2 85.8,681.2 86.3,681.2 86.7,681.2 87.2,681.2 87.6,681.2 88.1,681.2 88.5,677.4 89.0,677.4 89.4,676.3 89.9,676.3 90.3,676.3 90.8,673.2 91.3,673.2 91.7,673.2 92.2,672.9 92.6,672.9 93.1,672.9 93.5,672.9 94.0,672.9 94.4,672.9 94.9,672.9 95.3,672.9 95.8,672.9 96.3,672.9 96.7,672.9 97.2,672.9 97.6,672.9 98.1,672.9 98.5,672.9 99.0,672.9 99.4,672.9 99.9,672.9 100.3,672.9 100.8,672.9 101.2,672.9 101.7,672.9 102.2,672.9 102.6,672.9 103.1,672.9 103.5,657.0 104.0,657.0 104.4,657.0 104.9,657.0 105.3,657.0 105.8,657.0 106.2,657.0 106.7,657.0 107.1,651.6 107.6,651.6 108.1,651.6 108.5,651.6 109.0,651.6 109.4,651.6 109.9,651.6 110.3,651.6 110.8,651.6 111.2,651.6 111.7,651.6 112.1,651.6 112.6,651.6 113.1,651.6 113.5,651.6 114.0,651.6 114.4,651.6 114.9,651.6 115.3,651.6 115.8,651.6 116.2,651.6 116.7,651.6 117.1,651.6 117.6,651.6 118.0,651.6 118.5,651.6 119.0,651.6 119.4,641.5 119.9,641.5 120.3,641.5 120.8,641.5 121.2,641.5 121.7,641.5 122.1,641.5 122.6,641.5 123.0,641.5 123.5,641.5 124.0,641.5 124.4,641.5 124.9,641.5 125.3,641.5 125.8,641.5 126.2,641.5 126.7,641.5 127.1,641.5 127.6,631.1 128.0,631.1 128.5,628.3 128.9,628.3 129.4,625.0 129.9,625.0 130.3,625.0 130.8,625.0 131.2,625.0 131.7,623.9 132.1,623.9 132.6,623.9 133.0,623.9 133.5,623.9 133.9,622.2 134.4,622.2 134.9,622.2 135.3,622.2 135.8,622.2 136.2,619.7 136.7,619.7 137.1,619.7 137.6,619.7 138.0,619.7 138.5,619.7 138.9,619.7 139.4,619.7 139.8,619.7 140.3,619.7 140.8,619.7 141.2,619.7 141.7,619.7 142.1,619.7 142.6,619.7 143.0,619.7 143.5,618.2 143.9,618.2 144.4,618.2 144.8,618.2 145.3,618.2 145.8,618.2 146.2,618.2 146.7,618.2 147.1,618.2 147.6,618.2 148.0,618.2 148.5,618.2 148.9,618.2 149.4,618.2 149.8,618.2 150.3,618.2 150.7,618.2 151.2,618.2 151.7,618.2 152.1,618.2 152.6,618.2 153.0,618.2 153.5,618.2 153.9,618.2 154.4,618.2 154.8,618.2 155.3,618.2 155.7,618.2 156.2,599.0 156.7,599.0 157.1,599.0 157.6,599.0 158.0,599.0 158.5,598.8 158.9,598.8 159.4,598.8 159.8,598.8 160.3,598.8 160.7,598.8 161.2,598.8 161.6,598.8 162.1,594.3 162.6,594.3 163.0,594.3 163.5,594.3 163.9,594.3 164.4,594.3 164.8,594.3 165.3,594.3 165.7,594.3 166.2,594.3 166.6,594.3 167.1,592.3 167.5,592.3 168.0,592.3 168.5,592.3 168.9,592.3 169.4,592.3 169.8,592.3 170.3,592.3 170.7,592.3 171.2,592.3 171.6,592.3 172.1,592.3 172.5,592.3 173.0,592.3 173.5,592.3 173.9,592.3 174.4,592.3 174.8,592.3 175.3,592.3 175.7,592.3 176.2,592.3 176.6,592.3 177.1,592.3 177.5,590.6 178.0,590.6 178.4,589.7 178.9,589.1 179.4,589.1 179.8,588.6 180.3,588.6 180.7,588.6 181.2,588.6 181.6,588.6 182.1,588.6 182.5,588.6 183.0,588.6 183.4,588.6 183.9,588.6 184.4,588.6 184.8,588.6 185.3,588.6 185.7,588.6 186.2,588.6 186.6,588.6 187.1,588.6 187.5,588.6 188.0,588.6 188.4,588.6 188.9,588.6 189.3,585.9 189.8,585.9 190.3,585.9 190.7,585.9 191.2,585.9 191.6,584.6 192.1,584.6 192.5,584.6 193.0,584.6 193.4,584.6 193.9,584.6 194.3,584.6 194.8,584.6 195.3,584.6 195.7,584.6 196.2,584.6 196.6,584.6 197.1,584.6 197.5,584.6 198.0,584.6 198.4,584.6 198.9,584.6 199.3,584.6 199.8,584.6 200.2,584.6 200.7,578.2 201.2,578.2 201.6,578.2 202.1,578.2 202.5,577.1 203.0,577.1 203.4,577.1 203.9,577.1 204.3,577.1 204.8,577.1 205.2,577.1 205.7,577.1 206.2,577.1 206.6,577.1 207.1,577.1 207.5,577.1 208.0,577.1 208.4,577.1 208.9,577.1 209.3,577.1 209.8,577.1 210.2,577.1 210.7,577.1 211.1,577.1 211.6,577.1 212.1,577.1 212.5,577.1 213.0,577.1 213.4,577.1 213.9,577.1 214.3,577.1 214.8,577.1 215.2,577.1 215.7,577.1 216.1,577.1 216.6,573.0 217.1,573.0 217.5,571.0 218.0,571.0 218.4,571.0 218.9,571.0 219.3,571.0 219.8,571.0 220.2,571.0 220.7,571.0 221.1,571.0 221.6,571.0 222.0,571.0 222.5,566.5 222.5,747.4" fill="#d9d9d9"/>
<path d="M41.3 559.3V754.4M34.5 747.4H229.5M59.4 559.3V754.4M34.5 729.3H229.5M77.5 559.3V754.4M34.5 711.2H229.5M95.7 559.3V754.4M34.5 693.1H229.5M113.8 559.3V754.4M34.5 675.0H229.5M131.9 559.3V754.4M34.5 657.0H229.5M150.0 559.3V754.4M34.5 638.9H229.5M168.1 559.3V754.4M34.5 620.8H229.5M186.3 559.3V754.4M34.5 602.7H229.5M204.4 559.3V754.4M34.5 584.6H229.5M222.5 559.3V754.4M34.5 566.5H229.5" stroke="#cfcfcf" stroke-width="0.6" stroke-dasharray="0.8 3" fill="none"/>
<rect x="41.3" y="566.5" width="181.2" height="180.9" fill="none" stroke="#5a5a5a" stroke-width="0.9"/>
<path d="M41.3 747.4V725.3H61.3V707.7H66.6V703.3H71.9V694.5H79.6V681.2H80.8H88.3V659.2H95.6V654.7H107.0V645.9H113.9V641.5H127.2V628.3H129.0V623.9H133.6V615.0H137.6V606.2H140.3H148.6V597.4H155.4V593.0H166.2V588.6H172.5H189.1V579.7H193.1V575.3H202.9V570.9H205.3H209.3H218.2V566.5H222.5" fill="none" stroke="#87ceeb" stroke-width="0.8"/>
<path d="M41.3 747.4V728.0H42.4H44.0H58.8V708.6H59.7H68.7V689.3H76.2V669.9H83.0V663.4H87.7V657.0H95.0V644.0H100.1H101.8H114.2V631.1H115.5H123.6V624.6H129.3V618.2H130.7H156.0V598.8H159.1H161.8V592.3H165.9H177.5V585.9H187.9V579.4H194.9H196.3V573.0H199.6H207.8H217.5V566.5H222.5" fill="none" stroke="#87ceeb" stroke-width="0.8"/>
<path d="M41.3 747.4V715.1H43.9H46.5H48.5H52.9H57.1V708.6H70.2V695.7H76.1V682.8H77.2V676.3H85.5H90.6V669.9H95.1V663.4H100.4V657.0H107.0V650.5H114.4V637.6H115.9V631.1H128.4V618.2H131.1V611.7H134.0V605.3H138.5V598.8H143.3H145.6H146.6H154.1V592.3H158.2H161.6H166.3H169.2V585.9H175.6H176.6H180.1H188.4H191.4V579.4H199.4V573.0H208.0H215.1V566.5H222.5" fill="none" stroke="#87ceeb" stroke-width="0.8"/>
<path d="M41.3 747.4V738.1H48.7V724.2H55.3V710.3H57.3H62.9V696.4H66.2V687.1H72.8V682.5H75.8V677.8H81.3V673.2H91.7V659.3H94.7V650.0H97.4H102.4H113.3V640.7H119.9V626.8H127.3V622.2H135.8V608.2H149.3V599.0H154.7H158.2V594.3H166.9V589.7H178.6V585.1H186.2V580.4H191.0V575.8H205.7V571.1H206.1H212.0H217.2V566.5H218.5H222.5" fill="none" stroke="#87ceeb" stroke-width="0.8"/>
<path d="M41.3 747.4V715.5H51.4H59.4V699.5H63.0H72.9V683.6H74.1H75.4H77.1V678.2H82.7V672.9H83.7H103.1V651.6H119.4V635.7H122.8V630.3H124.0V625.0H131.4V614.4H135.5V609.1H139.4V603.7H140.3V598.4H146.0H158.6V593.1H161.3H165.1V587.8H175.8V582.5H182.1H189.8V577.1H194.9H216.6V566.5H222.3H222.5" fill="none" stroke="#87ceeb" stroke-width="0.8"/>
<path d="M41.3 747.4V715.7H47.4H53.9H56.0V706.7H59.4V702.2H60.6H70.9V679.6H84.9V661.5H86.3H90.9V657.0H105.2V643.4H111.8V634.3H114.7H117.8V629.8H126.4V616.2H140.4V598.2H144.6V593.6H146.4H159.9V589.1H173.9H179.5V584.6H184.5H200.7V575.5H204.7H215.0V571.0H222.5V566.5" fill="none" stroke="#87ceeb" stroke-width="0.8"/>
<path d="M41.3 747.4V741.4H49.3V717.2H50.6H68.7V687.1H84.9V663.0H89.5V657.0H95.8V650.9H110.2V638.9H120.1V626.8H122.4H124.4V620.8H126.0V614.7H128.1H132.7V608.7H134.1V602.7H138.6V596.6H146.1H152.4V590.6H159.9V584.6H163.0H169.9H173.5H187.4V578.6H188.3H193.1V572.5H200.2H204.7H205.0H211.1V566.5H222.5" fill="none" stroke="#87ceeb" stroke-width="0.8"/>
<path d="M41.3 747.4V747.4H43.6V741.6H49.9V724.1H52.5H55.5V718.2H58.2V706.6H75.9V677.4H89.1V654.0H93.5V648.2H100.4V642.4H110.1V630.7H121.3V624.9H123.3V619.0H128.9V613.2H132.8V607.3H142.6V601.5H147.9V595.7H152.2V589.8H153.4H155.6H158.6H167.0V584.0H169.8H173.2H178.7V578.2H182.5H188.4H202.5V572.3H205.6H211.5H214.5V566.5H220.2H222.5" fill="none" stroke="#87ceeb" stroke-width="0.8"/>
<path d="M41.3 747.4V723.3H42.9H48.0V711.2H61.3V687.1H64.4V681.1H69.5V675.0H71.8H75.9V669.0H77.2H84.1V657.0H89.2V650.9H105.6V638.9H112.9V626.8H116.5H123.8V614.7H128.3H132.1V608.7H139.7V596.6H140.3H140.9H144.5H148.8H158.1V590.6H162.3H165.8H173.0H178.2V584.6H182.5H195.8V572.5H200.1H205.6H210.5H211.3V566.5H212.5H213.7H217.1H222.5" fill="none" stroke="#87ceeb" stroke-width="0.8"/>
<path d="M41.3 747.4V741.7H51.1V713.5H52.4H61.1V702.2H65.6V696.5H76.8V673.9H84.9V657.0H93.1V645.6H97.0V640.0H113.9V617.4H120.2H130.3V606.1H137.0V600.4H141.3V594.8H143.1H159.3V583.5H164.5H168.5H169.7H172.8H177.7V577.8H178.3H185.7H191.5V572.2H191.6H194.9H200.6H202.0H206.8H210.9V566.5H214.4H216.2H222.5" fill="none" stroke="#87ceeb" stroke-width="0.8"/>
<path d="M41.3 747.4V722.3H45.8V717.2H52.8V707.2H62.1V692.1H66.7V682.1H71.6V677.0H72.3H73.4H81.2V662.0H88.6V651.9H100.1V636.9H105.9V626.8H109.1V621.8H121.9V606.7H124.6H131.9V596.6H141.8V591.6H145.6H149.9H154.8V586.6H158.9V581.6H173.5H182.9V576.5H184.9H190.8H195.0V571.5H201.2H204.6H210.3H214.5V566.5H219.6H222.5" fill="none" stroke="#87ceeb" stroke-width="0.8"/>
<path d="M41.3 747.4V731.4H55.7V699.5H61.0V688.9H64.7V683.6H77.7V657.0H85.0V646.3H85.9H89.8H93.4V641.0H98.4H109.9V630.3H123.5V619.7H143.2V593.1H149.0H149.2H162.5V587.8H171.0V582.5H175.5V577.1H185.8H198.9V571.8H205.7V566.5H211.4H214.1H217.0H222.5" fill="none" stroke="#87ceeb" stroke-width="0.8"/>
<path d="M41.3 747.4V715.1H43.5H51.5V702.2H55.7V695.7H62.8V676.3H78.6V650.5H83.0H94.8V644.0H98.2H105.8V637.6H112.7V631.1H116.8V624.6H119.9V611.7H122.1H126.5H132.7V598.8H141.0V592.3H145.6H147.7H151.9V585.9H169.2V579.4H173.0H187.9V573.0H191.9H196.0H205.7H210.2V566.5H213.1H215.2H219.4H222.5" fill="none" stroke="#87ceeb" stroke-width="0.8"/>
<path d="M41.3 747.4V747.4H48.1V710.4H59.8V685.7H64.8V677.5H67.9V673.4H71.0H76.4V661.1H97.2V636.4H105.5V632.3H109.0V628.2H119.9V611.7H121.6V607.6H125.5V603.5H133.5V591.2H137.8V587.1H153.4V578.8H167.2H168.3H175.1V574.7H177.1H179.1H180.9V570.6H184.1H188.3H201.3V566.5H209.5H216.4H222.5" fill="none" stroke="#87ceeb" stroke-width="0.8"/>
<path d="M41.3 747.4V738.6H46.9V698.9H59.2V676.8H64.0V672.4H67.1V668.0H72.9V659.2H79.2V645.9H80.9H87.3V637.1H94.1V628.3H101.2H111.0V619.4H112.5H115.2H116.2H118.7V615.0H133.7V597.4H135.4V593.0H137.7V588.6H144.0H150.2V584.1H157.9V579.7H162.6V575.3H163.3H166.0H171.8H175.2H178.3V570.9H181.4H187.5H195.8V566.5H201.2H205.9H210.9H214.2H219.1H222.5" fill="none" stroke="#87ceeb" stroke-width="0.8"/>
<path d="M41.3 747.4V724.8H45.2V702.2H49.4V688.6H57.0V679.6H60.6V675.0H74.7V647.9H82.0V638.9H90.1V629.8H97.5V625.3H115.2V607.2H127.0V602.7H127.8H128.7V598.2H130.4H133.4V589.1H139.0V580.1H142.9H151.3V571.0H164.9H169.0H184.5H190.9H198.9V566.5H209.4H217.5H222.5" fill="none" stroke="#87ceeb" stroke-width="0.8"/>
<path d="M34.5 754.4L229.5 559.3" stroke="#1a1a1a" stroke-width="1.3" stroke-dasharray="4.2 2.2 1 2.2"/>
<path d="M41.3 747.4 L43.3 741.2 L45.4 736.0 L47.4 731.0 L49.4 726.9 L51.5 724.3 L53.5 721.4 L55.6 716.2 L57.6 713.5 L59.6 709.8 L61.7 706.8 L63.7 704.5 L65.7 700.4 L67.8 694.9 L69.8 692.8 L71.8 688.9 L73.9 685.8 L75.9 681.1 L77.9 676.9 L80.0 674.0 L82.0 671.3 L84.1 668.9 L86.1 665.4 L88.1 661.5 L90.2 658.8 L92.2 657.1 L94.2 653.8 L96.3 653.3 L98.3 651.8 L100.3 650.9 L102.4 647.7 L104.4 647.2 L106.5 645.6 L108.5 643.1 L110.5 639.9 L112.6 639.1 L114.6 635.0 L116.6 633.5 L118.7 632.1 L120.7 628.7 L122.7 625.2 L124.8 625.1 L126.8 623.4 L128.8 619.1 L130.9 615.2 L132.9 612.1 L135.0 610.3 L137.0 607.2 L139.0 605.2 L141.1 603.2 L143.1 601.2 L145.1 601.2 L147.2 599.7 L149.2 599.7 L151.2 597.9 L153.3 597.5 L155.3 595.9 L157.3 593.5 L159.4 593.5 L161.4 592.1 L163.5 592.1 L165.5 591.7 L167.5 591.3 L169.6 591.1 L171.6 590.1 L173.6 588.4 L175.7 585.9 L177.7 585.9 L179.7 585.9 L181.8 585.2 L183.8 584.8 L185.9 582.8 L187.9 582.1 L189.9 579.9 L192.0 577.4 L194.0 577.4 L196.0 576.1 L198.1 575.0 L200.1 575.0 L202.1 573.3 L204.2 572.7 L206.2 572.5 L208.2 570.6 L210.3 570.6 L212.3 569.4 L214.4 569.3 L216.4 569.3 L218.4 568.0 L220.5 567.5 L222.5 566.5" fill="none" stroke="#0022ff" stroke-width="2.3" stroke-linejoin="round"/>
<rect x="34.5" y="559.3" width="195.0" height="195.1" fill="none" stroke="#4a4a4a" stroke-width="1"/>
<path d="M29.2 747.4H34.5M41.3 754.4V759.7M29.2 711.2H34.5M77.5 754.4V759.7M29.2 675.0H34.5M113.8 754.4V759.7M29.2 638.9H34.5M150.0 754.4V759.7M29.2 602.7H34.5M186.3 754.4V759.7M29.2 566.5H34.5M222.5 754.4V759.7" stroke="#4a4a4a" stroke-width="0.9"/>
<text transform="translate(22.3 747.4) rotate(-90)" text-anchor="middle" font-family="Liberation Sans, sans-serif" font-size="8.7" fill="#222">0</text>
<text x="41.3" y="774.3" text-anchor="middle" font-family="Liberation Sans, sans-serif" font-size="8.7" fill="#222">100</text>
<text transform="translate(22.3 711.2) rotate(-90)" text-anchor="middle" font-family="Liberation Sans, sans-serif" font-size="8.7" fill="#222">20</text>
<text x="77.5" y="774.3" text-anchor="middle" font-family="Liberation Sans, sans-serif" font-size="8.7" fill="#222">80</text>
<text transform="translate(22.3 675.0) rotate(-90)" text-anchor="middle" font-family="Liberation Sans, sans-serif" font-size="8.7" fill="#222">40</text>
<text x="113.8" y="774.3" text-anchor="middle" font-family="Liberation Sans, sans-serif" font-size="8.7" fill="#222">60</text>
<text transform="translate(22.3 638.9) rotate(-90)" text-anchor="middle" font-family="Liberation Sans, sans-serif" font-size="8.7" fill="#222">60</text>
<text x="150.0" y="774.3" text-anchor="middle" font-family="Liberation Sans, sans-serif" font-size="8.7" fill="#222">40</text>
<text transform="translate(22.3 602.7) rotate(-90)" text-anchor="middle" font-family="Liberation Sans, sans-serif" font-size="8.7" fill="#222">80</text>
<text x="186.3" y="774.3" text-anchor="middle" font-family="Liberation Sans, sans-serif" font-size="8.7" fill="#222">20</text>
<text transform="translate(22.3 566.5) rotate(-90)" text-anchor="middle" font-family="Liberation Sans, sans-serif" font-size="8.7" fill="#222">100</text>
<text x="222.5" y="774.3" text-anchor="middle" font-family="Liberation Sans, sans-serif" font-size="8.7" fill="#222">0</text>
<text x="131.9" y="790.0" text-anchor="middle" font-family="Liberation Sans, sans-serif" font-size="8.7" fill="#222">Specificity (%)</text>
<text transform="translate(6.9 657.0) rotate(-90)" text-anchor="middle" font-family="Liberation Sans, sans-serif" font-size="8.7" fill="#222">Sensitivity (%)</text>
<text x="99.6" y="704.6" font-family="Liberation Sans, sans-serif" font-size="8.7" fill="#222">Overall AUC = 0.66 (0.62-0.69)</text>
<text x="99.6" y="716.9" font-family="Liberation Sans, sans-serif" font-size="8.7" fill="#222">Median AUC = 0.67 (0.57-0.77)</text>
<text x="259.3" y="550" font-family="Liberation Serif, serif" font-weight="bold" font-size="22">C</text>
<text x="343.4" y="548.1" font-family="Liberation Serif, serif" font-weight="bold" font-size="13.7">10-years iIBC-free</text>
<rect x="263.3" y="565.8" width="182.3" height="182.8" fill="#ececec"/>
<polygon points="263.3,748.6 263.3,748.6 263.8,748.6 264.2,748.6 264.7,748.6 265.1,748.6 265.6,748.6 266.0,748.6 266.5,748.6 267.0,748.6 267.4,748.6 267.9,748.6 268.3,748.6 268.8,748.6 269.2,748.6 269.7,748.6 270.2,748.6 270.6,748.6 271.1,748.6 271.5,748.6 272.0,748.6 272.4,748.6 272.9,748.6 273.4,738.7 273.8,738.7 274.3,738.7 274.7,738.7 275.2,738.7 275.6,738.7 276.1,738.7 276.5,738.7 277.0,738.7 277.5,738.7 277.9,738.7 278.4,738.7 278.8,738.7 279.3,738.7 279.7,738.7 280.2,738.7 280.7,732.5 281.1,732.5 281.6,732.5 282.0,732.5 282.5,732.5 282.9,732.5 283.4,732.5 283.9,732.5 284.3,732.5 284.8,732.5 285.2,732.5 285.7,732.5 286.1,732.5 286.6,732.5 287.1,732.5 287.5,732.5 288.0,732.5 288.4,732.5 288.9,732.5 289.3,718.1 289.8,718.1 290.3,718.1 290.7,718.1 291.2,718.1 291.6,714.0 292.1,714.0 292.5,714.0 293.0,714.0 293.5,714.0 293.9,714.0 294.4,714.0 294.8,714.0 295.3,714.0 295.7,714.0 296.2,714.0 296.7,714.0 297.1,714.0 297.6,714.0 298.0,714.0 298.5,714.0 298.9,714.0 299.4,714.0 299.9,714.0 300.3,714.0 300.8,714.0 301.2,714.0 301.7,714.0 302.1,714.0 302.6,714.0 303.0,714.0 303.5,714.0 304.0,714.0 304.4,714.0 304.9,714.0 305.3,714.0 305.8,714.0 306.2,714.0 306.7,714.0 307.2,696.4 307.6,696.4 308.1,696.4 308.5,696.4 309.0,696.4 309.4,696.4 309.9,696.4 310.4,696.4 310.8,687.7 311.3,687.7 311.7,687.7 312.2,687.7 312.6,687.7 313.1,687.7 313.6,687.7 314.0,687.7 314.5,687.7 314.9,687.7 315.4,687.7 315.8,687.7 316.3,687.7 316.8,687.7 317.2,674.5 317.7,674.5 318.1,674.5 318.6,674.5 319.0,674.5 319.5,674.5 320.0,674.5 320.4,674.5 320.9,674.5 321.3,674.5 321.8,674.5 322.2,674.5 322.7,674.5 323.2,674.5 323.6,674.5 324.1,674.5 324.5,674.5 325.0,674.5 325.4,674.5 325.9,674.5 326.4,674.5 326.8,674.5 327.3,674.5 327.7,674.5 328.2,674.5 328.6,674.5 329.1,674.5 329.5,674.5 330.0,669.7 330.5,669.7 330.9,669.7 331.4,669.7 331.8,669.7 332.3,667.4 332.7,664.6 333.2,664.6 333.7,664.6 334.1,664.6 334.6,664.6 335.0,664.6 335.5,664.6 335.9,664.6 336.4,664.6 336.9,664.6 337.3,664.6 337.8,664.6 338.2,664.6 338.7,664.6 339.1,664.6 339.6,664.6 340.1,664.6 340.5,664.6 341.0,664.6 341.4,664.6 341.9,664.6 342.3,664.6 342.8,664.6 343.3,664.6 343.7,664.6 344.2,664.6 344.6,651.1 345.1,651.1 345.5,648.9 346.0,648.9 346.5,648.9 346.9,648.9 347.4,648.9 347.8,648.9 348.3,647.0 348.7,647.0 349.2,647.0 349.7,647.0 350.1,647.0 350.6,647.0 351.0,647.0 351.5,647.0 351.9,647.0 352.4,647.0 352.9,647.0 353.3,647.0 353.8,639.9 354.2,639.9 354.7,639.9 355.1,639.9 355.6,639.9 356.0,639.9 356.5,639.9 357.0,636.9 357.4,636.9 357.9,636.9 358.3,636.9 358.8,636.9 359.2,636.9 359.7,636.9 360.2,636.9 360.6,636.9 361.1,636.9 361.5,636.9 362.0,636.9 362.4,636.9 362.9,636.9 363.4,636.9 363.8,636.9 364.3,636.9 364.7,636.9 365.2,636.9 365.6,636.9 366.1,636.9 366.6,636.9 367.0,636.9 367.5,636.9 367.9,636.9 368.4,636.9 368.8,636.9 369.3,636.9 369.8,636.9 370.2,636.9 370.7,636.9 371.1,626.7 371.6,626.7 372.0,626.7 372.5,626.7 373.0,626.7 373.4,626.7 373.9,626.7 374.3,626.7 374.8,626.7 375.2,626.7 375.7,626.7 376.2,626.7 376.6,626.7 377.1,626.7 377.5,622.0 378.0,622.0 378.4,622.0 378.9,622.0 379.4,622.0 379.8,622.0 380.3,622.0 380.7,622.0 381.2,621.7 381.6,621.7 382.1,621.7 382.5,621.7 383.0,621.7 383.5,621.7 383.9,621.7 384.4,621.7 384.8,620.1 385.3,620.1 385.7,620.1 386.2,620.1 386.7,620.1 387.1,620.1 387.6,620.1 388.0,620.1 388.5,620.1 388.9,616.6 389.4,616.6 389.9,616.6 390.3,616.6 390.8,616.6 391.2,616.6 391.7,616.6 392.1,615.7 392.6,615.7 393.1,615.7 393.5,615.7 394.0,615.7 394.4,615.7 394.9,615.7 395.3,615.7 395.8,615.7 396.3,615.7 396.7,615.7 397.2,615.7 397.6,615.7 398.1,615.7 398.5,615.7 399.0,615.7 399.5,615.7 399.9,615.7 400.4,615.7 400.8,615.7 401.3,615.7 401.7,615.7 402.2,615.7 402.7,615.7 403.1,615.7 403.6,615.7 404.0,615.7 404.5,615.7 404.9,615.7 405.4,615.7 405.9,615.7 406.3,615.7 406.8,615.7 407.2,615.7 407.7,615.7 408.1,615.7 408.6,615.7 409.0,606.4 409.5,606.4 410.0,606.4 410.4,606.4 410.9,606.4 411.3,606.4 411.8,606.4 412.2,606.4 412.7,606.4 413.2,606.4 413.6,600.4 414.1,600.4 414.5,600.4 415.0,600.4 415.4,600.4 415.9,598.4 416.4,598.4 416.8,598.4 417.3,598.4 417.7,598.4 418.2,598.4 418.6,596.3 419.1,596.3 419.6,596.3 420.0,596.3 420.5,596.3 420.9,596.3 421.4,596.3 421.8,596.3 422.3,596.3 422.8,596.3 423.2,596.3 423.7,590.5 424.1,590.5 424.6,590.2 425.0,590.2 425.5,590.2 426.0,590.2 426.4,590.2 426.9,586.6 427.3,586.6 427.8,586.6 428.2,586.6 428.7,586.6 429.2,586.1 429.6,586.1 430.1,586.1 430.5,586.1 431.0,586.1 431.4,586.1 431.9,586.1 432.4,586.1 432.8,586.1 433.3,586.1 433.7,586.1 434.2,586.1 434.6,586.1 435.1,586.1 435.5,586.1 436.0,586.1 436.5,586.1 436.9,586.1 437.4,586.1 437.8,586.1 438.3,586.1 438.7,586.1 439.2,586.1 439.7,586.1 440.1,586.1 440.6,586.1 441.0,586.1 441.5,582.4 441.9,582.4 442.4,582.4 442.9,582.4 443.3,582.4 443.8,582.4 444.2,582.4 444.7,582.4 445.1,582.4 445.6,570.5 445.6,748.6" fill="#d9d9d9"/>
<path d="M263.3 558.6V755.2M256.7 748.6H453.2M281.5 558.6V755.2M256.7 730.3H453.2M299.8 558.6V755.2M256.7 712.0H453.2M318.0 558.6V755.2M256.7 693.8H453.2M336.2 558.6V755.2M256.7 675.5H453.2M354.5 558.6V755.2M256.7 657.2H453.2M372.7 558.6V755.2M256.7 638.9H453.2M390.9 558.6V755.2M256.7 620.6H453.2M409.1 558.6V755.2M256.7 602.4H453.2M427.4 558.6V755.2M256.7 584.1H453.2M445.6 558.6V755.2M256.7 565.8H453.2" stroke="#cfcfcf" stroke-width="0.6" stroke-dasharray="0.8 3" fill="none"/>
<rect x="263.3" y="565.8" width="182.3" height="182.8" fill="none" stroke="#5a5a5a" stroke-width="0.9"/>
<path d="M263.3 748.6V748.6H272.5V733.4H280.0V723.2H281.4H282.7V718.1H291.6V702.9H298.0V692.7H303.1V687.7H316.9V672.4H325.6V667.4H332.6V662.3H335.9V657.2H340.0V652.1H342.7V647.0H345.1V636.9H346.1H348.7H349.9H353.6H356.5H370.7V626.7H373.5H377.5V621.7H384.5V616.6H385.0H391.7V611.5H397.9V606.4H400.7H413.5V596.3H423.4V586.1H441.1V570.9H445.6V565.8" fill="none" stroke="#ee82ee" stroke-width="0.8"/>
<path d="M263.3 748.6V748.6H268.6V738.7H280.5V719.0H285.3V714.0H306.8V684.4H315.3V674.5H329.8V664.6H344.2V639.9H346.5H356.6V630.0H358.0V625.1H363.2H366.7H370.5V620.1H371.6H388.7V615.2H392.3V610.3H401.3V605.3H408.5V600.4H415.9V595.4H419.2V590.5H419.7H424.4V585.6H426.4H438.6V575.7H445.6V565.8" fill="none" stroke="#ee82ee" stroke-width="0.8"/>
<path d="M263.3 748.6V748.6H268.1V736.4H280.4V718.1H283.7V705.9H288.7V693.8H289.8H305.4V675.5H313.3V669.4H321.6V663.3H324.6H330.8V657.2H336.4V651.1H345.4V638.9H354.0V632.8H361.7V626.7H369.7V620.6H374.6V614.5H377.2H380.8H388.0V608.5H407.4V596.3H417.9V590.2H426.6V584.1H431.8V578.0H441.8V571.9H445.6V565.8" fill="none" stroke="#ee82ee" stroke-width="0.8"/>
<path d="M263.3 748.6V748.6H268.3V736.1H269.4H272.5V727.8H276.0V719.5H279.9V711.2H284.1V702.9H292.0V690.4H300.8V682.1H305.2V673.8H308.0H312.9H316.6V669.7H332.0V657.2H343.6V640.6H347.1H351.8V636.4H359.1V628.1H363.6V624.0H369.6H374.2V619.8H374.5H377.1V615.7H386.6V611.5H394.2V607.3H396.5H401.2V603.2H404.1V599.0H407.0H410.0V594.9H420.1V586.6H422.1H426.4V582.4H429.5H437.5V574.1H445.6V565.8" fill="none" stroke="#ee82ee" stroke-width="0.8"/>
<path d="M263.3 748.6V748.6H267.2V736.1H278.6V719.5H284.8V707.1H291.4V694.6H293.8V690.4H298.6V682.1H305.5V678.0H309.9V673.8H312.4H322.2V665.5H330.3V657.2H332.4V648.9H334.8H347.9V632.3H350.2H351.7V628.1H356.1V624.0H358.2H360.8V619.8H363.0H371.3V615.7H374.5V611.5H380.7H390.7V603.2H395.3V599.0H397.5H405.4H410.1V594.9H416.1V590.7H417.9V586.6H422.0V582.4H428.8H445.6V565.8" fill="none" stroke="#ee82ee" stroke-width="0.8"/>
<path d="M263.3 748.6V748.6H266.1V740.3H268.4V736.1H279.3V711.2H281.1V707.1H282.9H286.7V698.7H289.1V690.4H304.6V673.8H306.9H312.2V669.7H324.3V661.4H337.2V648.9H342.2V640.6H347.0V632.3H349.2H365.7V619.8H372.3V615.7H384.6V607.3H386.9H393.9V603.2H396.0V599.0H398.8H402.2V594.9H406.6H418.7V586.6H420.1H423.8H429.1V582.4H433.4V578.3H434.8H439.9V574.1H441.6V570.0H445.6V565.8" fill="none" stroke="#ee82ee" stroke-width="0.8"/>
<path d="M263.3 748.6V748.6H271.5V722.5H277.1V709.4H283.6V696.4H310.5V670.3H318.0V663.7H320.9H333.9V650.7H335.6V644.1H336.3H346.5V631.1H356.4V624.6H359.0V618.0H370.8V611.5H376.7H392.2V605.0H395.1V598.4H396.5H398.9H418.5V585.4H419.7H425.2H429.8V578.9H430.6H437.9V572.3H445.6V565.8" fill="none" stroke="#ee82ee" stroke-width="0.8"/>
<path d="M263.3 748.6V748.6H268.6V733.4H275.1V723.2H278.0V713.1H280.0V708.0H303.5V677.5H304.5H309.3V672.4H316.1V662.3H318.7H323.1V657.2H325.5V652.1H328.5H332.4V647.0H353.6V626.7H356.9H365.6V621.7H378.5V616.6H379.6H384.1V611.5H385.1H390.0V606.4H391.7H408.6V596.3H409.7H412.2V591.2H413.7H416.8H421.9V586.1H424.4H425.4V581.0H429.9H437.9V576.0H443.0V570.9H445.6V565.8" fill="none" stroke="#ee82ee" stroke-width="0.8"/>
<path d="M263.3 748.6V748.6H269.5V733.8H275.9V719.0H279.6V709.1H287.9V689.3H290.9H295.5V679.4H300.0H313.0V669.6H323.1V659.7H334.3V644.8H336.6V639.9H348.0V625.1H354.0H356.0H364.7V620.1H368.5V615.2H374.5V610.3H375.4H389.2V605.3H407.2V590.5H410.5H417.0V585.6H422.1H433.0V575.7H437.6H438.7H440.6V570.7H445.6V565.8" fill="none" stroke="#ee82ee" stroke-width="0.8"/>
<path d="M263.3 748.6V739.7H265.6V735.2H267.4V730.8H275.3V712.9H277.6V708.5H279.2V704.0H288.2V686.2H289.5V681.7H296.6V672.8H304.7V668.3H309.7V663.9H313.9V659.4H323.3V655.0H334.2V646.1H335.5H337.8V641.6H339.1V637.1H343.5V628.2H352.4V623.8H357.3V619.3H361.3V614.8H364.1H382.7V610.4H389.0V605.9H395.0V601.5H402.6V597.0H407.1V592.6H408.0H416.7V588.1H423.6V583.6H430.1V579.2H432.4H445.6V565.8" fill="none" stroke="#ee82ee" stroke-width="0.8"/>
<path d="M263.3 748.6V743.1H267.3V732.0H268.3V726.4H280.7V704.3H287.5V687.7H297.1V676.6H303.0V671.0H309.1H311.8H320.9V660.0H323.6H325.1V654.4H331.0V648.9H336.5V637.8H343.5V626.7H344.7H349.4V621.2H363.8V615.7H365.0H370.1H373.3H409.0V593.5H412.7V588.0H419.3V582.4H427.2H436.3V576.9H440.8V571.3H442.1H445.6V565.8" fill="none" stroke="#ee82ee" stroke-width="0.8"/>
<path d="M263.3 748.6V739.2H267.1V729.9H276.8V711.1H278.8H281.5V706.4H285.2V697.0H289.8V687.7H296.2V678.3H299.9V668.9H302.8H305.0V664.2H311.9V659.5H313.3H317.0H318.9H328.4V645.5H330.8V640.8H343.4V626.7H346.8V622.0H349.1H355.7H361.9V617.4H365.1V612.7H369.7H378.5H385.7V608.0H388.9V603.3H390.8V598.6H394.9V593.9H397.7H416.8V584.5H421.0H435.0V575.2H442.6V570.5H445.6V565.8" fill="none" stroke="#ee82ee" stroke-width="0.8"/>
<path d="M263.3 748.6V737.8H268.6V727.1H270.8V721.7H280.5V705.6H285.5V689.5H286.6H297.1V673.3H309.1V657.2H315.0H318.8V651.8H320.8V646.4H331.2V641.1H333.6V635.7H345.4V624.9H347.7H357.8V614.2H361.9H366.4H374.8V608.8H391.2V603.4H394.6V598.1H398.9H400.4H401.2V592.7H402.8H405.0H408.9H411.9V587.3H416.1H425.7V581.9H436.4V576.6H442.1V571.2H443.7V565.8H445.6" fill="none" stroke="#ee82ee" stroke-width="0.8"/>
<path d="M263.3 748.6V748.6H266.7V732.5H289.1V689.5H300.1V673.3H305.4V668.0H310.4H313.5V657.2H320.2H328.4V646.4H335.2V641.1H337.9H338.7V635.7H352.3V619.6H358.3H361.0V614.2H361.0H364.0H367.8V608.8H370.4H374.0H378.8H384.9V603.4H389.9V598.1H394.5H397.9V592.7H406.6V587.3H417.8V581.9H420.9H429.0V576.6H444.3V565.8H445.6" fill="none" stroke="#ee82ee" stroke-width="0.8"/>
<path d="M263.3 748.6V740.3H270.4V719.5H276.2V707.1H278.8V694.6H282.2V686.3H285.6V682.1H292.8V673.8H296.9V669.7H304.5V661.4H308.2V653.0H312.4H326.3V640.6H330.5V636.4H333.6H338.1V628.1H345.7V624.0H350.8V615.7H358.8H366.4V611.5H372.4V607.3H374.7H381.5V603.2H388.5V599.0H398.4V590.7H401.6H402.6H404.3V586.6H412.2H415.9V582.4H429.0V578.3H429.8H433.2V574.1H436.8H436.9H442.6V570.0H443.9V565.8H445.6" fill="none" stroke="#ee82ee" stroke-width="0.8"/>
<path d="M263.3 748.6V748.6H273.0V725.2H280.8V711.1H281.7V706.4H283.4H288.8V697.0H294.8V687.7H305.8V673.6H313.0H317.3V664.2H320.5H324.6H336.8V645.5H338.2H350.5V636.1H359.4V626.7H365.5H369.5V622.0H373.2H381.2V617.4H384.2V612.7H385.7H388.3V608.0H391.9H394.2V603.3H396.6H397.7V598.6H404.2V593.9H418.8V584.5H422.1H428.3V579.9H433.8V575.2H438.5H440.1V570.5H441.9H445.6V565.8" fill="none" stroke="#ee82ee" stroke-width="0.8"/>
<path d="M256.7 755.2L453.2 558.6" stroke="#1a1a1a" stroke-width="1.3" stroke-dasharray="4.2 2.2 1 2.2"/>
<path d="M263.3 748.6 L265.3 742.3 L267.4 738.0 L269.4 731.8 L271.5 728.8 L273.5 724.1 L275.6 720.0 L277.6 714.8 L279.7 710.8 L281.7 706.9 L283.8 703.3 L285.8 702.1 L287.9 696.9 L289.9 693.0 L292.0 690.7 L294.0 689.2 L296.1 686.0 L298.1 683.5 L300.2 682.8 L302.2 679.9 L304.3 676.7 L306.3 675.7 L308.4 673.5 L310.4 671.6 L312.5 669.4 L314.5 667.5 L316.6 665.6 L318.6 664.5 L320.7 662.8 L322.7 661.3 L324.7 659.1 L326.8 657.3 L328.8 654.6 L330.9 652.5 L332.9 651.5 L335.0 649.4 L337.0 644.6 L339.1 642.6 L341.1 640.3 L343.2 635.3 L345.2 631.8 L347.3 631.8 L349.3 630.7 L351.4 629.2 L353.4 627.9 L355.5 626.0 L357.5 625.4 L359.6 623.3 L361.6 622.2 L363.7 620.0 L365.7 619.8 L367.8 618.1 L369.8 616.6 L371.9 616.2 L373.9 615.1 L376.0 614.9 L378.0 613.5 L380.1 610.8 L382.1 610.4 L384.2 610.3 L386.2 609.2 L388.2 607.4 L390.3 605.0 L392.3 605.0 L394.4 602.5 L396.4 602.2 L398.5 598.9 L400.5 598.9 L402.6 596.6 L404.6 596.2 L406.7 594.7 L408.7 592.2 L410.8 592.1 L412.8 590.3 L414.9 589.3 L416.9 589.1 L419.0 587.0 L421.0 585.0 L423.1 584.2 L425.1 583.0 L427.2 582.4 L429.2 579.4 L431.3 579.4 L433.3 576.0 L435.4 575.6 L437.4 573.7 L439.5 573.7 L441.5 570.4 L443.6 568.8 L445.6 565.8" fill="none" stroke="#9b30ff" stroke-width="2.3" stroke-linejoin="round"/>
<rect x="256.7" y="558.6" width="196.5" height="196.6" fill="none" stroke="#4a4a4a" stroke-width="1"/>
<path d="M251.4 748.6H256.7M263.3 755.2V760.5M251.4 712.0H256.7M299.8 755.2V760.5M251.4 675.5H256.7M336.2 755.2V760.5M251.4 638.9H256.7M372.7 755.2V760.5M251.4 602.4H256.7M409.1 755.2V760.5M251.4 565.8H256.7M445.6 755.2V760.5" stroke="#4a4a4a" stroke-width="0.9"/>
<text transform="translate(244.3 748.6) rotate(-90)" text-anchor="middle" font-family="Liberation Sans, sans-serif" font-size="8.7" fill="#222">0</text>
<text x="263.3" y="775.1" text-anchor="middle" font-family="Liberation Sans, sans-serif" font-size="8.7" fill="#222">100</text>
<text transform="translate(244.3 712.0) rotate(-90)" text-anchor="middle" font-family="Liberation Sans, sans-serif" font-size="8.7" fill="#222">20</text>
<text x="299.8" y="775.1" text-anchor="middle" font-family="Liberation Sans, sans-serif" font-size="8.7" fill="#222">80</text>
<text transform="translate(244.3 675.5) rotate(-90)" text-anchor="middle" font-family="Liberation Sans, sans-serif" font-size="8.7" fill="#222">40</text>
<text x="336.2" y="775.1" text-anchor="middle" font-family="Liberation Sans, sans-serif" font-size="8.7" fill="#222">60</text>
<text transform="translate(244.3 638.9) rotate(-90)" text-anchor="middle" font-family="Liberation Sans, sans-serif" font-size="8.7" fill="#222">60</text>
<text x="372.7" y="775.1" text-anchor="middle" font-family="Liberation Sans, sans-serif" font-size="8.7" fill="#222">40</text>
<text transform="translate(244.3 602.4) rotate(-90)" text-anchor="middle" font-family="Liberation Sans, sans-serif" font-size="8.7" fill="#222">80</text>
<text x="409.1" y="775.1" text-anchor="middle" font-family="Liberation Sans, sans-serif" font-size="8.7" fill="#222">20</text>
<text transform="translate(244.3 565.8) rotate(-90)" text-anchor="middle" font-family="Liberation Sans, sans-serif" font-size="8.7" fill="#222">100</text>
<text x="445.6" y="775.1" text-anchor="middle" font-family="Liberation Sans, sans-serif" font-size="8.7" fill="#222">0</text>
<text x="354.5" y="790.8" text-anchor="middle" font-family="Liberation Sans, sans-serif" font-size="8.7" fill="#222">Specificity (%)</text>
<text x="324.0" y="704.6" font-family="Liberation Sans, sans-serif" font-size="8.7" fill="#222">Overall AUC = 0.6 (0.58-0.63)</text>
<text x="324.0" y="716.9" font-family="Liberation Sans, sans-serif" font-size="8.7" fill="#222">Median AUC = 0.62 (0.54-0.7)</text>
<text x="484.2" y="550" font-family="Liberation Serif, serif" font-weight="bold" font-size="22">D</text>
<text x="571.1" y="548.1" font-family="Liberation Serif, serif" font-weight="bold" font-size="13.7">15-years iIBC-free</text>
<rect x="489.8" y="565.8" width="182.7" height="182.8" fill="#ececec"/>
<polygon points="489.8,748.6 489.8,748.6 490.3,748.6 490.7,748.6 491.2,748.6 491.6,748.6 492.1,748.6 492.5,748.6 493.0,748.6 493.5,748.6 493.9,748.6 494.4,748.6 494.8,748.6 495.3,748.6 495.8,748.6 496.2,748.6 496.7,748.6 497.1,748.6 497.6,748.6 498.0,748.6 498.5,748.6 499.0,748.6 499.4,748.6 499.9,748.6 500.3,748.6 500.8,748.6 501.2,748.6 501.7,748.6 502.2,744.0 502.6,744.0 503.1,744.0 503.5,744.0 504.0,744.0 504.5,744.0 504.9,744.0 505.4,744.0 505.8,744.0 506.3,744.0 506.7,744.0 507.2,744.0 507.7,744.0 508.1,744.0 508.6,744.0 509.0,744.0 509.5,744.0 509.9,744.0 510.4,744.0 510.9,744.0 511.3,744.0 511.8,744.0 512.2,744.0 512.7,744.0 513.2,744.0 513.6,744.0 514.1,723.9 514.5,719.1 515.0,719.1 515.4,719.1 515.9,713.2 516.4,713.2 516.8,713.2 517.3,713.2 517.7,713.2 518.2,713.2 518.6,713.2 519.1,713.2 519.6,713.2 520.0,713.2 520.5,713.2 520.9,713.2 521.4,713.2 521.9,713.2 522.3,713.2 522.8,713.2 523.2,712.9 523.7,712.9 524.1,712.9 524.6,712.9 525.1,712.9 525.5,712.9 526.0,712.9 526.4,712.9 526.9,712.9 527.3,695.5 527.8,695.5 528.3,695.5 528.7,695.5 529.2,695.5 529.6,695.5 530.1,695.5 530.6,695.5 531.0,694.3 531.5,694.3 531.9,694.3 532.4,694.3 532.8,694.3 533.3,694.3 533.8,694.3 534.2,694.3 534.7,694.3 535.1,694.3 535.6,694.3 536.0,689.6 536.5,689.6 537.0,685.8 537.4,685.8 537.9,685.8 538.3,685.8 538.8,685.8 539.3,685.8 539.7,685.8 540.2,685.8 540.6,683.7 541.1,683.7 541.5,683.7 542.0,683.7 542.5,683.7 542.9,683.7 543.4,683.7 543.8,683.7 544.3,683.7 544.7,683.7 545.2,683.7 545.7,683.7 546.1,683.7 546.6,683.7 547.0,683.7 547.5,683.7 548.0,683.7 548.4,683.7 548.9,683.7 549.3,672.1 549.8,672.1 550.2,671.9 550.7,671.9 551.2,671.9 551.6,671.9 552.1,671.9 552.5,671.9 553.0,671.9 553.4,671.9 553.9,671.9 554.4,671.9 554.8,671.9 555.3,671.9 555.7,671.9 556.2,671.9 556.7,671.9 557.1,671.9 557.6,671.9 558.0,671.9 558.5,671.9 558.9,671.9 559.4,671.9 559.9,671.9 560.3,671.9 560.8,671.9 561.2,671.9 561.7,659.7 562.1,659.7 562.6,659.7 563.1,659.7 563.5,659.7 564.0,659.7 564.4,659.7 564.9,659.7 565.4,654.3 565.8,654.3 566.3,654.3 566.7,654.3 567.2,654.3 567.6,654.3 568.1,654.3 568.6,654.3 569.0,654.3 569.5,654.3 569.9,654.3 570.4,654.3 570.8,654.3 571.3,654.3 571.8,654.3 572.2,649.8 572.7,649.8 573.1,649.8 573.6,649.8 574.1,648.4 574.5,648.4 575.0,648.4 575.4,648.4 575.9,648.4 576.3,648.4 576.8,648.4 577.3,648.4 577.7,646.1 578.2,646.1 578.6,646.1 579.1,646.1 579.5,646.1 580.0,646.1 580.5,646.1 580.9,646.1 581.4,646.1 581.8,646.1 582.3,646.1 582.8,646.1 583.2,643.5 583.7,643.5 584.1,643.5 584.6,643.5 585.0,643.5 585.5,643.5 586.0,643.5 586.4,643.5 586.9,643.5 587.3,643.5 587.8,638.9 588.2,638.9 588.7,638.9 589.2,638.9 589.6,638.9 590.1,638.9 590.5,638.9 591.0,634.4 591.5,634.4 591.9,634.4 592.4,634.4 592.8,634.4 593.3,634.4 593.7,634.4 594.2,634.4 594.7,634.4 595.1,634.4 595.6,634.4 596.0,628.2 596.5,628.2 596.9,628.2 597.4,625.2 597.9,625.2 598.3,625.2 598.8,625.2 599.2,625.2 599.7,625.2 600.2,625.2 600.6,625.2 601.1,625.2 601.5,625.2 602.0,625.2 602.4,625.2 602.9,625.1 603.4,625.1 603.8,625.1 604.3,620.1 604.7,620.1 605.2,620.1 605.6,618.9 606.1,618.9 606.6,618.9 607.0,618.9 607.5,618.0 607.9,618.0 608.4,618.0 608.9,618.0 609.3,617.4 609.8,617.4 610.2,617.4 610.7,617.4 611.1,617.4 611.6,617.4 612.1,617.4 612.5,617.4 613.0,617.4 613.4,617.4 613.9,617.4 614.3,617.4 614.8,617.4 615.3,617.4 615.7,617.4 616.2,617.4 616.6,617.4 617.1,617.4 617.6,617.4 618.0,617.4 618.5,617.4 618.9,617.4 619.4,617.4 619.8,617.4 620.3,617.4 620.8,617.4 621.2,617.4 621.7,617.4 622.1,617.4 622.6,617.4 623.0,617.4 623.5,617.4 624.0,617.4 624.4,617.4 624.9,617.4 625.3,617.4 625.8,617.4 626.3,617.4 626.7,617.4 627.2,617.4 627.6,617.4 628.1,617.4 628.5,616.1 629.0,616.1 629.5,616.1 629.9,616.1 630.4,616.1 630.8,616.1 631.3,616.1 631.7,616.1 632.2,603.6 632.7,603.6 633.1,603.6 633.6,603.6 634.0,603.6 634.5,603.6 635.0,603.6 635.4,603.6 635.9,603.6 636.3,603.6 636.8,603.6 637.2,603.6 637.7,603.6 638.2,603.6 638.6,603.6 639.1,603.6 639.5,603.6 640.0,593.9 640.4,593.9 640.9,593.9 641.4,593.9 641.8,593.9 642.3,593.9 642.7,593.9 643.2,593.9 643.7,593.9 644.1,593.9 644.6,591.0 645.0,589.4 645.5,589.4 645.9,589.4 646.4,589.4 646.9,589.4 647.3,589.4 647.8,589.4 648.2,589.4 648.7,589.4 649.1,589.4 649.6,588.6 650.1,585.6 650.5,585.6 651.0,585.6 651.4,585.6 651.9,585.6 652.4,584.7 652.8,584.7 653.3,584.7 653.7,584.7 654.2,584.7 654.6,584.7 655.1,584.7 655.6,582.8 656.0,582.8 656.5,582.8 656.9,582.8 657.4,582.8 657.8,582.8 658.3,582.8 658.8,582.8 659.2,582.8 659.7,582.8 660.1,582.8 660.6,582.8 661.1,582.8 661.5,582.8 662.0,582.8 662.4,582.8 662.9,582.8 663.3,582.8 663.8,582.8 664.3,578.9 664.7,578.9 665.2,578.9 665.6,578.9 666.1,578.9 666.5,578.9 667.0,578.9 667.5,578.9 667.9,575.7 668.4,575.7 668.8,575.7 669.3,575.7 669.8,575.7 670.2,575.7 670.7,575.7 671.1,575.7 671.6,574.9 672.0,574.9 672.5,574.9 672.5,748.6" fill="#d9d9d9"/>
<path d="M489.8 558.6V755.2M483.2 748.6H679.6M508.1 558.6V755.2M483.2 730.3H679.6M526.3 558.6V755.2M483.2 712.0H679.6M544.6 558.6V755.2M483.2 693.8H679.6M562.9 558.6V755.2M483.2 675.5H679.6M581.1 558.6V755.2M483.2 657.2H679.6M599.4 558.6V755.2M483.2 638.9H679.6M617.7 558.6V755.2M483.2 620.6H679.6M636.0 558.6V755.2M483.2 602.4H679.6M654.2 558.6V755.2M483.2 584.1H679.6M672.5 558.6V755.2M483.2 565.8H679.6" stroke="#cfcfcf" stroke-width="0.6" stroke-dasharray="0.8 3" fill="none"/>
<rect x="489.8" y="565.8" width="182.7" height="182.8" fill="none" stroke="#5a5a5a" stroke-width="0.9"/>
<path d="M489.8 748.6V748.6H494.6V736.8H500.6V725.0H505.3H512.2V719.1H515.6V713.2H523.2V701.4H526.2V695.5H526.9H530.7V689.6H536.9V683.7H549.3V671.9H561.3V654.3H571.8V648.4H577.7V642.5H583.1V636.6H585.3V630.7H592.6V624.8H601.0V618.9H602.4H603.5H605.5H607.3V613.0H609.7H615.2H620.7V607.1H627.4V601.2H631.8V595.3H636.0V589.4H643.3H649.2V583.5H652.6H655.3V577.6H658.0H665.6V571.7H672.5V565.8" fill="none" stroke="#db9411" stroke-width="0.8"/>
<path d="M489.8 748.6V748.6H491.7V744.0H513.8V712.0H522.7V693.8H527.6V684.6H531.4V680.0H531.8H541.2V670.9H545.4V666.3H554.9V657.2H561.9V652.6H568.5V648.1H572.4V643.5H577.5H587.7V638.9H590.8V634.4H595.9V625.2H602.8V616.1H605.1H631.8V597.8H637.1V593.2H640.5V588.6H641.1H647.1V584.1H647.6H649.1V579.5H656.1H661.0V574.9H662.8H672.5V565.8" fill="none" stroke="#db9411" stroke-width="0.8"/>
<path d="M489.8 748.6V748.6H502.1V723.9H514.2V709.1H522.4V694.3H535.8V679.4H536.3H548.4V669.6H553.8V659.7H565.3V649.8H574.0V639.9H580.5H587.5V630.0H594.3V625.1H602.7V620.1H605.5V615.2H613.6V610.3H624.0V605.3H629.0V600.4H634.9V590.5H635.6H643.1V585.6H644.6H652.3V580.6H654.5V575.7H671.2V565.8H672.5" fill="none" stroke="#db9411" stroke-width="0.8"/>
<path d="M489.8 748.6V748.6H494.6V736.0H498.1V729.7H502.7V717.1H504.7H515.9V698.2H523.8V691.9H526.8V685.6H527.5V679.3H529.6V673.0H539.9V666.7H545.1H551.5V660.4H557.6V654.0H561.1H563.7V647.7H572.0V641.4H575.1V635.1H579.4H581.2H586.5V628.8H589.8V622.5H595.9V616.2H598.0H601.7V609.9H607.1H613.0V603.6H618.5H625.4H639.8V591.0H645.0V584.7H655.3V578.4H662.8V572.1H663.9H671.8V565.8H672.5" fill="none" stroke="#db9411" stroke-width="0.8"/>
<path d="M489.8 748.6V748.6H491.9V742.1H499.1V722.5H501.1V716.0H512.8V696.4H519.4V689.8H526.4V683.3H528.6V676.8H533.9V670.3H542.0V663.7H551.0V657.2H559.4V644.1H561.6H564.8H571.7V637.6H572.6H584.6V631.1H586.7H591.3V624.6H594.2H595.6V618.0H598.0H599.2H600.7H609.1V611.5H617.4V605.0H623.7V598.4H627.5H632.5V591.9H642.2V585.4H644.5H647.1V578.9H656.7H667.8V572.3H672.1V565.8H672.5" fill="none" stroke="#db9411" stroke-width="0.8"/>
<path d="M489.8 748.6V733.8H492.3V728.8H509.8V699.2H511.0H513.3H515.8H521.9V689.3H531.5V674.5H534.7H539.0V669.6H541.6V664.6H553.5V649.8H556.5H561.5V644.8H569.4V635.0H573.3V630.0H574.0H583.7V625.1H586.3H588.4H604.1V610.3H614.1V605.3H617.9V600.4H622.4H630.4V595.4H633.2V590.5H642.9V580.6H647.1H651.6V575.7H659.4H665.1V570.7H670.7V565.8H672.5" fill="none" stroke="#db9411" stroke-width="0.8"/>
<path d="M489.8 748.6V743.9H493.2V734.5H495.3H512.9V706.4H526.2V683.0H532.9V673.6H541.6V668.9H548.3V659.5H557.6V650.2H560.6V645.5H563.9H579.9V631.4H587.4V622.0H588.8H589.9V617.4H597.8V612.7H607.6V608.0H613.8V603.3H629.0V593.9H630.4H644.5V584.5H651.5V579.9H653.4V575.2H657.5H658.9H664.0V570.5H672.5V565.8" fill="none" stroke="#db9411" stroke-width="0.8"/>
<path d="M489.8 748.6V740.1H491.2H499.5V718.8H502.0V714.6H509.1V701.8H515.1V693.3H521.1V689.1H525.5H530.8V680.6H533.7V672.1H549.8V650.8H550.1H560.7V638.1H568.5H577.4V629.6H579.2H589.9V621.1H598.0V616.8H608.4V608.3H621.2V599.8H630.6V591.3H641.6V587.1H644.0V582.8H645.2H664.1V570.1H668.8H669.7V565.8H672.5" fill="none" stroke="#db9411" stroke-width="0.8"/>
<path d="M489.8 748.6V739.2H496.5V725.2H498.6H504.8V711.1H514.0V692.4H519.5V683.0H521.6H530.7V673.6H533.3V668.9H538.2V664.2H542.1H545.5V659.5H553.6V650.2H556.1V645.5H562.4V636.1H567.1H572.9H577.5V631.4H582.8V626.7H583.4V622.0H587.2H592.0H597.4V617.4H628.4V593.9H635.4V589.2H640.8V584.5H650.0V575.2H655.8H661.4V570.5H672.5V565.8" fill="none" stroke="#db9411" stroke-width="0.8"/>
<path d="M489.8 748.6V737.5H490.7H500.3V715.4H509.6V698.7H512.3H521.2V682.1H531.1V665.5H531.6H533.3H534.3H539.7V660.0H540.6H545.9V654.4H546.8H551.0V648.9H556.1H559.4V643.4H561.6H568.0V637.8H575.0V632.3H583.1V626.7H591.4V621.2H595.1V615.7H599.9V610.1H611.3V604.6H613.0H619.0V599.0H628.7V593.5H631.0V588.0H641.7V582.4H642.7H647.0V576.9H652.1H660.6V571.3H662.6H670.0V565.8H672.5" fill="none" stroke="#db9411" stroke-width="0.8"/>
<path d="M489.8 748.6V742.1H499.9V716.0H508.2V702.9H512.4V696.4H526.3V676.8H530.6H536.1V670.3H540.9V663.7H543.7V657.2H555.6V644.1H560.4V637.6H560.9H567.1H573.8V631.1H578.8V624.6H580.5H582.4H589.9V618.0H593.0V611.5H600.2H602.7H614.7V605.0H619.5V598.4H621.5H626.1H636.0V585.4H639.9H646.5V578.9H651.9H653.5H656.4V572.3H661.8H662.3H670.2V565.8H672.5" fill="none" stroke="#db9411" stroke-width="0.8"/>
<path d="M489.8 748.6V742.9H493.0V720.0H500.2V702.9H514.8V685.8H516.9V680.0H531.5V662.9H532.4H537.8V657.2H544.0V651.5H546.6H550.8H557.4V640.1H561.8V634.4H568.2V628.6H573.8H577.0V622.9H582.3V617.2H588.2V611.5H595.1V605.8H601.5H602.1V600.1H615.3V594.4H617.3H623.2H627.7V588.6H631.5H632.6H649.7V577.2H651.7H662.9V571.5H669.8V565.8H672.5" fill="none" stroke="#db9411" stroke-width="0.8"/>
<path d="M489.8 748.6V748.6H493.3V737.2H500.3V725.8H504.2V720.0H511.9V708.6H513.9H517.6V697.2H522.4V685.8H527.7H540.4V674.3H547.8V668.6H551.4V657.2H559.9V645.8H565.3H569.1H572.4V640.1H575.2H576.6V634.4H577.6H592.1V622.9H600.0V617.2H604.4V611.5H616.1V605.8H618.4H620.0H628.4V600.1H631.4V594.4H638.1V588.6H640.1V582.9H640.6H648.5H651.1V577.2H662.8V571.5H667.4H672.5V565.8" fill="none" stroke="#db9411" stroke-width="0.8"/>
<path d="M489.8 748.6V748.6H498.1V726.3H507.3V712.9H509.7H527.2V681.7H539.8V668.3H552.8V655.0H560.7V646.1H582.8V632.7H589.8V628.2H597.2V619.3H602.5V614.8H611.4V605.9H614.0V601.5H617.8H622.4H627.8V597.0H631.5V592.6H635.3V588.1H644.5V583.6H647.2V579.2H650.5H655.5H663.1V570.3H666.6H672.5V565.8" fill="none" stroke="#db9411" stroke-width="0.8"/>
<path d="M489.8 748.6V743.5H506.6V708.0H512.0V697.8H517.3V692.7H522.8V682.6H524.2H532.7V677.5H538.2V667.4H538.9V662.3H546.8V657.2H551.6V647.0H555.0H558.3H560.8H563.0V642.0H570.4V636.9H571.2V631.8H573.2V626.7H577.5H581.8V621.7H588.2H597.0V616.6H600.0V611.5H606.0H612.6V606.4H617.3H623.5V596.3H637.5V586.1H644.5V581.0H647.2H653.0V576.0H655.6H657.4H665.5V570.9H672.5V565.8" fill="none" stroke="#db9411" stroke-width="0.8"/>
<path d="M489.8 748.6V748.6H494.4V726.4H510.2V698.7H522.6V676.6H540.0V654.4H542.0H543.0H546.5H554.9V648.9H556.8V643.4H567.7V637.8H571.6V632.3H586.4V621.2H589.4H598.1V610.1H604.2H607.0H613.9V604.6H617.3V599.0H621.5H624.6H630.2V593.5H632.8H641.6V582.4H653.7V576.9H660.0V571.3H661.1H669.4V565.8H672.5" fill="none" stroke="#db9411" stroke-width="0.8"/>
<path d="M483.2 755.2L679.6 558.6" stroke="#1a1a1a" stroke-width="1.3" stroke-dasharray="4.2 2.2 1 2.2"/>
<path d="M489.8 748.6 L491.9 744.2 L493.9 737.2 L496.0 732.3 L498.0 728.0 L500.1 724.0 L502.1 721.1 L504.2 718.0 L506.2 715.0 L508.3 712.5 L510.3 708.6 L512.4 706.4 L514.4 702.9 L516.5 700.0 L518.5 695.4 L520.6 692.7 L522.6 689.1 L524.7 686.0 L526.8 684.4 L528.8 681.0 L530.9 680.0 L532.9 676.3 L535.0 675.0 L537.0 671.0 L539.1 670.2 L541.1 667.9 L543.2 666.5 L545.2 665.3 L547.3 663.9 L549.3 662.6 L551.4 658.8 L553.4 657.4 L555.5 652.7 L557.5 652.2 L559.6 649.6 L561.6 647.2 L563.7 645.2 L565.8 642.4 L567.8 641.9 L569.9 640.8 L571.9 639.2 L574.0 636.5 L576.0 635.4 L578.1 635.4 L580.1 632.7 L582.2 631.5 L584.2 629.1 L586.3 627.0 L588.3 625.7 L590.4 623.6 L592.4 621.0 L594.5 621.0 L596.5 618.7 L598.6 616.9 L600.7 615.3 L602.7 614.2 L604.8 612.3 L606.8 611.6 L608.9 609.9 L610.9 609.9 L613.0 607.3 L615.0 606.9 L617.1 604.2 L619.1 602.0 L621.2 601.9 L623.2 600.2 L625.3 598.3 L627.3 596.2 L629.4 594.9 L631.4 592.9 L633.5 592.4 L635.5 590.4 L637.6 589.7 L639.7 585.2 L641.7 585.2 L643.8 583.3 L645.8 582.5 L647.9 581.1 L649.9 580.9 L652.0 579.0 L654.0 577.9 L656.1 576.6 L658.1 576.0 L660.2 574.2 L662.2 573.8 L664.3 570.9 L666.3 570.8 L668.4 566.2 L670.4 566.2 L672.5 565.8" fill="none" stroke="#8b4500" stroke-width="2.3" stroke-linejoin="round"/>
<rect x="483.2" y="558.6" width="196.4" height="196.6" fill="none" stroke="#4a4a4a" stroke-width="1"/>
<path d="M477.9 748.6H483.2M489.8 755.2V760.5M477.9 712.0H483.2M526.3 755.2V760.5M477.9 675.5H483.2M562.9 755.2V760.5M477.9 638.9H483.2M599.4 755.2V760.5M477.9 602.4H483.2M636.0 755.2V760.5M477.9 565.8H483.2M672.5 755.2V760.5" stroke="#4a4a4a" stroke-width="0.9"/>
<text transform="translate(471.3 748.6) rotate(-90)" text-anchor="middle" font-family="Liberation Sans, sans-serif" font-size="8.7" fill="#222">0</text>
<text x="489.8" y="775.1" text-anchor="middle" font-family="Liberation Sans, sans-serif" font-size="8.7" fill="#222">100</text>
<text transform="translate(471.3 712.0) rotate(-90)" text-anchor="middle" font-family="Liberation Sans, sans-serif" font-size="8.7" fill="#222">20</text>
<text x="526.3" y="775.1" text-anchor="middle" font-family="Liberation Sans, sans-serif" font-size="8.7" fill="#222">80</text>
<text transform="translate(471.3 675.5) rotate(-90)" text-anchor="middle" font-family="Liberation Sans, sans-serif" font-size="8.7" fill="#222">40</text>
<text x="562.9" y="775.1" text-anchor="middle" font-family="Liberation Sans, sans-serif" font-size="8.7" fill="#222">60</text>
<text transform="translate(471.3 638.9) rotate(-90)" text-anchor="middle" font-family="Liberation Sans, sans-serif" font-size="8.7" fill="#222">60</text>
<text x="599.4" y="775.1" text-anchor="middle" font-family="Liberation Sans, sans-serif" font-size="8.7" fill="#222">40</text>
<text transform="translate(471.3 602.4) rotate(-90)" text-anchor="middle" font-family="Liberation Sans, sans-serif" font-size="8.7" fill="#222">80</text>
<text x="636.0" y="775.1" text-anchor="middle" font-family="Liberation Sans, sans-serif" font-size="8.7" fill="#222">20</text>
<text transform="translate(471.3 565.8) rotate(-90)" text-anchor="middle" font-family="Liberation Sans, sans-serif" font-size="8.7" fill="#222">100</text>
<text x="672.5" y="775.1" text-anchor="middle" font-family="Liberation Sans, sans-serif" font-size="8.7" fill="#222">0</text>
<text x="581.1" y="790.8" text-anchor="middle" font-family="Liberation Sans, sans-serif" font-size="8.7" fill="#222">Specificity (%)</text>
<text x="548.4" y="704.6" font-family="Liberation Sans, sans-serif" font-size="8.7" fill="#222">Overall AUC = 0.61 (0.58-0.63)</text>
<text x="548.4" y="716.9" font-family="Liberation Sans, sans-serif" font-size="8.7" fill="#222">Median AUC = 0.62 (0.54-0.69)</text>
</svg>
</body></html>
